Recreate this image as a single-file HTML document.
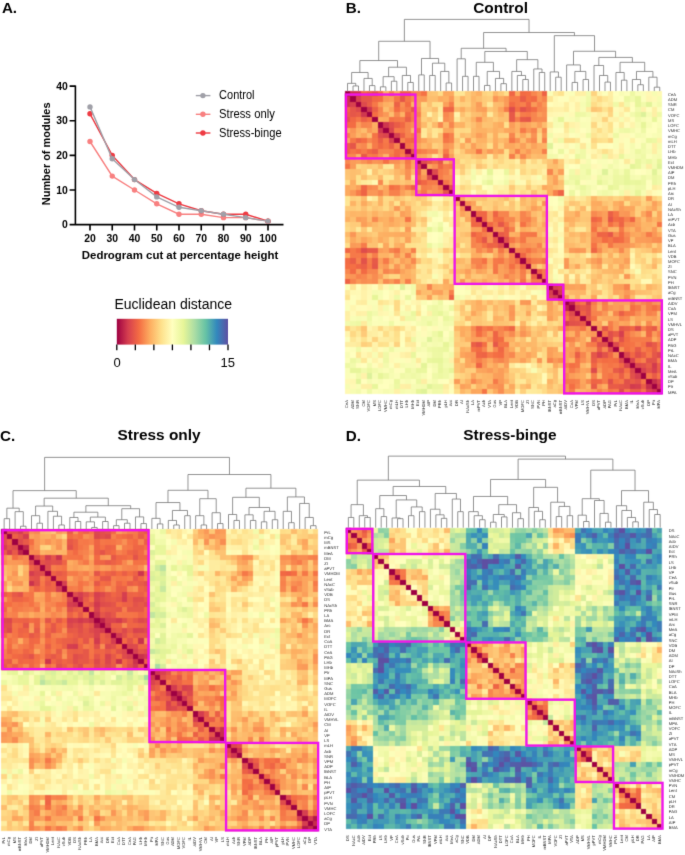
<!DOCTYPE html>
<html><head><meta charset="utf-8"><style>
html,body{margin:0;padding:0;background:#fff;}
svg{display:block;font-family:"Liberation Sans",sans-serif;}
</style></head><body>
<svg width="685" height="855" viewBox="0 0 685 855"><defs><filter id="bl" color-interpolation-filters="sRGB" x="0" y="0" width="685" height="855" filterUnits="userSpaceOnUse"><feConvolveMatrix order="3" kernelMatrix="0.0352 0.1172 0.0352 0.1172 0.3906 0.1172 0.0352 0.1172 0.0352" edgeMode="none" preserveAlpha="false"/></filter><filter id="bl2" color-interpolation-filters="sRGB" x="0" y="0" width="685" height="855" filterUnits="userSpaceOnUse"><feConvolveMatrix order="3" kernelMatrix="0.0094 0.0780 0.0094 0.0780 0.6504 0.0780 0.0094 0.0780 0.0094" edgeMode="none" preserveAlpha="false"/></filter></defs><rect width="685" height="855" fill="#fff"/><g filter="url(#bl)"><g transform="translate(344.800 91.100) scale(5.47759 5.22586)" shape-rendering="crispEdges"><path fill="#9e0142" d="M0 0h1v1H0zM1 1h1v1H1zM2 2h1v1H2zM3 3h1v1H3zM4 4h1v1H4zM5 5h1v1H5zM6 6h1v1H6zM7 7h1v1H7zM8 8h1v1H8zM9 9h1v1H9zM10 10h1v1H10zM11 11h1v1H11zM12 12h1v1H12zM13 13h1v1H13zM14 14h1v1H14zM15 15h1v1H15zM16 16h1v1H16zM17 17h1v1H17zM18 18h1v1H18zM19 19h1v1H19zM20 20h1v1H20zM21 21h1v1H21zM22 22h1v1H22zM23 23h1v1H23zM24 24h1v1H24zM25 25h1v1H25zM26 26h1v1H26zM27 27h1v1H27zM28 28h1v1H28zM29 29h1v1H29zM30 30h1v1H30zM31 31h1v1H31zM32 32h1v1H32zM33 33h1v1H33zM34 34h1v1H34zM35 35h1v1H35zM36 36h1v1H36zM37 37h1v1H37zM38 38h1v1H38zM39 39h1v1H39zM40 40h1v1H40zM41 41h1v1H41zM42 42h1v1H42zM43 43h1v1H43zM44 44h1v1H44zM45 45h1v1H45zM46 46h1v1H46zM47 47h1v1H47zM48 48h1v1H48zM49 49h1v1H49zM50 50h1v1H50zM51 51h1v1H51zM52 52h1v1H52zM53 53h1v1H53zM54 54h1v1H54zM55 55h1v1H55zM56 56h1v1H56zM57 57h1v1H57z"/><path fill="#cc344d" d="M1 0h1v1H1zM0 1h1v1H0z"/><path fill="#cf374e" d="M2 0h1v1H2zM0 2h1v1H0zM7 6h1v1H7zM6 7h1v1H6z"/><path fill="#f26a44" d="M3 0h1v1H3zM34 1h1v1H34zM30 2h1v1H30zM0 3h1v1H0zM34 3h1v1H34zM2 30h1v1H2zM1 34h1v1H1zM3 34h1v1H3z"/><path fill="#eb6046" d="M4 0h1v1H4zM5 3h1v1H5zM0 4h1v1H0zM3 5h1v1H3zM48 23h1v1H48zM23 48h1v1H23zM57 52h1v1H57zM52 57h1v1H52z"/><path fill="#e45449" d="M5 0h1v1H5zM0 5h1v1H0z"/><path fill="#f46e43" d="M6 0h1v1H6zM5 4h1v1H5zM4 5h1v1H4zM0 6h1v1H0zM46 24h1v1H46zM24 46h1v1H24z"/><path fill="#fdae61" d="M7 0h1v1H7zM6 5h1v1H6zM5 6h1v1H5zM24 6h1v1H24zM0 7h1v1H0zM15 10h1v1H15zM10 15h1v1H10zM49 21h1v1H49zM47 22h1v1H47zM6 24h1v1H6zM31 27h1v1H31zM36 28h1v1H36zM27 31h1v1H27zM28 36h1v1H28zM22 47h1v1H22zM56 47h1v1H56zM21 49h1v1H21zM47 56h1v1H47z"/><path fill="#f67e4b" d="M8 0h1v1H8zM31 5h1v1H31zM0 8h1v1H0zM27 25h1v1H27zM30 26h1v1H30zM25 27h1v1H25zM26 30h1v1H26zM5 31h1v1H5zM47 40h1v1H47zM48 44h1v1H48zM40 47h1v1H40zM44 48h1v1H44z"/><path fill="#fca85e" d="M9 0h1v1H9zM18 7h1v1H18zM32 8h1v1H32zM0 9h1v1H0zM30 10h1v1H30zM14 12h1v1H14zM12 14h1v1H12zM7 18h1v1H7zM24 22h1v1H24zM22 24h1v1H22zM57 24h1v1H57zM51 26h1v1H51zM10 30h1v1H10zM8 32h1v1H8zM48 43h1v1H48zM43 48h1v1H43zM26 51h1v1H26zM24 57h1v1H24z"/><path fill="#ed6246" d="M10 0h1v1H10zM0 10h1v1H0zM18 12h1v1H18zM12 18h1v1H12zM29 26h1v1H29zM26 29h1v1H26z"/><path fill="#ed6346" d="M11 0h1v1H11zM0 11h1v1H0z"/><path fill="#f8874f" d="M12 0h1v1H12zM34 0h1v1H34zM0 12h1v1H0zM49 25h1v1H49zM0 34h1v1H0zM45 41h1v1H45zM41 45h1v1H41zM25 49h1v1H25z"/><path fill="#f88850" d="M13 0h1v1H13zM6 4h1v1H6zM4 6h1v1H4zM0 13h1v1H0zM46 25h1v1H46zM50 30h1v1H50zM25 46h1v1H25zM49 47h1v1H49zM47 49h1v1H47zM30 50h1v1H30z"/><path fill="#f57245" d="M14 0h1v1H14zM0 14h1v1H0zM27 24h1v1H27zM45 26h1v1H45zM24 27h1v1H24zM26 45h1v1H26zM53 51h1v1H53zM51 53h1v1H51z"/><path fill="#fdc373" d="M15 0h1v1H15zM24 14h1v1H24zM0 15h1v1H0zM34 19h1v1H34zM27 21h1v1H27zM14 24h1v1H14zM21 27h1v1H21zM42 29h1v1H42zM19 34h1v1H19zM42 36h1v1H42zM29 42h1v1H29zM36 42h1v1H36zM52 44h1v1H52zM44 52h1v1H44z"/><path fill="#fdc675" d="M16 0h1v1H16zM22 5h1v1H22zM35 7h1v1H35zM22 10h1v1H22zM0 16h1v1H0zM5 22h1v1H5zM10 22h1v1H10zM36 22h1v1H36zM43 24h1v1H43zM46 34h1v1H46zM7 35h1v1H7zM22 36h1v1H22zM24 43h1v1H24zM34 46h1v1H34z"/><path fill="#fedb87" d="M17 0h1v1H17zM20 7h1v1H20zM22 7h1v1H22zM0 17h1v1H0zM7 20h1v1H7zM40 21h1v1H40zM7 22h1v1H7zM51 34h1v1H51zM56 36h2v1H56zM47 37h1v1H47zM21 40h1v1H21zM37 47h1v1H37zM34 51h1v1H34zM36 56h1v1H36zM36 57h1v1H36z"/><path fill="#fca95f" d="M18 0h1v1H18zM27 10h1v1H27zM29 10h1v1H29zM23 11h1v1H23zM0 18h1v1H0zM36 18h1v1H36zM11 23h1v1H11zM10 27h1v1H10zM10 29h1v1H10zM56 30h1v1H56zM34 33h1v1H34zM33 34h1v1H33zM18 36h1v1H18zM52 38h1v1H52zM47 43h1v1H47zM50 44h1v1H50zM43 47h1v1H43zM44 50h1v1H44zM38 52h1v1H38zM30 56h1v1H30z"/><path fill="#fcaa5f" d="M19 0h1v1H19zM28 1h1v1H28zM21 3h1v1H21zM7 5h1v1H7zM5 7h1v1H5zM25 8h1v1H25zM0 19h1v1H0zM21 20h1v1H21zM3 21h1v1H3zM20 21h1v1H20zM46 21h1v1H46zM8 25h1v1H8zM53 27h1v1H53zM1 28h1v1H1zM21 46h1v1H21zM27 53h1v1H27z"/><path fill="#fee593" d="M20 0h1v1H20zM16 12h1v1H16zM29 13h1v1H29zM28 14h2v1H28zM33 15h1v1H33zM12 16h1v1H12zM0 20h1v1H0zM14 28h1v1H14zM13 29h2v1H13zM15 33h1v1H15z"/><path fill="#fee695" d="M21 0h1v1H21zM45 1h1v1H45zM47 1h1v1H47zM30 15h1v1H30zM35 15h1v1H35zM0 21h1v1H0zM29 21h1v1H29zM38 23h1v1H38zM21 29h1v1H21zM15 30h1v1H15zM15 35h1v1H15zM50 35h1v1H50zM55 35h1v1H55zM23 38h1v1H23zM1 45h1v1H1zM1 47h1v1H1zM35 50h1v1H35zM35 55h1v1H35z"/><path fill="#fecb7a" d="M22 0h1v1H22zM28 21h1v1H28zM0 22h1v1H0zM44 25h1v1H44zM21 28h1v1H21zM25 44h1v1H25z"/><path fill="#fdbc6d" d="M23 0h1v1H23zM24 4h1v1H24zM36 6h1v1H36zM0 23h1v1H0zM34 23h1v1H34zM4 24h1v1H4zM56 25h1v1H56zM44 27h1v1H44zM23 34h1v1H23zM6 36h1v1H6zM27 44h1v1H27zM25 56h1v1H25z"/><path fill="#fdb063" d="M24 0h1v1H24zM19 11h1v1H19zM34 11h1v1H34zM11 19h1v1H11zM45 22h1v1H45zM0 24h1v1H0zM41 24h1v1H41zM43 27h1v1H43zM48 31h1v1H48zM49 32h1v1H49zM11 34h1v1H11zM50 39h1v1H50zM24 41h1v1H24zM46 41h1v1H46zM27 43h1v1H27zM22 45h1v1H22zM41 46h1v1H41zM31 48h1v1H31zM32 49h1v1H32zM39 50h1v1H39z"/><path fill="#fed380" d="M25 0h1v1H25zM45 0h1v1H45zM16 4h1v1H16zM24 13h1v1H24zM4 16h1v1H4zM21 18h1v1H21zM18 21h1v1H18zM54 21h1v1H54zM13 24h1v1H13zM0 25h1v1H0zM53 30h1v1H53zM56 35h1v1H56zM44 37h1v1H44zM37 44h1v1H37zM0 45h1v1H0zM30 53h1v1H30zM21 54h1v1H21zM35 56h1v1H35z"/><path fill="#fed985" d="M26 0h1v1H26zM20 8h1v1H20zM22 13h1v1H22zM30 19h1v1H30zM8 20h1v1H8zM44 20h1v1H44zM54 20h1v1H54zM13 22h1v1H13zM0 26h1v1H0zM19 30h1v1H19zM53 32h1v1H53zM54 33h1v1H54zM44 35h1v1H44zM20 44h1v1H20zM35 44h1v1H35zM32 53h1v1H32zM20 54h1v1H20zM33 54h1v1H33z"/><path fill="#fdb96a" d="M27 0h1v1H27zM23 7h1v1H23zM26 7h1v1H26zM33 10h1v1H33zM32 21h1v1H32zM7 23h1v1H7zM41 23h1v1H41zM7 26h1v1H7zM49 26h1v1H49zM0 27h1v1H0zM21 32h1v1H21zM10 33h1v1H10zM48 34h1v1H48zM23 41h1v1H23zM56 44h1v1H56zM34 48h1v1H34zM26 49h1v1H26zM44 56h1v1H44z"/><path fill="#feca78" d="M28 0h1v1H28zM42 21h1v1H42zM0 28h1v1H0zM43 29h1v1H43zM54 30h1v1H54zM21 42h1v1H21zM29 43h1v1H29zM30 54h1v1H30z"/><path fill="#fede8a" d="M29 0h1v1H29zM0 29h1v1H0z"/><path fill="#f06645" d="M30 0h1v1H30zM25 23h1v1H25zM25 24h1v1H25zM23 25h2v1H23zM0 30h1v1H0z"/><path fill="#fdab60" d="M31 0h1v1H31zM22 11h1v1H22zM37 19h1v1H37zM11 22h1v1H11zM36 23h1v1H36zM0 31h1v1H0zM23 36h1v1H23zM19 37h1v1H19z"/><path fill="#f26b44" d="M32 0h1v1H32zM11 9h1v1H11zM9 11h1v1H9zM0 32h1v1H0z"/><path fill="#f46e44" d="M33 0h1v1H33zM28 24h1v1H28zM24 28h1v1H24zM0 33h1v1H0zM56 41h1v1H56zM41 56h1v1H41z"/><path fill="#fa9957" d="M35 0h1v1H35zM7 4h1v1H7zM4 7h1v1H4zM33 7h1v1H33zM36 8h1v1H36zM33 11h1v1H33zM40 32h1v1H40zM7 33h1v1H7zM11 33h1v1H11zM0 35h1v1H0zM8 36h1v1H8zM51 38h1v1H51zM32 40h1v1H32zM49 44h1v1H49zM49 45h1v1H49zM53 46h1v1H53zM44 49h2v1H44zM38 51h1v1H38zM46 53h1v1H46z"/><path fill="#ee6345" d="M36 0h1v1H36zM27 23h1v1H27zM23 27h1v1H23zM35 34h1v1H35zM34 35h1v1H34zM0 36h1v1H0z"/><path fill="#fbfdb8" d="M37 0h1v1H37zM54 0h1v1H54zM53 7h1v1H53zM42 8h1v1H42zM54 9h1v1H54zM55 10h1v1H55zM31 15h1v1H31zM15 31h1v1H15zM0 37h1v1H0zM8 42h1v1H8zM7 53h1v1H7zM0 54h1v1H0zM9 54h1v1H9zM10 55h1v1H10z"/><path fill="#feeb9e" d="M38 0h1v1H38zM48 11h1v1H48zM26 12h1v1H26zM45 12h1v1H45zM26 13h1v1H26zM37 23h1v1H37zM38 25h1v1H38zM12 26h2v1H12zM57 33h1v1H57zM52 34h1v1H52zM23 37h1v1H23zM0 38h1v1H0zM25 38h1v1H25zM12 45h1v1H12zM11 48h1v1H11zM34 52h1v1H34zM33 57h1v1H33z"/><path fill="#fee28e" d="M39 0h1v1H39zM17 2h1v1H17zM48 7h1v1H48zM47 9h1v1H47zM29 12h1v1H29zM27 13h1v1H27zM2 17h1v1H2zM13 27h1v1H13zM12 29h1v1H12zM54 35h1v1H54zM47 38h1v1H47zM0 39h1v1H0zM9 47h1v1H9zM38 47h1v1H38zM7 48h1v1H7zM35 54h1v1H35z"/><path fill="#fffbb9" d="M40 0h1v1H40zM41 2h1v1H41zM51 11h1v1H51zM46 14h1v1H46zM39 30h1v1H39zM30 39h1v1H30zM0 40h1v1H0zM2 41h1v1H2zM14 46h1v1H14zM11 51h1v1H11z"/><path fill="#fbfeb9" d="M41 0h1v1H41zM0 41h1v1H0z"/><path fill="#feefa4" d="M42 0h1v1H42zM46 5h1v1H46zM56 11h1v1H56zM29 18h1v1H29zM37 28h1v1H37zM18 29h1v1H18zM52 32h1v1H52zM28 37h1v1H28zM0 42h1v1H0zM5 46h1v1H5zM32 52h1v1H32zM11 56h1v1H11z"/><path fill="#fff0a5" d="M43 0h1v1H43zM52 9h1v1H52zM56 10h1v1H56zM31 13h1v1H31zM24 15h1v1H24zM27 18h1v1H27zM15 24h1v1H15zM18 27h1v1H18zM13 31h1v1H13zM0 43h1v1H0zM9 52h1v1H9zM10 56h1v1H10z"/><path fill="#f3faad" d="M44 0h1v1H44zM57 2h1v1H57zM42 5h1v1H42zM53 12h1v1H53zM26 16h1v1H26zM44 19h1v1H44zM48 19h1v1H48zM16 26h1v1H16zM5 42h1v1H5zM0 44h1v1H0zM19 44h1v1H19zM19 48h1v1H19zM12 53h1v1H12zM2 57h1v1H2z"/><path fill="#fff5ae" d="M46 0h1v1H46zM46 6h1v1H46zM48 8h1v1H48zM0 46h1v1H0zM6 46h1v1H6zM8 48h1v1H8z"/><path fill="#fdfebb" d="M47 0h1v1H47zM52 8h1v1H52zM44 9h1v1H44zM50 13h1v1H50zM37 20h1v1H37zM37 26h1v1H37zM20 37h1v1H20zM26 37h1v1H26zM9 44h1v1H9zM0 47h1v1H0zM13 50h1v1H13zM8 52h1v1H8z"/><path fill="#feeea3" d="M48 0h1v1H48zM40 2h1v1H40zM37 3h1v1H37zM45 5h1v1H45zM47 6h1v1H47zM50 11h1v1H50zM55 14h1v1H55zM3 37h1v1H3zM2 40h1v1H2zM5 45h1v1H5zM6 47h1v1H6zM0 48h1v1H0zM11 50h1v1H11zM14 55h1v1H14z"/><path fill="#ffffbe" d="M49 0h1v1H49zM56 7h1v1H56zM40 15h1v1H40zM28 16h1v1H28zM38 21h1v1H38zM16 28h1v1H16zM39 29h1v1H39zM21 38h1v1H21zM29 39h1v1H29zM15 40h1v1H15zM0 49h1v1H0zM7 56h1v1H7z"/><path fill="#f9fcb5" d="M50 0h1v1H50zM43 3h1v1H43zM41 5h1v1H41zM37 11h1v1H37zM46 15h1v1H46zM11 37h1v1H11zM5 41h1v1H5zM3 43h1v1H3zM15 46h1v1H15zM0 50h1v1H0z"/><path fill="#fcfebb" d="M51 0h1v1H51zM54 1h1v1H54zM43 5h1v1H43zM41 10h1v1H41zM40 11h1v1H40zM44 12h1v1H44zM55 12h1v1H55zM38 34h1v1H38zM34 38h1v1H34zM11 40h1v1H11zM10 41h1v1H10zM5 43h1v1H5zM12 44h1v1H12zM0 51h1v1H0zM1 54h1v1H1zM12 55h1v1H12z"/><path fill="#eef8a4" d="M52 0h1v1H52zM49 8h1v1H49zM41 16h1v1H41zM50 16h1v1H50zM40 17h1v1H40zM17 40h1v1H17zM16 41h1v1H16zM8 49h1v1H8zM16 50h1v1H16zM0 52h1v1H0z"/><path fill="#fafdb7" d="M53 0h1v1H53zM40 4h1v1H40zM49 4h1v1H49zM44 6h1v1H44zM37 9h1v1H37zM46 13h1v1H46zM40 14h1v1H40zM55 15h1v1H55zM9 37h1v1H9zM4 40h1v1H4zM14 40h1v1H14zM6 44h1v1H6zM13 46h1v1H13zM4 49h1v1H4zM0 53h1v1H0zM15 55h1v1H15z"/><path fill="#fff8b3" d="M55 0h1v1H55zM38 1h1v1H38zM37 7h1v1H37zM37 29h1v1H37zM39 36h1v1H39zM7 37h1v1H7zM29 37h1v1H29zM1 38h1v1H1zM36 39h1v1H36zM0 55h1v1H0z"/><path fill="#f7fcb2" d="M56 0h1v1H56zM57 1h1v1H57zM53 6h1v1H53zM54 8h1v1H54zM42 10h1v1H42zM51 12h1v1H51zM50 15h1v1H50zM53 16h1v1H53zM54 19h1v1H54zM10 42h1v1H10zM15 50h1v1H15zM12 51h1v1H12zM6 53h1v1H6zM16 53h1v1H16zM8 54h1v1H8zM19 54h1v1H19zM0 56h1v1H0zM1 57h1v1H1z"/><path fill="#fff9b4" d="M57 0h1v1H57zM0 57h1v1H0z"/><path fill="#d7414e" d="M2 1h1v1H2zM1 2h1v1H1z"/><path fill="#e55649" d="M3 1h1v1H3zM10 1h1v1H10zM1 3h1v1H1zM1 10h1v1H1zM12 11h1v1H12zM11 12h1v1H11zM19 18h1v1H19zM18 19h1v1H18zM28 25h1v1H28zM25 28h1v1H25z"/><path fill="#e55749" d="M4 1h1v1H4zM1 4h1v1H1zM33 5h1v1H33zM5 33h1v1H5zM56 50h1v1H56zM50 56h1v1H50z"/><path fill="#f16844" d="M5 1h1v1H5zM11 4h1v1H11zM1 5h1v1H1zM12 9h1v1H12zM4 11h1v1H4zM9 12h1v1H9zM26 25h1v1H26zM25 26h1v1H25zM42 40h1v1H42zM40 42h1v1H40zM52 45h1v1H52zM52 50h1v1H52zM45 52h1v1H45zM50 52h1v1H50z"/><path fill="#f36c43" d="M6 1h1v1H6zM11 2h1v1H11zM1 6h1v1H1zM2 11h1v1H2zM49 24h1v1H49zM47 28h1v1H47zM28 47h1v1H28zM51 47h1v1H51zM24 49h1v1H24zM51 49h1v1H51zM47 51h1v1H47zM49 51h1v1H49z"/><path fill="#fa9656" d="M7 1h1v1H7zM27 1h1v1H27zM13 5h1v1H13zM1 7h1v1H1zM33 9h1v1H33zM18 10h1v1H18zM5 13h1v1H5zM10 18h1v1H10zM33 23h1v1H33zM46 23h1v1H46zM51 23h1v1H51zM1 27h1v1H1zM9 33h1v1H9zM23 33h1v1H23zM48 41h1v1H48zM50 41h1v1H50zM23 46h1v1H23zM41 48h1v1H41zM41 50h1v1H41zM23 51h1v1H23z"/><path fill="#fb9d59" d="M8 1h1v1H8zM31 4h1v1H31zM35 4h1v1H35zM30 6h1v1H30zM1 8h1v1H1zM50 22h1v1H50zM56 26h1v1H56zM53 28h2v1H53zM6 30h1v1H6zM4 31h1v1H4zM4 35h1v1H4zM49 41h1v1H49zM54 41h1v1H54zM41 49h1v1H41zM22 50h1v1H22zM28 53h1v1H28zM28 54h1v1H28zM41 54h1v1H41zM26 56h1v1H26z"/><path fill="#f57747" d="M9 1h1v1H9zM1 9h1v1H1zM48 28h1v1H48zM28 48h1v1H28z"/><path fill="#f57647" d="M11 1h1v1H11zM10 7h1v1H10zM18 9h1v1H18zM7 10h1v1H7zM11 10h1v1H11zM1 11h1v1H1zM10 11h1v1H10zM9 18h1v1H9zM34 27h1v1H34zM30 28h1v1H30zM32 28h1v1H32zM48 29h1v1H48zM28 30h1v1H28zM28 32h1v1H28zM27 34h1v1H27zM52 42h1v1H52zM29 48h1v1H29zM42 52h1v1H42zM55 54h1v1H55zM54 55h1v1H54z"/><path fill="#f88a50" d="M12 1h1v1H12zM1 12h1v1H1zM45 23h1v1H45zM29 24h1v1H29zM27 26h1v1H27zM26 27h1v1H26zM24 29h1v1H24zM55 44h1v1H55zM23 45h1v1H23zM44 55h1v1H44z"/><path fill="#fb9c59" d="M13 1h1v1H13zM29 2h1v1H29zM1 13h1v1H1zM2 29h1v1H2z"/><path fill="#fa9b58" d="M14 1h1v1H14zM1 14h1v1H1zM55 20h1v1H55zM30 29h1v1H30zM34 29h1v1H34zM29 30h1v1H29zM29 34h1v1H29zM56 46h1v1H56zM20 55h1v1H20zM46 56h1v1H46z"/><path fill="#fdbe6e" d="M15 1h2v1H15zM7 3h1v1H7zM16 3h1v1H16zM3 7h1v1H3zM24 12h1v1H24zM31 12h1v1H31zM34 12h1v1H34zM1 15h1v1H1zM1 16h1v1H1zM3 16h1v1H3zM12 24h1v1H12zM12 31h1v1H12zM12 34h1v1H12zM56 37h1v1H56zM37 56h1v1H37z"/><path fill="#fdad61" d="M17 1h1v1H17zM1 17h1v1H1zM31 24h1v1H31zM24 31h1v1H24z"/><path fill="#fdb164" d="M18 1h1v1H18zM29 9h1v1H29zM35 10h1v1H35zM25 11h1v1H25zM1 18h1v1H1zM23 22h1v1H23zM22 23h1v1H22zM11 25h1v1H11zM9 29h1v1H9zM51 30h1v1H51zM10 35h1v1H10zM46 43h1v1H46zM43 46h1v1H43zM30 51h1v1H30z"/><path fill="#fa9857" d="M19 1h1v1H19zM36 2h1v1H36zM19 5h1v1H19zM22 9h1v1H22zM1 19h1v1H1zM5 19h1v1H5zM9 22h1v1H9zM2 36h1v1H2zM53 40h1v1H53zM47 42h1v1H47zM42 47h1v1H42zM40 53h1v1H40z"/><path fill="#fed07e" d="M20 1h1v1H20zM20 14h1v1H20zM25 14h1v1H25zM1 20h1v1H1zM14 20h1v1H14zM47 20h1v1H47zM26 21h1v1H26zM29 22h1v1H29zM14 25h1v1H14zM21 26h1v1H21zM31 26h1v1H31zM22 29h1v1H22zM26 31h1v1H26zM20 47h1v1H20z"/><path fill="#fdb365" d="M21 1h1v1H21zM12 2h1v1H12zM31 7h1v1H31zM31 10h1v1H31zM2 12h1v1H2zM1 21h1v1H1zM30 23h1v1H30zM33 26h1v1H33zM30 27h1v1H30zM23 30h1v1H23zM27 30h1v1H27zM7 31h1v1H7zM10 31h1v1H10zM51 31h1v1H51zM50 32h1v1H50zM26 33h1v1H26zM32 50h1v1H32zM31 51h1v1H31z"/><path fill="#fecb79" d="M22 1h1v1H22zM25 1h1v1H25zM23 9h1v1H23zM28 10h1v1H28zM17 12h1v1H17zM12 17h1v1H12zM46 20h1v1H46zM1 22h1v1H1zM9 23h1v1H9zM1 25h1v1H1zM10 28h1v1H10zM44 30h1v1H44zM42 35h1v1H42zM53 37h1v1H53zM35 42h1v1H35zM30 44h1v1H30zM20 46h1v1H20zM37 53h1v1H37z"/><path fill="#fdb567" d="M23 1h1v1H23zM8 2h1v1H8zM12 7h1v1H12zM2 8h1v1H2zM23 8h1v1H23zM7 12h1v1H7zM32 20h1v1H32zM49 22h1v1H49zM1 23h1v1H1zM8 23h1v1H8zM43 28h1v1H43zM20 32h1v1H20zM45 33h1v1H45zM51 33h1v1H51zM43 38h1v1H43zM28 43h1v1H28zM38 43h1v1H38zM33 45h1v1H33zM22 49h1v1H22zM33 51h1v1H33z"/><path fill="#fdbf6f" d="M24 1h1v1H24zM31 8h1v1H31zM38 15h1v1H38zM1 24h1v1H1zM35 25h1v1H35zM8 31h1v1H8zM25 35h1v1H25zM15 38h1v1H15z"/><path fill="#fecf7d" d="M26 1h1v1H26zM14 3h1v1H14zM14 5h1v1H14zM21 5h1v1H21zM3 14h1v1H3zM5 14h1v1H5zM27 20h1v1H27zM5 21h1v1H5zM53 23h1v1H53zM1 26h1v1H1zM20 27h1v1H20zM42 31h1v1H42zM54 32h1v1H54zM43 33h1v1H43zM55 33h1v1H55zM31 42h1v1H31zM33 43h1v1H33zM23 53h1v1H23zM32 54h1v1H32zM33 55h1v1H33z"/><path fill="#fa9a58" d="M29 1h1v1H29zM34 2h1v1H34zM26 11h1v1H26zM30 25h1v1H30zM11 26h1v1H11zM53 26h1v1H53zM55 28h1v1H55zM1 29h1v1H1zM25 30h1v1H25zM41 30h1v1H41zM43 30h1v1H43zM2 34h1v1H2zM57 40h1v1H57zM30 41h1v1H30zM30 43h1v1H30zM26 53h1v1H26zM28 55h1v1H28zM40 57h1v1H40z"/><path fill="#f67948" d="M30 1h1v1H30zM33 4h1v1H33zM1 30h1v1H1zM4 33h1v1H4zM43 40h1v1H43zM40 43h1v1H40zM48 45h1v1H48zM45 48h1v1H45zM55 50h1v1H55zM50 55h1v1H50z"/><path fill="#f67949" d="M31 1h1v1H31zM32 27h1v1H32zM1 31h1v1H1zM27 32h1v1H27zM52 49h1v1H52zM49 52h1v1H49z"/><path fill="#e95d47" d="M32 1h1v1H32zM9 6h1v1H9zM6 9h1v1H6zM1 32h1v1H1zM51 45h1v1H51zM49 46h1v1H49zM46 49h1v1H46zM45 51h1v1H45zM55 52h1v1H55zM52 55h1v1H52z"/><path fill="#f47044" d="M33 1h1v1H33zM31 3h1v1H31zM3 31h1v1H3zM1 33h1v1H1zM51 48h1v1H51zM55 49h1v1H55zM48 51h1v1H48zM49 55h1v1H49z"/><path fill="#fa9556" d="M35 1h1v1H35zM1 35h1v1H1z"/><path fill="#f7844e" d="M36 1h1v1H36zM34 7h1v1H34zM18 15h1v1H18zM15 18h1v1H15zM29 23h1v1H29zM32 23h1v1H32zM51 28h1v1H51zM23 29h1v1H23zM23 32h1v1H23zM7 34h1v1H7zM1 36h1v1H1zM51 37h1v1H51zM28 51h1v1H28zM37 51h1v1H37z"/><path fill="#fee696" d="M37 1h1v1H37zM50 2h1v1H50zM37 30h1v1H37zM1 37h1v1H1zM30 37h1v1H30zM47 39h1v1H47zM39 47h1v1H39zM2 50h1v1H2z"/><path fill="#fffdbc" d="M39 1h1v1H39zM52 2h1v1H52zM43 9h1v1H43zM53 9h1v1H53zM38 10h1v1H38zM46 10h1v1H46zM48 13h1v1H48zM28 15h1v1H28zM20 16h1v1H20zM16 20h1v1H16zM15 28h1v1H15zM10 38h1v1H10zM1 39h1v1H1zM9 43h1v1H9zM10 46h1v1H10zM13 48h1v1H13zM2 52h1v1H2zM9 53h1v1H9z"/><path fill="#fdfebc" d="M40 1h1v1H40zM57 3h1v1H57zM41 8h1v1H41zM55 8h1v1H55zM53 10h1v1H53zM42 14h1v1H42zM57 19h1v1H57zM37 21h1v1H37zM21 37h1v1H21zM1 40h1v1H1zM8 41h1v1H8zM14 42h1v1H14zM10 53h1v1H10zM8 55h1v1H8zM3 57h1v1H3zM19 57h1v1H19z"/><path fill="#fff6af" d="M41 1h1v1H41zM45 11h1v1H45zM52 31h1v1H52zM1 41h1v1H1zM11 45h1v1H11zM31 52h1v1H31z"/><path fill="#fffab7" d="M42 1h1v1H42zM39 2h1v1H39zM50 8h1v1H50zM50 9h1v1H50zM44 11h1v1H44zM45 16h1v1H45zM55 36h1v1H55zM2 39h1v1H2zM1 42h1v1H1zM11 44h1v1H11zM16 45h1v1H16zM8 50h2v1H8zM36 55h1v1H36z"/><path fill="#f9fdb6" d="M43 1h1v1H43zM43 6h1v1H43zM56 8h1v1H56zM49 9h1v1H49zM44 10h1v1H44zM47 14h1v1H47zM51 14h1v1H51zM25 16h1v1H25zM28 17h1v1H28zM16 25h1v1H16zM39 25h1v1H39zM17 28h1v1H17zM38 35h1v1H38zM35 38h1v1H35zM25 39h1v1H25zM1 43h1v1H1zM6 43h1v1H6zM10 44h1v1H10zM14 47h1v1H14zM9 49h1v1H9zM14 51h1v1H14zM8 56h1v1H8z"/><path fill="#f0f9a8" d="M44 1h1v1H44zM57 16h1v1H57zM54 18h1v1H54zM47 19h1v1H47zM1 44h1v1H1zM19 47h1v1H19zM18 54h1v1H18zM16 57h1v1H16z"/><path fill="#fed884" d="M46 1h1v1H46zM14 2h1v1H14zM2 14h1v1H2zM35 21h1v1H35zM21 35h1v1H21zM1 46h1v1H1z"/><path fill="#feeda1" d="M48 1h1v1H48zM46 4h1v1H46zM47 7h1v1H47zM46 11h1v1H46zM41 13h1v1H41zM21 17h1v1H21zM17 21h1v1H17zM38 32h1v1H38zM32 38h1v1H32zM13 41h1v1H13zM4 46h1v1H4zM11 46h1v1H11zM7 47h1v1H7zM1 48h1v1H1z"/><path fill="#fcfeba" d="M49 1h1v1H49zM51 4h1v1H51zM57 5h1v1H57zM51 9h1v1H51zM51 10h1v1H51zM39 12h1v1H39zM50 14h1v1H50zM45 15h1v1H45zM27 17h1v1H27zM26 18h1v1H26zM38 22h1v1H38zM18 26h1v1H18zM17 27h1v1H17zM37 32h1v1H37zM39 33h1v1H39zM32 37h1v1H32zM22 38h1v1H22zM12 39h1v1H12zM33 39h1v1H33zM15 45h1v1H15zM1 49h1v1H1zM14 50h1v1H14zM4 51h1v1H4zM9 51h2v1H9zM5 57h1v1H5z"/><path fill="#ffffbf" d="M50 1h1v1H50zM52 3h1v1H52zM39 7h1v1H39zM45 13h1v1H45zM41 14h1v1H41zM53 15h1v1H53zM27 16h1v1H27zM24 17h1v1H24zM25 18h1v1H25zM40 18h1v1H40zM17 24h1v1H17zM18 25h1v1H18zM16 27h1v1H16zM7 39h1v1H7zM18 40h1v1H18zM14 41h1v1H14zM13 45h1v1H13zM1 50h1v1H1zM3 52h1v1H3zM15 53h1v1H15z"/><path fill="#ecf7a2" d="M51 1h1v1H51zM56 16h1v1H56zM56 17h1v1H56zM1 51h1v1H1zM16 56h2v1H16z"/><path fill="#f2faab" d="M52 1h1v1H52zM53 3h1v1H53zM37 8h1v1H37zM54 11h1v1H54zM54 13h1v1H54zM43 14h1v1H43zM42 18h1v1H42zM44 18h1v1H44zM50 19h1v1H50zM8 37h1v1H8zM18 42h1v1H18zM14 43h1v1H14zM18 44h1v1H18zM19 50h1v1H19zM1 52h1v1H1zM3 53h1v1H3zM11 54h1v1H11zM13 54h1v1H13z"/><path fill="#e7f59a" d="M53 1h1v1H53zM53 2h1v1H53zM57 13h1v1H57zM53 19h1v1H53zM1 53h2v1H1zM19 53h1v1H19zM13 57h1v1H13z"/><path fill="#fff6b0" d="M55 1h1v1H55zM37 4h1v1H37zM40 10h1v1H40zM30 16h1v1H30zM16 30h1v1H16zM4 37h1v1H4zM10 40h1v1H10zM1 55h1v1H1z"/><path fill="#fff9b5" d="M56 1h1v1H56zM38 2h1v1H38zM39 4h1v1H39zM41 4h1v1H41zM38 8h1v1H38zM43 8h1v1H43zM43 13h1v1H43zM45 14h1v1H45zM31 16h1v1H31zM32 17h1v1H32zM16 31h1v1H16zM17 32h1v1H17zM2 38h1v1H2zM8 38h1v1H8zM4 39h1v1H4zM4 41h1v1H4zM8 43h1v1H8zM13 43h1v1H13zM14 45h1v1H14zM1 56h1v1H1z"/><path fill="#dd4a4c" d="M3 2h1v1H3zM2 3h1v1H2z"/><path fill="#e95c47" d="M4 2h1v1H4zM2 4h1v1H2zM56 49h1v1H56zM56 54h1v1H56zM49 56h1v1H49zM54 56h1v1H54z"/><path fill="#f67848" d="M5 2h1v1H5zM2 5h1v1H2zM13 11h1v1H13zM11 13h1v1H11zM19 14h1v1H19zM14 19h1v1H14z"/><path fill="#fb9e5a" d="M6 2h1v1H6zM2 6h1v1H2zM32 6h1v1H32zM19 12h1v1H19zM12 19h1v1H12zM34 22h1v1H34zM47 24h1v1H47zM46 29h1v1H46zM52 29h1v1H52zM6 32h1v1H6zM22 34h1v1H22zM57 45h1v1H57zM29 46h1v1H29zM24 47h1v1H24zM29 52h1v1H29zM45 57h1v1H45z"/><path fill="#fdb062" d="M7 2h1v1H7zM2 7h1v1H2z"/><path fill="#ec6246" d="M9 2h1v1H9zM2 9h1v1H2z"/><path fill="#f99053" d="M10 2h1v1H10zM12 6h1v1H12zM2 10h1v1H2zM15 11h1v1H15zM6 12h1v1H6zM11 15h1v1H11zM18 16h1v1H18zM16 18h1v1H16zM56 28h1v1H56zM36 30h1v1H36zM30 36h1v1H30zM28 56h1v1H28z"/><path fill="#fba15b" d="M13 2h1v1H13zM24 3h1v1H24zM35 6h1v1H35zM2 13h1v1H2zM3 24h1v1H3zM34 24h1v1H34zM55 24h1v1H55zM24 34h1v1H24zM6 35h1v1H6zM56 43h1v1H56zM24 55h1v1H24zM43 56h1v1H43z"/><path fill="#fdc171" d="M15 2h1v1H15zM29 5h1v1H29zM32 13h1v1H32zM2 15h1v1H2zM23 20h1v1H23zM20 23h1v1H20zM5 29h1v1H5zM40 30h1v1H40zM13 32h1v1H13zM56 32h1v1H56zM40 38h1v1H40zM46 38h1v1H46zM57 39h1v1H57zM30 40h1v1H30zM38 40h1v1H38zM38 46h1v1H38zM32 56h1v1H32zM39 57h1v1H39z"/><path fill="#fee08b" d="M16 2h1v1H16zM48 6h1v1H48zM17 7h1v1H17zM26 10h1v1H26zM29 11h1v1H29zM2 16h1v1H2zM7 17h1v1H7zM22 18h1v1H22zM18 22h1v1H18zM10 26h1v1H10zM11 29h1v1H11zM43 31h1v1H43zM55 34h1v1H55zM31 43h1v1H31zM6 48h1v1H6zM34 55h1v1H34z"/><path fill="#fba05a" d="M18 2h1v1H18zM32 10h1v1H32zM2 18h1v1H2zM26 24h1v1H26zM24 26h1v1H24zM10 32h1v1H10zM45 32h1v1H45zM49 37h1v1H49zM49 40h1v1H49zM53 44h1v1H53zM32 45h1v1H32zM37 49h1v1H37zM40 49h1v1H40zM44 53h1v1H44z"/><path fill="#f67d4a" d="M19 2h1v1H19zM32 4h1v1H32zM2 19h1v1H2zM4 32h1v1H4zM34 32h1v1H34zM32 34h1v1H32zM36 34h1v1H36zM34 36h1v1H34z"/><path fill="#fed582" d="M20 2h1v1H20zM48 4h1v1H48zM16 5h1v1H16zM45 9h1v1H45zM5 16h1v1H5zM2 20h1v1H2zM49 20h1v1H49zM41 26h1v1H41zM49 31h1v1H49zM43 32h1v1H43zM26 41h1v1H26zM32 43h1v1H32zM9 45h1v1H9zM4 48h1v1H4zM20 49h1v1H20zM31 49h1v1H31z"/><path fill="#fece7c" d="M21 2h1v1H21zM15 3h1v1H15zM20 10h1v1H20zM3 15h1v1H3zM21 15h1v1H21zM10 20h1v1H10zM56 20h1v1H56zM2 21h1v1H2zM15 21h1v1H15zM28 22h1v1H28zM22 28h1v1H22zM52 35h1v1H52zM48 39h1v1H48zM39 48h1v1H39zM35 52h1v1H35zM20 56h1v1H20z"/><path fill="#fed17f" d="M22 2h1v1H22zM15 7h1v1H15zM26 8h1v1H26zM7 15h1v1H7zM26 20h1v1H26zM2 22h1v1H2zM26 22h1v1H26zM8 26h1v1H8zM20 26h1v1H20zM22 26h1v1H22zM47 36h1v1H47zM36 47h1v1H36z"/><path fill="#fdb869" d="M23 2h1v1H23zM25 5h1v1H25zM14 10h1v1H14zM24 10h1v1H24zM10 14h1v1H10zM2 23h1v1H2zM10 24h1v1H10zM5 25h1v1H5zM40 26h1v1H40zM41 27h1v1H41zM26 40h1v1H26zM27 41h1v1H27zM54 46h1v1H54zM46 54h1v1H46z"/><path fill="#fa9c59" d="M24 2h1v1H24zM2 24h1v1H2z"/><path fill="#fecc7a" d="M25 2h1v1H25zM27 5h1v1H27zM22 6h1v1H22zM50 20h1v1H50zM6 22h1v1H6zM2 25h1v1H2zM5 27h1v1H5zM40 27h1v1H40zM35 33h1v1H35zM33 35h1v1H33zM48 35h1v1H48zM48 37h1v1H48zM57 38h1v1H57zM27 40h1v1H27zM35 48h1v1H35zM37 48h1v1H37zM20 50h1v1H20zM38 57h1v1H38z"/><path fill="#fee99a" d="M26 2h1v1H26zM20 5h1v1H20zM26 14h1v1H26zM22 17h1v1H22zM22 19h1v1H22zM28 19h1v1H28zM5 20h1v1H5zM17 22h1v1H17zM19 22h1v1H19zM2 26h1v1H2zM14 26h1v1H14zM19 28h1v1H19zM37 36h1v1H37zM44 36h1v1H44zM36 37h1v1H36zM36 44h1v1H36z"/><path fill="#fdbd6e" d="M27 2h1v1H27zM21 8h1v1H21zM16 9h1v1H16zM17 11h1v1H17zM27 12h1v1H27zM9 16h1v1H9zM11 17h1v1H11zM38 18h1v1H38zM8 21h1v1H8zM54 24h1v1H54zM2 27h1v1H2zM12 27h1v1H12zM18 38h1v1H18zM53 38h1v1H53zM57 42h1v1H57zM38 53h1v1H38zM24 54h1v1H24zM42 57h1v1H42z"/><path fill="#fdba6b" d="M28 2h1v1H28zM14 6h1v1H14zM18 6h1v1H18zM15 12h1v1H15zM36 12h1v1H36zM6 14h1v1H6zM12 15h1v1H12zM37 17h1v1H37zM6 18h1v1H6zM33 22h1v1H33zM40 23h1v1H40zM2 28h1v1H2zM41 29h1v1H41zM54 29h1v1H54zM48 30h1v1H48zM22 33h1v1H22zM47 34h1v1H47zM46 35h1v1H46zM12 36h1v1H12zM45 36h1v1H45zM17 37h1v1H17zM23 40h1v1H23zM29 41h1v1H29zM36 45h1v1H36zM35 46h1v1H35zM34 47h1v1H34zM30 48h1v1H30zM29 54h1v1H29z"/><path fill="#f67a49" d="M31 2h1v1H31zM12 5h1v1H12zM9 7h1v1H9zM32 7h1v1H32zM7 9h1v1H7zM5 12h1v1H5zM17 15h1v1H17zM15 17h1v1H15zM50 26h1v1H50zM55 27h1v1H55zM2 31h1v1H2zM7 32h1v1H7zM26 50h1v1H26zM27 55h1v1H27z"/><path fill="#f7814c" d="M32 2h1v1H32zM19 8h1v1H19zM19 9h1v1H19zM12 10h1v1H12zM14 11h1v1H14zM10 12h1v1H10zM11 14h1v1H11zM8 19h2v1H8zM38 19h1v1H38zM31 30h1v1H31zM30 31h1v1H30zM2 32h1v1H2zM35 32h1v1H35zM32 35h1v1H32zM19 38h1v1H19zM52 40h1v1H52zM55 42h1v1H55zM54 51h1v1H54zM40 52h1v1H40zM51 54h1v1H51zM42 55h1v1H42z"/><path fill="#ef6545" d="M33 2h1v1H33zM45 24h1v1H45zM52 24h1v1H52zM33 32h1v1H33zM2 33h1v1H2zM32 33h1v1H32zM24 45h1v1H24zM24 52h1v1H24z"/><path fill="#f7824d" d="M35 2h1v1H35zM35 29h1v1H35zM2 35h1v1H2zM29 35h1v1H29zM53 48h1v1H53zM48 53h1v1H48z"/><path fill="#fffdbb" d="M37 2h1v1H37zM52 5h1v1H52zM47 10h1v1H47zM45 19h1v1H45zM2 37h1v1H2zM19 45h1v1H19zM10 47h1v1H10zM5 52h1v1H5z"/><path fill="#fff0a6" d="M42 2h1v1H42zM47 2h1v1H47zM36 15h1v1H36zM31 20h1v1H31zM20 31h1v1H20zM44 31h1v1H44zM15 36h1v1H15zM2 42h1v1H2zM31 44h1v1H31zM2 47h1v1H2z"/><path fill="#f6fcb2" d="M43 2h1v1H43zM48 17h1v1H48zM2 43h1v1H2zM17 48h1v1H17z"/><path fill="#edf8a3" d="M44 2h1v1H44zM56 9h1v1H56zM50 17h1v1H50zM2 44h1v1H2zM17 50h1v1H17zM9 56h1v1H9z"/><path fill="#fedc88" d="M45 2h1v1H45zM57 20h1v1H57zM51 21h1v1H51zM56 31h1v1H56zM54 34h1v1H54zM51 36h1v1H51zM2 45h1v1H2zM21 51h1v1H21zM36 51h1v1H36zM34 54h1v1H34zM31 56h1v1H31zM20 57h1v1H20z"/><path fill="#fee898" d="M46 2h1v1H46zM14 7h1v1H14zM7 14h1v1H7zM33 14h1v1H33zM36 14h1v1H36zM43 20h1v1H43zM14 33h1v1H14zM37 34h1v1H37zM14 36h1v1H14zM34 37h1v1H34zM20 43h1v1H20zM2 46h1v1H2z"/><path fill="#feea9c" d="M48 2h1v1H48zM26 4h1v1H26zM14 8h1v1H14zM48 12h1v1H48zM51 13h1v1H51zM8 14h1v1H8zM20 15h1v1H20zM22 15h1v1H22zM25 19h1v1H25zM15 20h1v1H15zM15 22h1v1H15zM19 25h1v1H19zM4 26h1v1H4zM43 26h1v1H43zM38 30h1v1H38zM40 34h1v1H40zM30 38h1v1H30zM34 40h1v1H34zM26 43h1v1H26zM2 48h1v1H2zM12 48h1v1H12zM13 51h1v1H13z"/><path fill="#f0f9a7" d="M49 2h1v1H49zM50 7h1v1H50zM54 10h1v1H54zM43 11h1v1H43zM43 12h1v1H43zM47 17h1v1H47zM53 18h1v1H53zM11 43h2v1H11zM17 47h1v1H17zM2 49h1v1H2zM7 50h1v1H7zM18 53h1v1H18zM10 54h1v1H10z"/><path fill="#f3faac" d="M51 2h1v1H51zM52 4h1v1H52zM44 14h1v1H44zM23 16h1v1H23zM43 16h1v1H43zM39 20h1v1H39zM16 23h1v1H16zM38 36h1v1H38zM36 38h1v1H36zM20 39h1v1H20zM16 43h1v1H16zM14 44h1v1H14zM2 51h1v1H2zM4 52h1v1H4z"/><path fill="#f2faaa" d="M54 2h1v1H54zM53 5h1v1H53zM37 12h1v1H37zM41 17h1v1H41zM12 37h1v1H12zM17 41h1v1H17zM5 53h1v1H5zM2 54h1v1H2z"/><path fill="#e2f399" d="M55 2h1v1H55zM2 55h1v1H2z"/><path fill="#f9fdb5" d="M56 2h1v1H56zM49 7h1v1H49zM35 16h1v1H35zM16 35h1v1H16zM7 49h1v1H7zM2 56h1v1H2z"/><path fill="#cf384e" d="M4 3h1v1H4zM3 4h1v1H3z"/><path fill="#f7854e" d="M6 3h1v1H6zM3 6h1v1H3zM11 6h1v1H11zM30 8h1v1H30zM6 11h1v1H6zM37 15h1v1H37zM28 23h1v1H28zM23 28h1v1H23zM8 30h1v1H8zM34 30h1v1H34zM30 34h1v1H30zM15 37h1v1H15zM46 42h1v1H46zM49 42h1v1H49zM50 43h1v1H50zM42 46h1v1H42zM42 49h1v1H42zM43 50h1v1H43z"/><path fill="#fca55d" d="M8 3h1v1H8zM33 6h1v1H33zM19 7h1v1H19zM3 8h1v1H3zM13 10h1v1H13zM10 13h1v1H10zM7 19h1v1H7zM53 24h1v1H53zM36 25h1v1H36zM46 26h1v1H46zM6 33h1v1H6zM25 36h1v1H25zM45 39h1v1H45zM46 40h1v1H46zM39 45h1v1H39zM26 46h1v1H26zM40 46h1v1H40zM24 53h1v1H24z"/><path fill="#f46c43" d="M9 3h1v1H9zM3 9h1v1H3z"/><path fill="#f8884f" d="M10 3h1v1H10zM35 3h1v1H35zM18 4h1v1H18zM34 9h1v1H34zM3 10h1v1H3zM32 12h1v1H32zM4 18h1v1H4zM30 24h1v1H30zM46 28h1v1H46zM24 30h1v1H24zM12 32h1v1H12zM9 34h1v1H9zM3 35h1v1H3zM56 42h1v1H56zM28 46h1v1H28zM42 56h1v1H42z"/><path fill="#f67b4a" d="M11 3h1v1H11zM29 3h1v1H29zM10 5h1v1H10zM5 10h1v1H5zM3 11h1v1H3zM3 29h1v1H3zM53 41h1v1H53zM55 47h1v1H55zM41 53h1v1H41zM47 55h1v1H47z"/><path fill="#e75a48" d="M12 3h1v1H12zM32 5h1v1H32zM3 12h1v1H3zM5 32h1v1H5z"/><path fill="#f99355" d="M13 3h1v1H13zM31 9h1v1H31zM3 13h1v1H3zM19 13h1v1H19zM16 14h1v1H16zM14 16h1v1H14zM13 19h1v1H13zM36 21h1v1H36zM50 29h1v1H50zM9 31h1v1H9zM46 32h1v1H46zM21 36h1v1H21zM32 46h1v1H32zM57 47h1v1H57zM29 50h1v1H29zM47 57h1v1H47z"/><path fill="#feea9b" d="M17 3h1v1H17zM40 7h1v1H40zM47 8h1v1H47zM3 17h1v1H3zM20 18h1v1H20zM18 20h1v1H18zM41 22h1v1H41zM42 26h1v1H42zM57 34h1v1H57zM53 35h1v1H53zM41 36h1v1H41zM7 40h1v1H7zM22 41h1v1H22zM36 41h1v1H36zM26 42h1v1H26zM8 47h1v1H8zM35 53h1v1H35zM34 57h1v1H34z"/><path fill="#f06745" d="M18 3h1v1H18zM17 14h1v1H17zM14 17h1v1H14zM3 18h1v1H3zM49 28h1v1H49zM55 46h1v1H55zM28 49h1v1H28zM46 55h1v1H46z"/><path fill="#ee6445" d="M19 3h1v1H19zM3 19h1v1H3zM39 19h1v1H39zM50 25h1v1H50zM29 27h1v1H29zM46 27h1v1H46zM27 29h1v1H27zM19 39h1v1H19zM55 45h1v1H55zM27 46h1v1H27zM25 50h1v1H25zM45 55h1v1H45z"/><path fill="#fdbb6c" d="M20 3h1v1H20zM28 9h1v1H28zM25 12h1v1H25zM3 20h1v1H3zM29 20h1v1H29zM52 21h1v1H52zM27 22h1v1H27zM42 24h1v1H42zM12 25h1v1H12zM22 27h1v1H22zM9 28h1v1H9zM52 28h1v1H52zM20 29h1v1H20zM36 29h1v1H36zM29 36h1v1H29zM24 42h1v1H24zM21 52h1v1H21zM28 52h1v1H28z"/><path fill="#fdc070" d="M22 3h1v1H22zM21 4h1v1H21zM23 4h1v1H23zM26 5h1v1H26zM28 5h1v1H28zM17 8h1v1H17zM17 9h1v1H17zM37 14h1v1H37zM8 17h2v1H8zM25 20h1v1H25zM4 21h1v1H4zM3 22h1v1H3zM4 23h1v1H4zM20 25h1v1H20zM5 26h1v1H5zM34 26h1v1H34zM5 28h1v1H5zM47 32h1v1H47zM26 34h1v1H26zM49 35h1v1H49zM14 37h1v1H14zM45 38h1v1H45zM54 38h1v1H54zM38 45h1v1H38zM32 47h1v1H32zM35 49h1v1H35zM38 54h1v1H38z"/><path fill="#fdb466" d="M23 3h1v1H23zM20 6h1v1H20zM31 6h1v1H31zM34 6h1v1H34zM36 10h1v1H36zM6 20h1v1H6zM55 22h1v1H55zM3 23h1v1H3zM56 24h1v1H56zM55 25h1v1H55zM35 26h2v1H35zM52 26h1v1H52zM54 26h1v1H54zM57 30h1v1H57zM6 31h1v1H6zM46 31h1v1H46zM50 31h1v1H50zM6 34h1v1H6zM26 35h1v1H26zM10 36h1v1H10zM26 36h1v1H26zM55 37h1v1H55zM42 38h1v1H42zM42 39h1v1H42zM38 42h2v1H38zM31 46h1v1H31zM31 50h1v1H31zM26 52h1v1H26zM26 54h1v1H26zM22 55h1v1H22zM25 55h1v1H25zM37 55h1v1H37zM24 56h1v1H24zM30 57h1v1H30z"/><path fill="#fb9e59" d="M25 3h1v1H25zM24 8h1v1H24zM39 15h1v1H39zM8 24h1v1H8zM3 25h1v1H3zM34 31h1v1H34zM31 34h1v1H31zM50 37h1v1H50zM15 39h1v1H15zM37 50h1v1H37z"/><path fill="#fec776" d="M26 3h1v1H26zM3 26h1v1H3zM57 26h1v1H57zM40 35h1v1H40zM46 36h1v1H46zM56 39h1v1H56zM35 40h1v1H35zM36 46h1v1H36zM39 56h1v1H39zM26 57h1v1H26z"/><path fill="#fdbd6d" d="M27 3h1v1H27zM32 9h1v1H32zM25 10h1v1H25zM38 14h1v1H38zM10 25h1v1H10zM3 27h1v1H3zM9 32h1v1H9zM14 38h1v1H14z"/><path fill="#fca45d" d="M28 3h1v1H28zM30 7h1v1H30zM38 13h1v1H38zM3 28h1v1H3zM7 30h1v1H7zM13 38h1v1H13z"/><path fill="#de4c4b" d="M30 3h1v1H30zM3 30h1v1H3zM57 50h1v1H57zM50 57h1v1H50z"/><path fill="#e2524a" d="M32 3h1v1H32zM3 32h1v1H3zM50 47h1v1H50zM47 50h1v1H47zM56 51h1v1H56zM51 56h1v1H51z"/><path fill="#eb5f47" d="M33 3h1v1H33zM3 33h1v1H3z"/><path fill="#f88d52" d="M36 3h1v1H36zM19 17h1v1H19zM17 19h1v1H17zM51 27h1v1H51zM3 36h1v1H3zM27 51h1v1H27z"/><path fill="#fff2a9" d="M38 3h2v1H38zM49 5h1v1H49zM50 10h1v1H50zM49 12h1v1H49zM57 18h1v1H57zM38 29h1v1H38zM39 32h1v1H39zM43 35h1v1H43zM3 38h1v1H3zM29 38h1v1H29zM3 39h1v1H3zM32 39h1v1H32zM35 43h1v1H35zM5 49h1v1H5zM12 49h1v1H12zM10 50h1v1H10zM18 57h1v1H18z"/><path fill="#feec9f" d="M40 3h1v1H40zM50 6h1v1H50zM33 16h1v1H33zM23 18h1v1H23zM29 19h1v1H29zM18 23h1v1H18zM19 29h1v1H19zM16 33h1v1H16zM3 40h1v1H3zM6 50h1v1H6z"/><path fill="#fffcb9" d="M41 3h1v1H41zM20 17h1v1H20zM17 20h1v1H17zM39 26h1v1H39zM26 39h1v1H26zM3 41h1v1H3z"/><path fill="#fff1a8" d="M42 3h1v1H42zM47 4h1v1H47zM42 15h1v1H42zM3 42h1v1H3zM15 42h1v1H15zM4 47h1v1H4z"/><path fill="#feeb9d" d="M44 3h1v1H44zM45 7h1v1H45zM33 13h1v1H33zM44 22h1v1H44zM38 26h1v1H38zM13 33h1v1H13zM46 37h1v1H46zM26 38h1v1H26zM46 39h1v1H46zM3 44h1v1H3zM22 44h1v1H22zM7 45h1v1H7zM37 46h1v1H37zM39 46h1v1H39z"/><path fill="#fdc473" d="M45 3h1v1H45zM15 5h1v1H15zM20 9h1v1H20zM5 15h1v1H5zM9 20h1v1H9zM24 20h1v1H24zM30 21h1v1H30zM33 21h1v1H33zM20 24h1v1H20zM21 30h1v1H21zM21 33h1v1H21zM45 35h1v1H45zM55 38h1v1H55zM48 42h1v1H48zM3 45h1v1H3zM35 45h1v1H35zM42 48h1v1H42zM38 55h1v1H38z"/><path fill="#feca79" d="M46 3h1v1H46zM15 8h1v1H15zM8 15h1v1H8zM48 21h1v1H48zM57 37h1v1H57zM3 46h1v1H3zM21 48h1v1H21zM37 57h1v1H37z"/><path fill="#fee28f" d="M47 3h1v1H47zM45 10h1v1H45zM44 33h1v1H44zM42 34h1v1H42zM53 36h1v1H53zM34 42h1v1H34zM33 44h1v1H33zM10 45h1v1H10zM3 47h1v1H3zM36 53h1v1H36z"/><path fill="#fecf7c" d="M48 3h1v1H48zM56 29h1v1H56zM41 39h1v1H41zM39 41h1v1H39zM3 48h1v1H3zM29 56h1v1H29z"/><path fill="#fffbb8" d="M49 3h1v1H49zM26 19h1v1H26zM56 19h1v1H56zM19 26h1v1H19zM52 33h1v1H52zM39 35h1v1H39zM35 39h1v1H35zM3 49h1v1H3zM33 52h1v1H33zM19 56h1v1H19z"/><path fill="#fff7b2" d="M50 3h1v1H50zM38 31h1v1H38zM31 38h1v1H31zM3 50h1v1H3z"/><path fill="#fee797" d="M51 3h1v1H51zM16 8h1v1H16zM31 14h1v1H31zM8 16h1v1H8zM14 31h1v1H14zM37 33h1v1H37zM57 35h1v1H57zM33 37h1v1H33zM3 51h1v1H3zM35 57h1v1H35z"/><path fill="#fff2aa" d="M54 3h1v1H54zM55 19h1v1H55zM3 54h1v1H3zM19 55h1v1H19z"/><path fill="#fffebd" d="M55 3h1v1H55zM54 15h1v1H54zM23 19h1v1H23zM19 23h1v1H19zM15 54h1v1H15zM3 55h1v1H3z"/><path fill="#feefa5" d="M56 3h1v1H56zM56 4h1v1H56zM3 56h2v1H3z"/><path fill="#fdbe6f" d="M8 4h1v1H8zM4 8h1v1H4zM39 17h1v1H39zM17 39h1v1H17z"/><path fill="#f88950" d="M9 4h1v1H9zM24 5h1v1H24zM17 6h1v1H17zM4 9h1v1H4zM6 17h1v1H6zM55 23h1v1H55zM5 24h1v1H5zM54 40h1v1H54zM40 54h1v1H40zM23 55h1v1H23z"/><path fill="#fdb264" d="M10 4h1v1H10zM28 4h1v1H28zM21 6h1v1H21zM27 6h1v1H27zM24 7h2v1H24zM24 9h2v1H24zM4 10h1v1H4zM6 21h1v1H6zM7 24h1v1H7zM9 24h1v1H9zM7 25h1v1H7zM9 25h1v1H9zM6 27h1v1H6zM4 28h1v1H4zM50 34h1v1H50zM51 41h1v1H51zM34 50h1v1H34zM41 51h1v1H41z"/><path fill="#f67f4b" d="M12 4h1v1H12zM31 11h1v1H31zM4 12h1v1H4zM30 12h1v1H30zM18 14h1v1H18zM14 18h1v1H14zM12 30h1v1H12zM32 30h1v1H32zM11 31h1v1H11zM30 32h1v1H30zM54 45h1v1H54zM45 54h1v1H45z"/><path fill="#f7834d" d="M13 4h1v1H13zM11 8h1v1H11zM8 11h1v1H8zM4 13h1v1H4zM32 24h1v1H32zM45 28h1v1H45zM24 32h1v1H24zM47 41h1v1H47zM45 42h1v1H45zM28 45h1v1H28zM42 45h1v1H42zM41 47h1v1H41z"/><path fill="#fec977" d="M14 4h1v1H14zM4 14h1v1H4zM39 14h1v1H39zM30 18h1v1H30zM43 23h1v1H43zM31 25h1v1H31zM40 25h1v1H40zM18 30h1v1H18zM25 31h1v1H25zM14 39h1v1H14zM25 40h1v1H25zM23 43h1v1H23z"/><path fill="#fff3aa" d="M15 4h1v1H15zM4 15h1v1H4z"/><path fill="#feeea2" d="M17 4h1v1H17zM32 16h1v1H32zM4 17h1v1H4zM16 32h1v1H16z"/><path fill="#fa9756" d="M19 4h1v1H19zM4 19h1v1H4zM52 25h1v1H52zM56 27h1v1H56zM40 33h1v1H40zM51 35h1v1H51zM40 39h1v1H40zM33 40h1v1H33zM39 40h1v1H39zM35 51h1v1H35zM25 52h1v1H25zM27 56h1v1H27z"/><path fill="#fff4ac" d="M20 4h1v1H20zM52 6h1v1H52zM35 17h1v1H35zM27 19h1v1H27zM4 20h1v1H4zM19 27h1v1H19zM17 35h1v1H17zM6 52h1v1H6z"/><path fill="#fed481" d="M22 4h1v1H22zM30 20h1v1H30zM4 22h1v1H4zM20 30h1v1H20zM44 39h1v1H44zM39 44h1v1H39z"/><path fill="#fdaf62" d="M25 4h1v1H25zM27 7h1v1H27zM21 10h1v1H21zM30 11h1v1H30zM35 11h1v1H35zM10 21h1v1H10zM31 23h1v1H31zM52 23h1v1H52zM4 25h1v1H4zM7 27h1v1H7zM31 29h1v1H31zM11 30h1v1H11zM47 30h1v1H47zM23 31h1v1H23zM29 31h1v1H29zM11 35h1v1H11zM30 47h1v1H30zM23 52h1v1H23z"/><path fill="#fdc574" d="M27 4h1v1H27zM39 18h1v1H39zM35 20h1v1H35zM53 20h1v1H53zM57 22h1v1H57zM4 27h1v1H4zM41 28h1v1H41zM44 29h1v1H44zM45 31h1v1H45zM20 35h1v1H20zM18 39h1v1H18zM28 41h1v1H28zM29 44h1v1H29zM31 45h1v1H31zM20 53h1v1H20zM22 57h1v1H22z"/><path fill="#fdc272" d="M29 4h1v1H29zM33 8h1v1H33zM47 21h1v1H47zM40 22h1v1H40zM44 28h1v1H44zM4 29h1v1H4zM8 33h1v1H8zM48 36h1v1H48zM22 40h1v1H22zM28 44h1v1H28zM21 47h1v1H21zM36 48h1v1H36z"/><path fill="#e75948" d="M30 4h1v1H30zM30 5h1v1H30zM17 13h1v1H17zM13 17h1v1H13zM4 30h2v1H4zM43 41h1v1H43zM41 43h1v1H41z"/><path fill="#f7864f" d="M34 4h1v1H34zM11 7h1v1H11zM7 11h1v1H7zM4 34h1v1H4z"/><path fill="#f99254" d="M36 4h1v1H36zM13 6h1v1H13zM34 8h1v1H34zM13 9h1v1H13zM6 13h1v1H6zM9 13h1v1H9zM19 16h1v1H19zM16 19h1v1H16zM33 25h1v1H33zM47 26h1v1H47zM25 33h1v1H25zM8 34h1v1H8zM4 36h1v1H4zM26 47h1v1H26zM50 49h1v1H50zM49 50h1v1H49z"/><path fill="#fff8b4" d="M38 4h1v1H38zM17 5h1v1H17zM5 17h1v1H5zM4 38h1v1H4z"/><path fill="#ecf8a2" d="M42 4h1v1H42zM55 13h1v1H55zM4 42h1v1H4zM13 55h1v1H13z"/><path fill="#eff8a6" d="M43 4h1v1H43zM47 12h1v1H47zM4 43h1v1H4zM12 47h1v1H12z"/><path fill="#f4fbae" d="M44 4h1v1H44zM56 14h1v1H56zM43 15h1v1H43zM44 16h1v1H44zM46 19h1v1H46zM15 43h1v1H15zM4 44h1v1H4zM16 44h1v1H16zM19 46h1v1H19zM14 56h1v1H14z"/><path fill="#fff5af" d="M45 4h1v1H45zM42 6h1v1H42zM34 16h1v1H34zM37 25h1v1H37zM39 27h1v1H39zM16 34h1v1H16zM25 37h1v1H25zM27 39h1v1H27zM6 42h1v1H6zM4 45h1v1H4z"/><path fill="#fff0a7" d="M50 4h1v1H50zM44 34h1v1H44zM34 44h1v1H34zM4 50h1v1H4z"/><path fill="#ebf7a0" d="M53 4h1v1H53zM39 11h1v1H39zM44 15h1v1H44zM11 39h1v1H11zM15 44h1v1H15zM4 53h1v1H4z"/><path fill="#dcf19a" d="M54 4h1v1H54zM4 54h1v1H4z"/><path fill="#f6fbb1" d="M55 4h1v1H55zM38 5h1v1H38zM57 7h1v1H57zM42 11h1v1H42zM57 12h1v1H57zM56 13h1v1H56zM5 38h1v1H5zM11 42h1v1H11zM4 55h1v1H4zM13 56h1v1H13zM7 57h1v1H7zM12 57h1v1H12z"/><path fill="#eff9a7" d="M57 4h1v1H57zM39 9h1v1H39zM54 16h1v1H54zM25 17h1v1H25zM17 25h1v1H17zM9 39h1v1H9zM16 54h1v1H16zM4 57h1v1H4z"/><path fill="#f57346" d="M8 5h1v1H8zM5 8h1v1H5zM45 29h1v1H45zM29 45h1v1H29zM51 46h1v1H51zM54 48h1v1H54zM46 51h1v1H46zM48 54h1v1H48z"/><path fill="#f57848" d="M9 5h1v1H9zM5 9h1v1H5z"/><path fill="#ea5e47" d="M11 5h1v1H11zM5 11h1v1H5zM57 53h1v1H57zM53 57h1v1H53z"/><path fill="#f98e52" d="M18 5h1v1H18zM5 18h1v1H5zM57 28h1v1H57zM33 31h1v1H33zM31 33h1v1H31zM51 43h1v1H51zM43 51h1v1H43zM28 57h1v1H28z"/><path fill="#fdb163" d="M23 5h1v1H23zM37 18h1v1H37zM34 21h1v1H34zM5 23h1v1H5zM21 34h1v1H21zM18 37h1v1H18z"/><path fill="#f7864e" d="M34 5h1v1H34zM19 6h1v1H19zM10 9h1v1H10zM9 10h1v1H9zM6 19h1v1H6zM5 34h1v1H5z"/><path fill="#f88c51" d="M35 5h1v1H35zM45 27h1v1H45zM5 35h1v1H5zM51 39h1v1H51zM27 45h1v1H27zM39 51h1v1H39z"/><path fill="#f88c52" d="M36 5h1v1H36zM5 36h1v1H5z"/><path fill="#fffcba" d="M37 5h1v1H37zM49 6h1v1H49zM43 17h1v1H43zM5 37h1v1H5zM17 43h1v1H17zM6 49h1v1H6z"/><path fill="#e6f598" d="M39 5h1v1H39zM5 39h1v1H5z"/><path fill="#fafdb8" d="M40 5h1v1H40zM57 6h1v1H57zM44 7h1v1H44zM49 10h1v1H49zM47 13h1v1H47zM52 15h1v1H52zM45 17h1v1H45zM47 18h1v1H47zM5 40h1v1H5zM7 44h1v1H7zM17 45h1v1H17zM13 47h1v1H13zM18 47h1v1H18zM10 49h1v1H10zM15 52h1v1H15zM6 57h1v1H6z"/><path fill="#fbfdb9" d="M44 5h1v1H44zM55 5h1v1H55zM23 17h1v1H23zM44 17h1v1H44zM49 19h1v1H49zM17 23h1v1H17zM5 44h1v1H5zM17 44h1v1H17zM19 49h1v1H19zM5 55h1v1H5z"/><path fill="#fed27f" d="M47 5h1v1H47zM28 8h1v1H28zM48 9h1v1H48zM20 12h2v1H20zM12 20h1v1H12zM12 21h1v1H12zM56 23h1v1H56zM8 28h1v1H8zM53 31h1v1H53zM5 47h1v1H5zM9 48h1v1H9zM31 53h1v1H31zM23 56h1v1H23z"/><path fill="#fff3ab" d="M48 5h1v1H48zM51 5h1v1H51zM40 8h1v1H40zM36 17h1v1H36zM28 18h1v1H28zM39 22h1v1H39zM18 28h1v1H18zM17 36h1v1H17zM22 39h1v1H22zM8 40h1v1H8zM5 48h1v1H5zM5 51h1v1H5z"/><path fill="#f8fcb4" d="M50 5h1v1H50zM39 6h1v1H39zM55 6h1v1H55zM52 11h1v1H52zM57 11h1v1H57zM52 12h1v1H52zM49 14h1v1H49zM48 15h1v1H48zM40 16h1v1H40zM45 18h1v1H45zM39 21h1v1H39zM37 27h1v1H37zM39 28h1v1H39zM53 34h1v1H53zM27 37h1v1H27zM6 39h1v1H6zM21 39h1v1H21zM28 39h1v1H28zM16 40h1v1H16zM18 45h1v1H18zM15 48h1v1H15zM14 49h1v1H14zM5 50h1v1H5zM11 52h2v1H11zM34 53h1v1H34zM6 55h1v1H6zM11 57h1v1H11z"/><path fill="#f7fcb3" d="M54 5h1v1H54zM38 6h1v1H38zM55 11h1v1H55zM56 12h1v1H56zM54 14h1v1H54zM57 15h1v1H57zM29 16h1v1H29zM16 29h1v1H16zM6 38h1v1H6zM5 54h1v1H5zM14 54h1v1H14zM11 55h1v1H11zM12 56h1v1H12zM15 57h1v1H15z"/><path fill="#e8f69b" d="M56 5h1v1H56zM51 16h1v1H51zM16 51h1v1H16zM5 56h1v1H5z"/><path fill="#df4d4b" d="M8 6h1v1H8zM6 8h1v1H6zM14 13h1v1H14zM13 14h1v1H13z"/><path fill="#f06844" d="M10 6h1v1H10zM6 10h1v1H6z"/><path fill="#feda86" d="M15 6h1v1H15zM40 9h2v1H40zM6 15h1v1H6zM35 18h1v1H35zM24 21h1v1H24zM21 24h1v1H21zM41 31h1v1H41zM18 35h1v1H18zM9 40h1v1H9zM9 41h1v1H9zM31 41h1v1H31z"/><path fill="#fdb96b" d="M16 6h1v1H16zM35 12h1v1H35zM6 16h1v1H6zM12 35h1v1H12z"/><path fill="#fdbf70" d="M23 6h1v1H23zM6 23h1v1H6zM42 27h1v1H42zM40 28h1v1H40zM41 33h1v1H41zM28 40h1v1H28zM33 41h1v1H33zM27 42h1v1H27z"/><path fill="#fdc372" d="M25 6h1v1H25zM6 25h1v1H6z"/><path fill="#fdc271" d="M26 6h1v1H26zM6 26h1v1H6z"/><path fill="#fdab5f" d="M28 6h1v1H28zM45 21h1v1H45zM57 27h1v1H57zM6 28h1v1H6zM21 45h1v1H21zM27 57h1v1H27z"/><path fill="#fee18d" d="M29 6h1v1H29zM21 13h1v1H21zM23 13h1v1H23zM13 21h1v1H13zM13 23h1v1H13zM6 29h1v1H6zM54 31h1v1H54zM31 54h1v1H31z"/><path fill="#fee899" d="M37 6h1v1H37zM43 10h1v1H43zM35 13h1v1H35zM30 17h1v1H30zM40 20h1v1H40zM17 30h1v1H17zM13 35h1v1H13zM6 37h1v1H6zM53 39h1v1H53zM20 40h1v1H20zM10 43h1v1H10zM39 53h1v1H39z"/><path fill="#fee492" d="M40 6h1v1H40zM45 8h1v1H45zM30 13h1v1H30zM24 18h1v1H24zM34 18h1v1H34zM18 24h1v1H18zM13 30h1v1H13zM40 31h1v1H40zM18 34h1v1H18zM6 40h1v1H6zM31 40h1v1H31zM8 45h1v1H8z"/><path fill="#fff2a8" d="M41 6h1v1H41zM6 41h1v1H6z"/><path fill="#fed784" d="M45 6h1v1H45zM22 12h1v1H22zM34 15h1v1H34zM12 22h1v1H12zM15 34h1v1H15zM6 45h1v1H6z"/><path fill="#fffcbb" d="M51 6h1v1H51zM39 10h1v1H39zM27 15h1v1H27zM15 27h1v1H15zM10 39h1v1H10zM6 51h1v1H6z"/><path fill="#e7f599" d="M54 6h1v1H54zM26 17h1v1H26zM48 18h1v1H48zM17 26h1v1H17zM18 48h1v1H18zM6 54h1v1H6z"/><path fill="#feffbd" d="M56 6h1v1H56zM55 7h1v1H55zM41 12h1v1H41zM55 18h1v1H55zM12 41h1v1H12zM7 55h1v1H7zM18 55h1v1H18zM6 56h1v1H6z"/><path fill="#da464d" d="M8 7h1v1H8zM7 8h1v1H7zM57 55h1v1H57zM55 57h1v1H55z"/><path fill="#f57145" d="M13 7h1v1H13zM7 13h1v1H7zM32 25h1v1H32zM25 32h1v1H25z"/><path fill="#fee694" d="M16 7h1v1H16zM25 13h1v1H25zM7 16h1v1H7zM31 18h1v1H31zM13 25h1v1H13zM18 31h1v1H18z"/><path fill="#fed885" d="M21 7h1v1H21zM34 13h1v1H34zM7 21h1v1H7zM13 34h1v1H13zM50 36h1v1H50zM36 50h1v1H36z"/><path fill="#fdb769" d="M28 7h1v1H28zM15 9h1v1H15zM9 15h1v1H9zM37 16h1v1H37zM51 20h1v1H51zM43 22h1v1H43zM48 26h1v1H48zM7 28h1v1H7zM16 37h1v1H16zM22 43h1v1H22zM26 48h1v1H26zM20 51h1v1H20z"/><path fill="#fca75e" d="M29 7h1v1H29zM56 22h1v1H56zM54 23h1v1H54zM47 25h1v1H47zM7 29h1v1H7zM42 33h1v1H42zM49 38h1v1H49zM33 42h1v1H33zM49 43h1v1H49zM25 47h1v1H25zM38 49h1v1H38zM43 49h1v1H43zM23 54h1v1H23zM22 56h1v1H22z"/><path fill="#f88a51" d="M36 7h1v1H36zM7 36h1v1H7z"/><path fill="#feffbe" d="M38 7h1v1H38zM48 10h1v1H48zM24 16h1v1H24zM40 19h1v1H40zM38 20h1v1H38zM16 24h1v1H16zM7 38h1v1H7zM20 38h1v1H20zM19 40h1v1H19zM10 48h1v1H10z"/><path fill="#f5fbb0" d="M41 7h1v1H41zM53 8h1v1H53zM49 13h1v1H49zM23 15h1v1H23zM48 16h1v1H48zM52 16h1v1H52zM15 23h1v1H15zM7 41h1v1H7zM16 48h1v1H16zM13 49h1v1H13zM16 52h1v1H16zM8 53h1v1H8z"/><path fill="#fff8b2" d="M42 7h1v1H42zM39 8h1v1H39zM8 39h1v1H8zM7 42h1v1H7z"/><path fill="#fffebe" d="M43 7h1v1H43zM38 11h1v1H38zM46 18h1v1H46zM11 38h1v1H11zM7 43h1v1H7zM18 46h1v1H18z"/><path fill="#fede89" d="M46 7h1v1H46zM22 14h1v1H22zM35 19h1v1H35zM43 21h1v1H43zM14 22h1v1H14zM19 35h1v1H19zM21 43h1v1H21zM7 46h1v1H7z"/><path fill="#eef8a5" d="M51 7h1v1H51zM54 7h1v1H54zM7 51h1v1H7zM7 54h1v1H7z"/><path fill="#f4faad" d="M52 7h1v1H52zM38 12h1v1H38zM47 16h1v1H47zM52 19h1v1H52zM12 38h1v1H12zM16 47h1v1H16zM7 52h1v1H7zM19 52h1v1H19z"/><path fill="#d8434e" d="M9 8h1v1H9zM8 9h1v1H8z"/><path fill="#ec6146" d="M10 8h1v1H10zM8 10h1v1H8z"/><path fill="#f67c4a" d="M12 8h1v1H12zM18 11h1v1H18zM8 12h1v1H8zM17 16h1v1H17zM16 17h1v1H16zM11 18h1v1H11zM45 25h1v1H45zM36 35h1v1H36zM35 36h1v1H35zM45 40h1v1H45zM55 40h1v1H55zM55 41h1v1H55zM25 45h1v1H25zM40 45h1v1H40zM54 47h1v1H54zM57 51h1v1H57zM47 54h1v1H47zM40 55h2v1H40zM51 57h1v1H51z"/><path fill="#f99154" d="M13 8h1v1H13zM16 11h1v1H16zM8 13h1v1H8zM11 16h1v1H11z"/><path fill="#f46d43" d="M18 8h1v1H18zM8 18h1v1H8z"/><path fill="#fdc474" d="M22 8h1v1H22zM37 13h1v1H37zM52 20h1v1H52zM41 21h1v1H41zM8 22h1v1H8zM44 24h1v1H44zM36 27h1v1H36zM27 36h1v1H27zM13 37h1v1H13zM21 41h1v1H21zM24 44h1v1H24zM20 52h1v1H20z"/><path fill="#fdaf61" d="M27 8h1v1H27zM8 27h1v1H8z"/><path fill="#fed280" d="M29 8h1v1H29zM8 29h1v1H8zM42 32h1v1H42zM32 42h1v1H32z"/><path fill="#fed783" d="M35 8h1v1H35zM35 9h1v1H35zM28 13h1v1H28zM32 15h1v1H32zM13 28h1v1H13zM15 32h1v1H15zM8 35h2v1H8zM43 39h1v1H43zM39 43h1v1H39z"/><path fill="#eff9a6" d="M44 8h1v1H44zM54 12h1v1H54zM49 15h1v1H49zM46 16h1v1H46zM43 19h1v1H43zM19 43h1v1H19zM8 44h1v1H8zM16 46h1v1H16zM15 49h1v1H15zM12 54h1v1H12z"/><path fill="#feeda0" d="M46 8h1v1H46zM21 16h1v1H21zM56 18h1v1H56zM20 19h1v1H20zM19 20h1v1H19zM42 20h1v1H42zM16 21h1v1H16zM20 42h1v1H20zM8 46h1v1H8zM18 56h1v1H18z"/><path fill="#fffab6" d="M51 8h1v1H51zM49 11h1v1H49zM39 23h1v1H39zM39 31h1v1H39zM54 36h1v1H54zM23 39h1v1H23zM31 39h1v1H31zM11 49h1v1H11zM8 51h1v1H8zM36 54h1v1H36z"/><path fill="#f8fcb3" d="M57 8h1v1H57zM50 18h1v1H50zM18 50h1v1H18zM8 57h1v1H8z"/><path fill="#fca35c" d="M14 9h1v1H14zM13 12h1v1H13zM12 13h1v1H12zM9 14h1v1H9zM38 16h1v1H38zM23 21h1v1H23zM21 23h1v1H21zM50 33h1v1H50zM16 38h1v1H16zM51 40h1v1H51zM33 50h1v1H33zM40 51h1v1H40z"/><path fill="#fee38f" d="M21 9h1v1H21zM9 21h1v1H9zM49 39h1v1H49zM39 49h1v1H39z"/><path fill="#fec877" d="M26 9h1v1H26zM17 10h1v1H17zM10 17h1v1H10zM55 21h1v1H55zM32 22h1v1H32zM9 26h1v1H9zM22 32h1v1H22zM54 44h1v1H54zM44 54h1v1H44zM21 55h1v1H21z"/><path fill="#fdac60" d="M27 9h1v1H27zM27 11h1v1H27zM32 11h1v1H32zM33 12h1v1H33zM40 24h1v1H40zM9 27h1v1H9zM11 27h1v1H11zM47 29h1v1H47zM53 29h1v1H53zM55 29h1v1H55zM49 30h1v1H49zM11 32h1v1H11zM12 33h1v1H12zM50 38h1v1H50zM24 40h1v1H24zM54 43h1v1H54zM57 44h1v1H57zM29 47h1v1H29zM30 49h1v1H30zM38 50h1v1H38zM29 53h1v1H29zM43 54h1v1H43zM29 55h1v1H29zM44 57h1v1H44z"/><path fill="#f57748" d="M30 9h1v1H30zM18 17h1v1H18zM17 18h1v1H17zM33 27h1v1H33zM9 30h1v1H9zM27 33h1v1H27zM57 48h1v1H57zM57 54h1v1H57zM48 57h1v1H48zM54 57h1v1H54z"/><path fill="#f7804c" d="M36 9h1v1H36zM33 24h1v1H33zM51 24h1v1H51zM24 33h1v1H24zM9 36h1v1H9zM57 46h1v1H57zM24 51h1v1H24zM46 57h1v1H46z"/><path fill="#fff1a7" d="M38 9h1v1H38zM57 9h1v1H57zM41 11h1v1H41zM34 17h1v1H34zM51 19h1v1H51zM57 31h1v1H57zM38 33h1v1H38zM17 34h1v1H17zM9 38h1v1H9zM33 38h1v1H33zM11 41h1v1H11zM19 51h1v1H19zM9 57h1v1H9zM31 57h1v1H31z"/><path fill="#fee594" d="M42 9h1v1H42zM35 14h1v1H35zM21 19h1v1H21zM33 19h1v1H33zM19 21h1v1H19zM19 33h1v1H19zM47 33h1v1H47zM43 34h1v1H43zM14 35h1v1H14zM9 42h1v1H9zM34 43h1v1H34zM33 47h1v1H33z"/><path fill="#fedf8a" d="M46 9h1v1H46zM33 17h1v1H33zM17 33h1v1H17zM9 46h1v1H9z"/><path fill="#ebf79f" d="M55 9h1v1H55zM29 15h1v1H29zM49 18h1v1H49zM15 29h1v1H15zM18 49h1v1H18zM9 55h1v1H9z"/><path fill="#fed17e" d="M16 10h1v1H16zM10 16h1v1H10zM42 22h1v1H42zM42 25h1v1H42zM41 34h1v1H41zM48 38h1v1H48zM56 38h1v1H56zM34 41h1v1H34zM22 42h1v1H22zM25 42h1v1H25zM38 48h1v1H38zM38 56h1v1H38z"/><path fill="#fb9f5a" d="M19 10h1v1H19zM23 10h1v1H23zM19 15h1v1H19zM10 19h1v1H10zM15 19h1v1H15zM10 23h1v1H10zM47 23h1v1H47zM54 27h1v1H54zM51 32h1v1H51zM40 37h1v1H40zM43 37h1v1H43zM37 40h1v1H37zM37 43h1v1H37zM46 44h1v1H46zM44 46h1v1H44zM23 47h1v1H23zM32 51h1v1H32zM27 54h1v1H27z"/><path fill="#fba35c" d="M34 10h1v1H34zM53 25h1v1H53zM35 28h1v1H35zM10 34h1v1H10zM28 35h1v1H28zM25 53h1v1H25z"/><path fill="#def29a" d="M37 10h1v1H37zM47 15h1v1H47zM10 37h1v1H10zM15 47h1v1H15z"/><path fill="#f6fbb0" d="M52 10h1v1H52zM44 13h1v1H44zM13 44h1v1H13zM10 52h1v1H10z"/><path fill="#f5fbaf" d="M57 10h1v1H57zM55 16h1v1H55zM16 55h1v1H16zM10 57h1v1H10z"/><path fill="#fedd88" d="M20 11h1v1H20zM32 14h1v1H32zM11 20h1v1H11zM14 32h1v1H14zM52 37h1v1H52zM37 52h1v1H37z"/><path fill="#fec978" d="M21 11h1v1H21zM20 13h1v1H20zM33 18h1v1H33zM13 20h1v1H13zM22 20h1v1H22zM48 20h1v1H48zM11 21h1v1H11zM20 22h1v1H20zM54 22h1v1H54zM44 23h1v1H44zM35 24h1v1H35zM18 33h1v1H18zM24 35h1v1H24zM45 37h1v1H45zM23 44h1v1H23zM37 45h1v1H37zM20 48h1v1H20zM22 54h1v1H22z"/><path fill="#f57446" d="M24 11h1v1H24zM11 24h1v1H11zM29 25h1v1H29zM25 29h1v1H25zM51 42h1v1H51zM45 43h1v1H45zM43 45h1v1H43zM47 46h1v1H47zM46 47h1v1H46zM52 48h1v1H52zM42 51h1v1H42zM48 52h1v1H48z"/><path fill="#fba25b" d="M28 11h1v1H28zM11 28h1v1H11zM34 28h1v1H34zM28 34h1v1H28zM41 37h1v1H41zM50 40h1v1H50zM37 41h1v1H37zM40 50h1v1H40z"/><path fill="#f77f4b" d="M36 11h1v1H36zM11 36h1v1H11z"/><path fill="#fee08c" d="M47 11h1v1H47zM39 34h1v1H39zM34 39h1v1H34zM11 47h1v1H11z"/><path fill="#edf8a2" d="M53 11h1v1H53zM42 16h1v1H42zM49 16h1v1H49zM54 17h1v1H54zM41 19h1v1H41zM19 41h1v1H19zM16 42h1v1H16zM16 49h1v1H16zM11 53h1v1H11zM17 54h1v1H17z"/><path fill="#fdc776" d="M23 12h1v1H23zM21 14h1v1H21zM28 20h1v1H28zM36 20h1v1H36zM14 21h1v1H14zM30 22h1v1H30zM12 23h1v1H12zM35 23h1v1H35zM20 28h1v1H20zM22 30h1v1H22zM23 35h1v1H23zM20 36h1v1H20zM40 36h1v1H40zM36 40h1v1H36z"/><path fill="#fed581" d="M28 12h1v1H28zM25 22h1v1H25zM22 25h1v1H22zM12 28h1v1H12zM49 36h1v1H49zM36 49h1v1H36z"/><path fill="#fff7b1" d="M40 12h1v1H40zM37 22h1v1H37zM41 35h1v1H41zM22 37h1v1H22zM12 40h1v1H12zM35 41h1v1H35z"/><path fill="#eaf79f" d="M42 12h1v1H42zM52 17h1v1H52zM43 18h1v1H43zM12 42h1v1H12zM18 43h1v1H18zM17 52h1v1H17z"/><path fill="#fff4ad" d="M46 12h1v1H46zM38 24h1v1H38zM38 27h1v1H38zM24 38h1v1H24zM27 38h1v1H27zM12 46h1v1H12z"/><path fill="#e9f69d" d="M50 12h1v1H50zM53 13h1v1H53zM53 17h1v1H53zM12 50h1v1H12zM13 53h1v1H13zM17 53h1v1H17z"/><path fill="#ea5d47" d="M15 13h1v1H15zM13 15h1v1H13z"/><path fill="#f47145" d="M16 13h1v1H16zM13 16h1v1H13z"/><path fill="#fdb668" d="M18 13h1v1H18zM13 18h1v1H13zM34 20h1v1H34zM36 24h1v1H36zM41 25h1v1H41zM57 29h1v1H57zM44 32h1v1H44zM36 33h1v1H36zM56 33h1v1H56zM20 34h1v1H20zM24 36h1v1H24zM33 36h1v1H33zM48 40h1v1H48zM25 41h1v1H25zM52 43h1v1H52zM57 43h1v1H57zM32 44h1v1H32zM40 48h1v1H40zM43 52h1v1H43zM33 56h1v1H33zM29 57h1v1H29zM43 57h1v1H43z"/><path fill="#fed07d" d="M36 13h1v1H36zM43 25h1v1H43zM44 26h1v1H44zM47 31h1v1H47zM57 32h1v1H57zM45 34h1v1H45zM13 36h1v1H13zM25 43h1v1H25zM26 44h1v1H26zM34 45h1v1H34zM31 47h1v1H31zM32 57h1v1H32z"/><path fill="#fecd7b" d="M39 13h1v1H39zM25 21h1v1H25zM48 22h1v1H48zM53 22h1v1H53zM21 25h1v1H21zM42 28h1v1H42zM41 32h1v1H41zM49 33h1v1H49zM13 39h1v1H13zM32 41h1v1H32zM28 42h1v1H28zM47 44h1v1H47zM44 47h1v1H44zM22 48h1v1H22zM33 49h1v1H33zM22 53h1v1H22z"/><path fill="#fff3ac" d="M40 13h1v1H40zM22 16h1v1H22zM16 22h1v1H16zM13 40h1v1H13z"/><path fill="#fee390" d="M42 13h1v1H42zM52 36h1v1H52zM13 42h1v1H13zM36 52h1v1H36z"/><path fill="#fff9b6" d="M52 13h1v1H52zM13 52h1v1H13z"/><path fill="#fca65d" d="M15 14h1v1H15zM14 15h1v1H14zM51 22h2v1H51zM42 23h1v1H42zM57 23h1v1H57zM52 27h1v1H52zM42 37h1v1H42zM23 42h1v1H23zM37 42h1v1H37zM54 42h1v1H54zM53 43h1v1H53zM55 43h1v1H55zM22 51h1v1H22zM22 52h1v1H22zM27 52h1v1H27zM43 53h1v1H43zM42 54h1v1H42zM43 55h1v1H43zM23 57h1v1H23z"/><path fill="#feeca0" d="M23 14h1v1H23zM24 19h1v1H24zM14 23h1v1H14zM19 24h1v1H19zM39 24h1v1H39zM37 35h1v1H37zM43 36h1v1H43zM35 37h1v1H35zM24 39h1v1H24zM36 43h1v1H36z"/><path fill="#fed683" d="M27 14h1v1H27zM39 16h1v1H39zM36 19h1v1H36zM14 27h1v1H14zM47 35h1v1H47zM19 36h1v1H19zM16 39h1v1H16zM35 47h1v1H35z"/><path fill="#fedd89" d="M30 14h1v1H30zM32 19h1v1H32zM41 20h1v1H41zM14 30h1v1H14zM19 32h1v1H19zM44 38h1v1H44zM20 41h1v1H20zM38 44h1v1H38z"/><path fill="#fee798" d="M34 14h1v1H34zM14 34h1v1H14z"/><path fill="#f1faaa" d="M48 14h1v1H48zM41 15h1v1H41zM51 18h1v1H51zM15 41h1v1H15zM14 48h1v1H14zM18 51h1v1H18z"/><path fill="#e4f498" d="M52 14h1v1H52zM14 52h1v1H14z"/><path fill="#eaf79e" d="M53 14h1v1H53zM51 15h1v1H51zM15 51h1v1H15zM14 53h1v1H14z"/><path fill="#dff299" d="M57 14h1v1H57zM14 57h1v1H14z"/><path fill="#dd4b4c" d="M16 15h1v1H16zM15 16h1v1H15zM42 41h1v1H42zM41 42h1v1H41zM53 45h1v1H53zM49 48h1v1H49zM48 49h1v1H48zM45 53h1v1H45z"/><path fill="#fefebd" d="M25 15h1v1H25zM55 17h1v1H55zM42 19h1v1H42zM15 25h1v1H15zM19 42h1v1H19zM17 55h1v1H17z"/><path fill="#e5f598" d="M26 15h1v1H26zM46 17h1v1H46zM15 26h1v1H15zM17 46h1v1H17z"/><path fill="#e1f399" d="M56 15h1v1H56zM15 56h1v1H15z"/><path fill="#fee796" d="M36 16h1v1H36zM32 18h1v1H32zM38 28h1v1H38zM55 31h1v1H55zM18 32h1v1H18zM56 34h1v1H56zM16 36h1v1H16zM28 38h1v1H28zM31 55h1v1H31zM34 56h1v1H34z"/><path fill="#f1f9a9" d="M29 17h1v1H29zM57 17h1v1H57zM17 29h1v1H17zM17 57h1v1H17z"/><path fill="#f8fcb5" d="M31 17h1v1H31zM17 31h1v1H17z"/><path fill="#fba05b" d="M38 17h1v1H38zM56 21h1v1H56zM26 23h1v1H26zM23 26h1v1H23zM33 28h1v1H33zM28 33h1v1H28zM17 38h1v1H17zM21 56h1v1H21z"/><path fill="#e7f69a" d="M42 17h1v1H42zM51 17h1v1H51zM17 42h1v1H17zM17 51h1v1H17z"/><path fill="#ecf7a1" d="M49 17h1v1H49zM17 49h1v1H17z"/><path fill="#fafdb6" d="M41 18h1v1H41zM18 41h1v1H18z"/><path fill="#f4fbaf" d="M52 18h1v1H52zM18 52h1v1H18z"/><path fill="#feefa3" d="M31 19h1v1H31zM19 31h1v1H19zM37 31h1v1H37zM31 37h1v1H31z"/><path fill="#fdc676" d="M33 20h1v1H33zM20 33h1v1H20z"/><path fill="#fdb768" d="M45 20h1v1H45zM57 21h1v1H57zM54 25h1v1H54zM35 27h1v1H35zM27 35h1v1H27zM41 38h1v1H41zM38 41h1v1H38zM20 45h1v1H20zM25 54h1v1H25zM21 57h1v1H21z"/><path fill="#f98f53" d="M22 21h1v1H22zM21 22h1v1H21zM28 26h1v1H28zM26 28h1v1H26zM31 28h1v1H31zM28 31h1v1H28zM53 42h1v1H53zM42 53h1v1H42z"/><path fill="#fee18c" d="M31 21h1v1H31zM31 22h1v1H31zM21 31h2v1H21z"/><path fill="#fed682" d="M44 21h1v1H44zM21 44h1v1H21z"/><path fill="#fca45c" d="M50 21h1v1H50zM45 44h1v1H45zM51 44h1v1H51zM44 45h1v1H44zM21 50h1v1H21zM44 51h1v1H44z"/><path fill="#fdb86a" d="M53 21h1v1H53zM55 26h1v1H55zM40 29h1v1H40zM29 40h1v1H29zM21 53h1v1H21zM26 55h1v1H26z"/><path fill="#fdad60" d="M35 22h1v1H35zM32 26h1v1H32zM26 32h1v1H26zM22 35h1v1H22z"/><path fill="#fdb667" d="M46 22h1v1H46zM36 31h1v1H36zM48 33h1v1H48zM31 36h1v1H31zM22 46h1v1H22zM33 48h1v1H33z"/><path fill="#ef6645" d="M24 23h1v1H24zM23 24h1v1H23zM50 24h1v1H50zM45 30h1v1H45zM32 31h1v1H32zM31 32h1v1H31zM30 45h1v1H30zM24 50h1v1H24z"/><path fill="#f57547" d="M49 23h1v1H49zM36 32h1v1H36zM32 36h1v1H32zM23 49h1v1H23z"/><path fill="#fa9958" d="M50 23h1v1H50zM23 50h1v1H23z"/><path fill="#feec9e" d="M37 24h1v1H37zM24 37h1v1H24z"/><path fill="#e45549" d="M48 24h1v1H48zM47 45h1v1H47zM45 47h1v1H45zM24 48h1v1H24z"/><path fill="#fca95e" d="M34 25h1v1H34zM25 34h1v1H25z"/><path fill="#f46f44" d="M48 25h1v1H48zM50 27h1v1H50zM33 30h1v1H33zM30 33h1v1H30zM52 41h1v1H52zM25 48h1v1H25zM27 50h1v1H27zM41 52h1v1H41z"/><path fill="#f99555" d="M51 25h1v1H51zM25 51h1v1H25z"/><path fill="#f57546" d="M57 25h1v1H57zM25 57h1v1H25z"/><path fill="#e85b48" d="M28 27h1v1H28zM27 28h1v1H27zM44 43h1v1H44zM43 44h1v1H43zM56 45h1v1H56zM56 48h1v1H56zM53 49h1v1H53zM49 53h1v1H49zM45 56h1v1H45zM48 56h1v1H48z"/><path fill="#ee6545" d="M47 27h1v1H47zM27 47h1v1H27z"/><path fill="#e65749" d="M48 27h1v1H48zM27 48h1v1H27z"/><path fill="#f88b51" d="M49 27h1v1H49zM46 30h1v1H46zM30 46h1v1H30zM52 46h1v1H52zM27 49h1v1H27zM46 52h1v1H46z"/><path fill="#e2514a" d="M29 28h1v1H29zM28 29h1v1H28z"/><path fill="#f36b44" d="M50 28h1v1H50zM28 50h1v1H28z"/><path fill="#f99153" d="M32 29h1v1H32zM29 32h1v1H29z"/><path fill="#f99455" d="M33 29h1v1H33zM49 29h1v1H49zM51 29h1v1H51zM29 33h1v1H29zM56 40h1v1H56zM29 49h1v1H29zM29 51h1v1H29zM40 56h1v1H40z"/><path fill="#fa9555" d="M35 30h1v1H35zM42 30h1v1H42zM30 35h1v1H30zM30 42h1v1H30z"/><path fill="#fee99b" d="M52 30h1v1H52zM30 52h1v1H30z"/><path fill="#fdc575" d="M55 30h1v1H55zM30 55h1v1H30z"/><path fill="#fba25c" d="M35 31h1v1H35zM31 35h1v1H31z"/><path fill="#fdbc6c" d="M48 32h1v1H48zM52 39h1v1H52zM32 48h1v1H32zM39 52h1v1H39z"/><path fill="#fee999" d="M55 32h1v1H55zM54 39h1v1H54zM39 54h1v1H39zM32 55h1v1H32z"/><path fill="#fca65e" d="M46 33h1v1H46zM33 46h1v1H33z"/><path fill="#feeda2" d="M53 33h1v1H53zM33 53h1v1H33z"/><path fill="#fdb566" d="M49 34h1v1H49zM34 49h1v1H34z"/><path fill="#d53e4f" d="M38 37h1v1H38zM37 38h1v1H37z"/><path fill="#db484d" d="M39 37h1v1H39zM37 39h1v1H37z"/><path fill="#fedc87" d="M54 37h1v1H54zM37 54h1v1H37z"/><path fill="#d33c4f" d="M39 38h1v1H39zM38 39h1v1H38z"/><path fill="#fedf8b" d="M55 39h1v1H55zM39 55h1v1H39z"/><path fill="#c0274a" d="M41 40h1v1H41zM40 41h1v1H40z"/><path fill="#d6404f" d="M44 40h1v1H44zM40 44h1v1H40z"/><path fill="#e1514a" d="M44 41h1v1H44zM41 44h1v1H41zM55 51h1v1H55zM51 55h1v1H51z"/><path fill="#f67d4b" d="M57 41h1v1H57zM54 49h1v1H54zM49 54h1v1H49zM41 57h1v1H41z"/><path fill="#ee6346" d="M43 42h1v1H43zM42 43h1v1H42z"/><path fill="#e3534a" d="M44 42h1v1H44zM42 44h1v1H42zM55 53h1v1H55zM53 55h1v1H53z"/><path fill="#ea5f47" d="M50 42h1v1H50zM42 50h1v1H42z"/><path fill="#fa9757" d="M46 45h1v1H46zM45 46h1v1H45z"/><path fill="#e65748" d="M50 45h1v1H50zM45 50h1v1H45z"/><path fill="#e04f4b" d="M48 46h1v1H48zM48 47h1v1H48zM46 48h2v1H46zM55 48h1v1H55zM48 55h1v1H48z"/><path fill="#d6404e" d="M50 46h1v1H50zM46 50h1v1H46z"/><path fill="#f67b49" d="M52 47h2v1H52zM47 52h1v1H47zM47 53h1v1H47z"/><path fill="#f06744" d="M50 48h1v1H50zM48 50h1v1H48z"/><path fill="#f77f4c" d="M57 49h1v1H57zM49 57h1v1H49z"/><path fill="#dd494c" d="M51 50h1v1H51zM50 51h1v1H50z"/><path fill="#e1504a" d="M53 50h1v1H53zM54 52h1v1H54zM50 53h1v1H50zM52 54h1v1H52z"/><path fill="#eb5f46" d="M54 50h1v1H54zM50 54h1v1H50z"/><path fill="#d8424e" d="M52 51h1v1H52zM51 52h1v1H51z"/><path fill="#dc484c" d="M53 52h1v1H53zM52 53h1v1H52z"/><path fill="#d23b4e" d="M56 52h1v1H56zM52 56h1v1H52z"/><path fill="#d63f4f" d="M54 53h1v1H54zM56 53h1v1H56zM53 54h1v1H53zM53 56h1v1H53z"/><path fill="#c72f4c" d="M56 55h1v1H56zM55 56h1v1H55z"/><path fill="#d1394e" d="M57 56h1v1H57zM56 57h1v1H56z"/></g><rect x="662.00" y="90.10" width="3" height="305.10" fill="#fff"/><g transform="translate(1.400 529.000) scale(5.47241 5.21034)" shape-rendering="crispEdges"><path fill="#9e0142" d="M0 0h1v1H0zM1 1h1v1H1zM2 2h1v1H2zM3 3h1v1H3zM4 4h1v1H4zM5 5h1v1H5zM6 6h1v1H6zM7 7h1v1H7zM8 8h1v1H8zM9 9h1v1H9zM10 10h1v1H10zM11 11h1v1H11zM12 12h1v1H12zM13 13h1v1H13zM14 14h1v1H14zM15 15h1v1H15zM16 16h1v1H16zM17 17h1v1H17zM18 18h1v1H18zM19 19h1v1H19zM20 20h1v1H20zM21 21h1v1H21zM22 22h1v1H22zM23 23h1v1H23zM24 24h1v1H24zM25 25h1v1H25zM26 26h1v1H26zM27 27h1v1H27zM28 28h1v1H28zM29 29h1v1H29zM30 30h1v1H30zM31 31h1v1H31zM32 32h1v1H32zM33 33h1v1H33zM34 34h1v1H34zM35 35h1v1H35zM36 36h1v1H36zM37 37h1v1H37zM38 38h1v1H38zM39 39h1v1H39zM40 40h1v1H40zM41 41h1v1H41zM42 42h1v1H42zM43 43h1v1H43zM44 44h1v1H44zM45 45h1v1H45zM46 46h1v1H46zM47 47h1v1H47zM48 48h1v1H48zM49 49h1v1H49zM50 50h1v1H50zM51 51h1v1H51zM52 52h1v1H52zM53 53h1v1H53zM54 54h1v1H54zM55 55h1v1H55zM56 56h1v1H56zM57 57h1v1H57z"/><path fill="#df4d4b" d="M1 0h1v1H1zM0 1h1v1H0zM8 7h1v1H8zM7 8h1v1H7zM24 13h1v1H24zM13 24h1v1H13z"/><path fill="#e04e4b" d="M2 0h1v1H2zM0 2h1v1H0zM25 13h1v1H25zM26 14h1v1H26zM13 25h1v1H13zM14 26h1v1H14z"/><path fill="#d63f4f" d="M3 0h1v1H3zM0 3h1v1H0zM22 12h1v1H22zM12 22h1v1H12z"/><path fill="#ea5e47" d="M4 0h1v1H4zM0 4h1v1H0zM24 4h1v1H24zM20 8h1v1H20zM22 8h1v1H22zM26 18h1v1H26zM8 20h1v1H8zM8 22h1v1H8zM4 24h1v1H4zM18 26h1v1H18zM33 31h1v1H33zM31 33h1v1H31zM57 54h1v1H57zM54 57h1v1H54z"/><path fill="#f99154" d="M5 0h1v1H5zM22 2h1v1H22zM0 5h1v1H0zM2 22h1v1H2zM37 30h1v1H37zM30 37h1v1H30zM57 44h1v1H57zM44 57h1v1H44z"/><path fill="#f88950" d="M6 0h1v1H6zM6 4h1v1H6zM0 6h1v1H0zM4 6h1v1H4zM41 28h1v1H41zM28 41h1v1H28zM49 47h1v1H49zM47 49h1v1H47zM55 49h1v1H55zM57 49h1v1H57zM49 55h1v1H49zM49 57h1v1H49z"/><path fill="#fdb96a" d="M7 0h1v1H7zM0 7h1v1H0zM51 12h1v1H51zM53 19h1v1H53zM55 23h1v1H55zM39 28h1v1H39zM41 29h1v1H41zM28 39h1v1H28zM48 39h1v1H48zM29 41h1v1H29zM44 43h1v1H44zM43 44h1v1H43zM39 48h1v1H39zM12 51h1v1H12zM19 53h1v1H19zM23 55h1v1H23z"/><path fill="#fdbd6e" d="M8 0h1v1H8zM0 8h1v1H0zM56 11h1v1H56zM54 21h1v1H54zM43 35h1v1H43zM45 38h1v1H45zM46 39h1v1H46zM51 42h1v1H51zM35 43h1v1H35zM38 45h1v1H38zM39 46h1v1H39zM42 51h1v1H42zM21 54h1v1H21zM11 56h1v1H11z"/><path fill="#fec877" d="M9 0h1v1H9zM0 9h1v1H0zM55 13h1v1H55zM44 14h1v1H44zM43 25h1v1H43zM41 31h1v1H41zM31 41h1v1H31zM25 43h1v1H25zM14 44h1v1H14zM13 55h1v1H13z"/><path fill="#fa9a58" d="M10 0h1v1H10zM6 1h1v1H6zM1 6h1v1H1zM19 7h1v1H19zM0 10h1v1H0zM7 19h1v1H7zM55 26h1v1H55zM44 42h1v1H44zM42 44h1v1H42zM26 55h1v1H26z"/><path fill="#fca65d" d="M11 0h1v1H11zM12 7h1v1H12zM51 7h1v1H51zM52 10h1v1H52zM0 11h1v1H0zM7 12h1v1H7zM43 27h1v1H43zM27 43h1v1H27zM57 50h1v1H57zM7 51h1v1H7zM10 52h1v1H10zM50 57h1v1H50z"/><path fill="#eb5f46" d="M12 0h1v1H12zM26 11h1v1H26zM0 12h1v1H0zM23 13h1v1H23zM13 23h1v1H13zM11 26h1v1H11z"/><path fill="#fa9857" d="M13 0h1v1H13zM10 2h1v1H10zM55 6h1v1H55zM16 8h1v1H16zM2 10h1v1H2zM0 13h1v1H0zM8 16h1v1H8zM52 46h1v1H52zM46 52h1v1H46zM6 55h1v1H6z"/><path fill="#f46d43" d="M14 0h1v1H14zM26 8h1v1H26zM18 10h1v1H18zM17 11h1v1H17zM0 14h1v1H0zM26 16h1v1H26zM11 17h1v1H11zM10 18h1v1H10zM24 21h1v1H24zM21 24h1v1H21zM8 26h1v1H8zM16 26h1v1H16zM53 51h1v1H53zM51 53h1v1H51z"/><path fill="#ee6445" d="M15 0h1v1H15zM23 1h1v1H23zM13 3h1v1H13zM7 5h1v1H7zM11 6h1v1H11zM18 6h1v1H18zM5 7h1v1H5zM6 11h1v1H6zM3 13h1v1H3zM0 15h1v1H0zM23 17h1v1H23zM6 18h1v1H6zM20 18h1v1H20zM18 20h1v1H18zM1 23h1v1H1zM17 23h1v1H17zM48 47h1v1H48zM47 48h1v1H47z"/><path fill="#f57647" d="M16 0h1v1H16zM24 1h1v1H24zM20 2h1v1H20zM55 14h1v1H55zM0 16h1v1H0zM22 16h2v1H22zM2 20h1v1H2zM16 22h1v1H16zM16 23h1v1H16zM1 24h1v1H1zM40 37h1v1H40zM37 40h1v1H37zM51 45h1v1H51zM45 51h1v1H45zM14 55h1v1H14z"/><path fill="#dd4a4c" d="M17 0h1v1H17zM6 5h1v1H6zM5 6h1v1H5zM0 17h1v1H0zM25 17h1v1H25zM17 25h1v1H17zM34 31h1v1H34zM31 34h1v1H31z"/><path fill="#e2514a" d="M18 0h1v1H18zM12 3h1v1H12zM9 6h1v1H9zM6 9h1v1H6zM3 12h1v1H3zM26 17h1v1H26zM0 18h1v1H0zM17 26h1v1H17zM29 28h1v1H29zM28 29h1v1H28z"/><path fill="#e55749" d="M19 0h1v1H19zM0 19h1v1H0zM32 28h1v1H32zM28 32h1v1H28z"/><path fill="#f26a44" d="M20 0h1v1H20zM13 4h1v1H13zM25 4h1v1H25zM21 6h1v1H21zM4 13h1v1H4zM0 20h1v1H0zM6 21h1v1H6zM4 25h1v1H4z"/><path fill="#fba05a" d="M21 0h1v1H21zM0 21h1v1H0zM51 44h1v1H51zM44 51h1v1H44z"/><path fill="#f99053" d="M22 0h1v1H22zM52 5h1v1H52zM17 7h1v1H17zM45 8h1v1H45zM53 14h1v1H53zM7 17h1v1H7zM0 22h1v1H0zM35 31h1v1H35zM37 33h1v1H37zM31 35h1v1H31zM33 37h1v1H33zM46 38h1v1H46zM8 45h1v1H8zM38 46h1v1H38zM5 52h1v1H5zM14 53h1v1H14z"/><path fill="#f7804c" d="M23 0h1v1H23zM16 2h1v1H16zM5 3h1v1H5zM3 5h1v1H3zM24 7h1v1H24zM15 8h1v1H15zM23 9h1v1H23zM8 15h1v1H8zM2 16h1v1H2zM0 23h1v1H0zM9 23h1v1H9zM7 24h1v1H7zM49 46h1v1H49zM46 49h1v1H46z"/><path fill="#f67c4a" d="M24 0h1v1H24zM12 8h1v1H12zM8 12h1v1H8zM0 24h1v1H0zM30 29h1v1H30zM29 30h1v1H29zM55 51h1v1H55zM51 55h1v1H51z"/><path fill="#ed6346" d="M25 0h1v1H25zM13 2h1v1H13zM23 12h1v1H23zM2 13h1v1H2zM12 23h1v1H12zM0 25h1v1H0zM32 29h1v1H32zM29 32h1v1H29z"/><path fill="#e85a48" d="M26 0h1v1H26zM4 2h1v1H4zM2 4h1v1H2zM26 13h1v1H26zM20 15h1v1H20zM15 20h1v1H15zM0 26h1v1H0zM13 26h1v1H13zM32 30h1v1H32zM30 32h1v1H30z"/><path fill="#f6fbb0" d="M27 0h1v1H27zM30 13h1v1H30zM33 26h1v1H33zM0 27h1v1H0zM13 30h1v1H13zM26 33h1v1H26z"/><path fill="#fafdb7" d="M28 0h1v1H28zM30 3h1v1H30zM50 4h1v1H50zM50 8h1v1H50zM45 16h1v1H45zM32 18h1v1H32zM32 22h1v1H32zM0 28h1v1H0zM3 30h1v1H3zM18 32h1v1H18zM22 32h1v1H22zM16 45h1v1H16zM4 50h1v1H4zM8 50h1v1H8z"/><path fill="#ecf8a2" d="M29 0h1v1H29zM33 18h1v1H33zM0 29h1v1H0zM18 33h1v1H18z"/><path fill="#fee18d" d="M30 0h1v1H30zM54 3h1v1H54zM51 4h1v1H51zM38 13h1v1H38zM51 13h1v1H51zM46 19h1v1H46zM47 26h1v1H47zM49 27h1v1H49zM0 30h1v1H0zM57 33h1v1H57zM13 38h1v1H13zM19 46h1v1H19zM26 47h1v1H26zM27 49h1v1H27zM4 51h1v1H4zM13 51h1v1H13zM3 54h1v1H3zM33 57h1v1H33z"/><path fill="#feec9f" d="M31 0h1v1H31zM45 0h1v1H45zM41 1h1v1H41zM39 6h1v1H39zM38 7h1v1H38zM41 7h1v1H41zM40 20h1v1H40zM40 21h1v1H40zM42 24h1v1H42zM0 31h1v1H0zM45 33h2v1H45zM7 38h1v1H7zM6 39h1v1H6zM20 40h2v1H20zM1 41h1v1H1zM7 41h1v1H7zM24 42h1v1H24zM52 42h1v1H52zM0 45h1v1H0zM33 45h1v1H33zM33 46h1v1H33zM42 52h1v1H42z"/><path fill="#fee696" d="M32 0h1v1H32zM35 5h1v1H35zM40 7h1v1H40zM45 29h2v1H45zM47 30h1v1H47zM0 32h1v1H0zM5 35h1v1H5zM7 40h1v1H7zM29 45h1v1H29zM29 46h1v1H29zM30 47h1v1H30z"/><path fill="#fff4ac" d="M33 0h1v1H33zM45 17h1v1H45zM33 19h1v1H33zM37 20h1v1H37zM48 20h1v1H48zM0 33h1v1H0zM19 33h1v1H19zM20 37h1v1H20zM17 45h1v1H17zM20 48h1v1H20z"/><path fill="#fffcba" d="M34 0h1v1H34zM50 0h1v1H50zM45 15h1v1H45zM47 18h1v1H47zM43 19h1v1H43zM42 22h1v1H42zM0 34h1v1H0zM22 42h1v1H22zM19 43h1v1H19zM15 45h1v1H15zM18 47h1v1H18zM0 50h1v1H0z"/><path fill="#fecf7d" d="M35 0h1v1H35zM55 0h1v1H55zM41 9h1v1H41zM38 14h1v1H38zM39 17h1v1H39zM51 18h1v1H51zM45 28h1v1H45zM55 32h1v1H55zM0 35h1v1H0zM14 38h1v1H14zM17 39h1v1H17zM50 40h1v1H50zM9 41h1v1H9zM28 45h1v1H28zM40 50h1v1H40zM18 51h1v1H18zM0 55h1v1H0zM32 55h1v1H32z"/><path fill="#fdac60" d="M36 0h1v1H36zM55 3h1v1H55zM57 23h1v1H57zM0 36h1v1H0zM51 38h1v1H51zM57 38h1v1H57zM56 44h1v1H56zM38 51h1v1H38zM3 55h1v1H3zM44 56h1v1H44zM23 57h1v1H23zM38 57h1v1H38z"/><path fill="#fa9958" d="M37 0h1v1H37zM0 37h1v1H0z"/><path fill="#fdc776" d="M38 0h1v1H38zM51 1h1v1H51zM38 15h1v1H38zM40 31h1v1H40zM43 32h1v1H43zM57 36h1v1H57zM0 38h1v1H0zM15 38h1v1H15zM31 40h1v1H31zM32 43h1v1H32zM1 51h1v1H1zM36 57h1v1H36z"/><path fill="#fa9656" d="M39 0h1v1H39zM21 7h1v1H21zM57 9h1v1H57zM54 20h1v1H54zM7 21h1v1H7zM38 28h1v1H38zM28 38h1v1H28zM0 39h1v1H0zM51 47h1v1H51zM47 51h1v1H47zM20 54h1v1H20zM9 57h1v1H9z"/><path fill="#fb9d59" d="M40 0h1v1H40zM15 9h1v1H15zM44 9h1v1H44zM54 14h1v1H54zM9 15h1v1H9zM54 26h1v1H54zM37 29h1v1H37zM42 31h1v1H42zM39 33h1v1H39zM29 37h1v1H29zM33 39h1v1H33zM0 40h1v1H0zM31 42h1v1H31zM9 44h1v1H9zM14 54h1v1H14zM26 54h1v1H26z"/><path fill="#fff7b2" d="M41 0h1v1H41zM50 7h1v1H50zM37 10h1v1H37zM48 25h1v1H48zM44 33h1v1H44zM49 34h1v1H49zM10 37h1v1H10zM0 41h1v1H0zM33 44h1v1H33zM25 48h1v1H25zM34 49h1v1H34zM7 50h1v1H7z"/><path fill="#fee390" d="M42 0h1v1H42zM44 0h1v1H44zM38 10h1v1H38zM35 13h1v1H35zM52 16h1v1H52zM47 25h1v1H47zM48 31h1v1H48zM41 33h1v1H41zM13 35h1v1H13zM10 38h1v1H10zM33 41h1v1H33zM0 42h1v1H0zM0 44h1v1H0zM25 47h1v1H25zM31 48h1v1H31zM16 52h1v1H16z"/><path fill="#fff3ac" d="M43 0h1v1H43zM48 2h1v1H48zM49 12h1v1H49zM35 23h1v1H35zM35 24h1v1H35zM23 35h2v1H23zM0 43h1v1H0zM2 48h1v1H2zM12 49h1v1H12z"/><path fill="#f3faac" d="M46 0h1v1H46zM28 2h1v1H28zM32 16h1v1H32zM27 17h1v1H27zM27 19h1v1H27zM32 24h1v1H32zM17 27h1v1H17zM19 27h1v1H19zM2 28h1v1H2zM16 32h1v1H16zM24 32h1v1H24zM0 46h1v1H0z"/><path fill="#fed683" d="M47 0h1v1H47zM43 11h1v1H43zM38 20h1v1H38zM55 36h1v1H55zM20 38h1v1H20zM49 38h1v1H49zM11 43h1v1H11zM50 43h1v1H50zM0 47h1v1H0zM38 49h1v1H38zM43 50h1v1H43zM36 55h1v1H36z"/><path fill="#fff1a7" d="M48 0h1v1H48zM45 2h1v1H45zM42 16h1v1H42zM56 16h1v1H56zM46 34h1v1H46zM16 42h1v1H16zM2 45h1v1H2zM34 46h1v1H34zM0 48h1v1H0zM16 56h1v1H16z"/><path fill="#fdfebc" d="M49 0h1v1H49zM50 2h1v1H50zM49 4h1v1H49zM32 5h1v1H32zM30 6h1v1H30zM49 16h1v1H49zM35 20h1v1H35zM34 21h1v1H34zM36 21h1v1H36zM46 23h1v1H46zM31 24h1v1H31zM36 25h1v1H36zM6 30h1v1H6zM24 31h1v1H24zM5 32h1v1H5zM21 34h1v1H21zM20 35h1v1H20zM21 36h1v1H21zM25 36h1v1H25zM52 37h1v1H52zM23 46h1v1H23zM0 49h1v1H0zM4 49h1v1H4zM16 49h1v1H16zM2 50h1v1H2zM37 52h1v1H37z"/><path fill="#fedd88" d="M51 0h1v1H51zM42 2h1v1H42zM39 14h1v1H39zM38 21h1v1H38zM21 38h1v1H21zM14 39h1v1H14zM2 42h1v1H2zM0 51h1v1H0z"/><path fill="#fee08c" d="M52 0h1v1H52zM36 2h1v1H36zM53 3h1v1H53zM2 36h1v1H2zM0 52h1v1H0zM3 53h1v1H3z"/><path fill="#fdbc6d" d="M53 0h1v1H53zM11 3h1v1H11zM3 11h1v1H3zM57 20h1v1H57zM51 23h1v1H51zM57 27h1v1H57zM42 36h1v1H42zM36 42h1v1H36zM23 51h1v1H23zM0 53h1v1H0zM20 57h1v1H20zM27 57h1v1H27z"/><path fill="#fed985" d="M54 0h1v1H54zM11 1h1v1H11zM36 6h1v1H36zM1 11h1v1H1zM57 16h1v1H57zM52 29h1v1H52zM6 36h1v1H6zM48 37h1v1H48zM37 48h1v1H37zM29 52h1v1H29zM0 54h1v1H0zM16 57h1v1H16z"/><path fill="#feeda0" d="M56 0h1v1H56zM52 4h1v1H52zM39 7h1v1H39zM37 8h1v1H37zM8 37h1v1H8zM7 39h1v1H7zM4 52h1v1H4zM0 56h1v1H0z"/><path fill="#feda86" d="M57 0h1v1H57zM43 2h1v1H43zM41 10h1v1H41zM56 13h1v1H56zM44 30h1v1H44zM54 37h1v1H54zM56 38h1v1H56zM10 41h1v1H10zM2 43h1v1H2zM30 44h1v1H30zM37 54h1v1H37zM13 56h1v1H13zM38 56h1v1H38zM0 57h1v1H0z"/><path fill="#ec6146" d="M2 1h1v1H2zM1 2h1v1H1zM17 4h1v1H17zM11 8h1v1H11zM24 8h1v1H24zM8 11h1v1H8zM22 11h1v1H22zM4 17h1v1H4zM11 22h1v1H11zM8 24h1v1H8zM30 28h1v1H30zM28 30h1v1H28zM50 49h1v1H50zM49 50h1v1H49z"/><path fill="#e3544a" d="M3 1h1v1H3zM1 3h1v1H1z"/><path fill="#d43d4f" d="M4 1h1v1H4zM1 4h1v1H1zM8 5h1v1H8zM5 8h1v1H5zM22 13h1v1H22zM21 20h1v1H21zM20 21h1v1H20zM13 22h1v1H13zM36 35h1v1H36zM35 36h1v1H35z"/><path fill="#fca45c" d="M5 1h1v1H5zM16 3h1v1H16zM1 5h1v1H1zM3 16h1v1H3zM37 31h1v1H37zM31 37h1v1H31z"/><path fill="#fdae61" d="M7 1h1v1H7zM21 3h1v1H21zM8 4h2v1H8zM1 7h1v1H1zM4 8h1v1H4zM56 8h1v1H56zM4 9h1v1H4zM3 21h1v1H3zM43 29h1v1H43zM42 32h1v1H42zM47 39h1v1H47zM32 42h1v1H32zM29 43h1v1H29zM39 47h1v1H39zM8 56h1v1H8z"/><path fill="#fdb063" d="M8 1h1v1H8zM1 8h1v1H1zM54 23h1v1H54zM36 27h1v1H36zM27 36h1v1H27zM44 38h1v1H44zM42 39h1v1H42zM39 42h1v1H39zM38 44h1v1H38zM52 48h1v1H52zM48 52h1v1H48zM23 54h1v1H23z"/><path fill="#fb9f5a" d="M9 1h1v1H9zM13 7h1v1H13zM18 7h1v1H18zM1 9h1v1H1zM55 12h1v1H55zM7 13h1v1H7zM7 18h1v1H7zM12 55h1v1H12z"/><path fill="#fdc171" d="M10 1h1v1H10zM1 10h1v1H1zM56 10h1v1H56zM38 12h1v1H38zM56 12h1v1H56zM51 19h1v1H51zM53 22h1v1H53zM57 29h1v1H57zM12 38h1v1H12zM43 39h1v1H43zM39 43h1v1H39zM51 43h1v1H51zM57 48h1v1H57zM56 50h1v1H56zM19 51h1v1H19zM43 51h1v1H43zM22 53h1v1H22zM10 56h1v1H10zM12 56h1v1H12zM50 56h1v1H50zM29 57h1v1H29zM48 57h1v1H48z"/><path fill="#f26b44" d="M12 1h1v1H12zM17 5h1v1H17zM1 12h1v1H1zM5 17h1v1H5zM31 28h1v1H31zM28 31h1v1H28z"/><path fill="#f57748" d="M13 1h1v1H13zM18 2h1v1H18zM22 4h1v1H22zM15 6h1v1H15zM17 9h1v1H17zM1 13h1v1H1zM6 15h1v1H6zM9 17h1v1H9zM2 18h1v1H2zM4 22h1v1H4zM54 51h1v1H54zM51 54h1v1H51z"/><path fill="#f46e43" d="M14 1h1v1H14zM53 8h1v1H53zM1 14h1v1H1zM40 33h1v1H40zM33 40h1v1H33zM8 53h1v1H8z"/><path fill="#f99153" d="M15 1h1v1H15zM16 10h1v1H16zM1 15h1v1H1zM10 16h1v1H10zM36 32h1v1H36zM32 36h1v1H32z"/><path fill="#f7864e" d="M16 1h1v1H16zM53 6h1v1H53zM51 9h1v1H51zM1 16h1v1H1zM9 51h1v1H9zM57 52h1v1H57zM6 53h1v1H6zM52 57h1v1H52z"/><path fill="#db484c" d="M17 1h1v1H17zM1 17h1v1H1z"/><path fill="#e1504a" d="M18 1h1v1H18zM22 17h1v1H22zM1 18h1v1H1zM22 20h1v1H22zM17 22h1v1H17zM20 22h1v1H20zM26 23h1v1H26zM23 26h1v1H23z"/><path fill="#dc494c" d="M19 1h1v1H19zM18 12h1v1H18zM12 18h1v1H12zM1 19h1v1H1zM22 19h1v1H22zM19 22h1v1H19z"/><path fill="#f7824d" d="M20 1h1v1H20zM21 4h1v1H21zM1 20h1v1H1zM4 21h1v1H4zM33 28h1v1H33zM28 33h1v1H28z"/><path fill="#f57145" d="M21 1h1v1H21zM1 21h1v1H1zM34 29h1v1H34zM29 34h1v1H29z"/><path fill="#f36b43" d="M22 1h1v1H22zM20 4h1v1H20zM4 20h1v1H4zM22 21h1v1H22zM1 22h1v1H1zM21 22h1v1H21zM34 28h1v1H34zM28 34h1v1H28zM57 51h1v1H57zM51 57h1v1H51z"/><path fill="#e85b48" d="M25 1h1v1H25zM19 6h1v1H19zM6 19h1v1H6zM23 19h1v1H23zM19 23h1v1H19zM1 25h1v1H1zM40 36h1v1H40zM36 40h1v1H36z"/><path fill="#f47044" d="M26 1h1v1H26zM23 5h1v1H23zM26 15h1v1H26zM5 23h1v1H5zM1 26h1v1H1zM15 26h1v1H15zM38 30h1v1H38zM30 38h1v1H30zM48 45h1v1H48zM45 48h1v1H45z"/><path fill="#e9f69d" d="M27 1h1v1H27zM29 3h1v1H29zM34 13h1v1H34zM1 27h1v1H1zM3 29h1v1H3zM13 34h1v1H13z"/><path fill="#f9fdb6" d="M28 1h1v1H28zM31 6h1v1H31zM30 7h1v1H30zM34 10h1v1H34zM34 14h1v1H34zM34 17h1v1H34zM47 22h1v1H47zM48 23h1v1H48zM41 26h1v1H41zM1 28h1v1H1zM7 30h1v1H7zM6 31h1v1H6zM10 34h1v1H10zM14 34h1v1H14zM17 34h1v1H17zM26 41h1v1H26zM22 47h1v1H22zM23 48h1v1H23z"/><path fill="#f7fcb2" d="M29 1h1v1H29zM48 3h1v1H48zM34 24h1v1H34zM1 29h1v1H1zM24 34h1v1H24zM3 48h1v1H3z"/><path fill="#fff8b3" d="M30 1h1v1H30zM45 3h1v1H45zM42 4h1v1H42zM47 4h2v1H47zM35 22h2v1H35zM45 26h1v1H45zM47 29h1v1H47zM1 30h1v1H1zM52 34h1v1H52zM56 34h1v1H56zM22 35h1v1H22zM22 36h1v1H22zM4 42h1v1H4zM3 45h1v1H3zM26 45h1v1H26zM4 47h1v1H4zM29 47h1v1H29zM4 48h1v1H4zM34 52h1v1H34zM34 56h1v1H34z"/><path fill="#feeea2" d="M31 1h1v1H31zM33 2h1v1H33zM53 2h1v1H53zM30 4h1v1H30zM37 17h1v1H37zM4 30h1v1H4zM1 31h1v1H1zM51 32h1v1H51zM2 33h1v1H2zM17 37h1v1H17zM32 51h1v1H32zM2 53h1v1H2z"/><path fill="#fee493" d="M32 1h1v1H32zM1 32h1v1H1z"/><path fill="#ffffbe" d="M33 1h1v1H33zM30 2h1v1H30zM37 11h1v1H37zM46 13h1v1H46zM32 17h1v1H32zM46 21h1v1H46zM37 22h1v1H37zM43 23h1v1H43zM46 25h1v1H46zM2 30h1v1H2zM17 32h1v1H17zM1 33h1v1H1zM11 37h1v1H11zM22 37h1v1H22zM23 43h1v1H23zM13 46h1v1H13zM21 46h1v1H21zM25 46h1v1H25z"/><path fill="#fee797" d="M34 1h1v1H34zM35 8h1v1H35zM37 9h1v1H37zM43 13h1v1H43zM49 15h1v1H49zM40 16h1v1H40zM51 28h1v1H51zM44 29h1v1H44zM1 34h1v1H1zM8 35h1v1H8zM51 35h1v1H51zM41 36h1v1H41zM52 36h1v1H52zM9 37h1v1H9zM16 40h1v1H16zM36 41h1v1H36zM13 43h1v1H13zM29 44h1v1H29zM15 49h1v1H15zM28 51h1v1H28zM35 51h1v1H35zM36 52h1v1H36z"/><path fill="#fdc373" d="M35 1h1v1H35zM40 4h1v1H40zM57 12h1v1H57zM51 14h1v1H51zM56 14h1v1H56zM38 17h1v1H38zM53 18h1v1H53zM1 35h1v1H1zM46 35h1v1H46zM17 38h1v1H17zM4 40h1v1H4zM35 46h1v1H35zM52 47h1v1H52zM14 51h1v1H14zM47 52h1v1H47zM18 53h1v1H18zM14 56h1v1H14zM12 57h1v1H12z"/><path fill="#fdb466" d="M36 1h1v1H36zM11 4h1v1H11zM44 10h1v1H44zM4 11h1v1H4zM52 11h1v1H52zM55 21h1v1H55zM54 29h1v1H54zM1 36h1v1H1zM50 36h1v1H50zM47 42h2v1H47zM10 44h1v1H10zM55 45h1v1H55zM42 47h1v1H42zM42 48h1v1H42zM36 50h1v1H36zM11 52h1v1H11zM29 54h1v1H29zM21 55h1v1H21zM45 55h1v1H45z"/><path fill="#fca55d" d="M37 1h1v1H37zM7 2h1v1H7zM9 2h1v1H9zM55 2h1v1H55zM2 7h1v1H2zM2 9h1v1H2zM55 9h1v1H55zM55 11h1v1H55zM35 30h1v1H35zM30 35h1v1H30zM1 37h1v1H1zM54 40h1v1H54zM40 54h1v1H40zM2 55h1v1H2zM9 55h1v1H9zM11 55h1v1H11z"/><path fill="#f99354" d="M38 1h1v1H38zM57 6h1v1H57zM54 11h1v1H54zM26 21h1v1H26zM21 26h1v1H21zM1 38h1v1H1zM47 45h1v1H47zM45 47h1v1H45zM11 54h1v1H11zM6 57h1v1H6z"/><path fill="#fb9e5a" d="M39 1h1v1H39zM52 6h1v1H52zM1 39h1v1H1zM49 42h1v1H49zM42 49h1v1H42zM53 49h1v1H53zM6 52h1v1H6zM49 53h1v1H49z"/><path fill="#fba35c" d="M40 1h1v1H40zM1 40h1v1H1zM42 40h1v1H42zM40 42h1v1H40zM56 51h1v1H56zM51 56h1v1H51z"/><path fill="#fff0a6" d="M42 1h1v1H42zM43 3h1v1H43zM47 5h1v1H47zM31 10h1v1H31zM49 22h1v1H49zM39 24h1v1H39zM39 25h1v1H39zM10 31h1v1H10zM51 33h1v1H51zM24 39h2v1H24zM1 42h1v1H1zM3 43h1v1H3zM5 47h1v1H5zM22 49h1v1H22zM33 51h1v1H33z"/><path fill="#fee492" d="M43 1h1v1H43zM49 1h1v1H49zM44 4h1v1H44zM49 6h1v1H49zM48 8h1v1H48zM40 13h1v1H40zM45 14h1v1H45zM39 19h1v1H39zM40 26h1v1H40zM46 28h1v1H46zM45 31h1v1H45zM19 39h1v1H19zM41 39h1v1H41zM13 40h1v1H13zM26 40h1v1H26zM39 41h1v1H39zM1 43h1v1H1zM4 44h1v1H4zM14 45h1v1H14zM31 45h1v1H31zM28 46h1v1H28zM8 48h1v1H8zM1 49h1v1H1zM6 49h1v1H6z"/><path fill="#feea9c" d="M44 1h1v1H44zM41 2h1v1H41zM42 7h1v1H42zM47 7h1v1H47zM48 10h1v1H48zM45 12h1v1H45zM43 15h1v1H43zM52 30h1v1H52zM56 31h1v1H56zM48 32h1v1H48zM53 36h1v1H53zM52 39h1v1H52zM2 41h1v1H2zM7 42h1v1H7zM15 43h1v1H15zM1 44h1v1H1zM12 45h1v1H12zM7 47h1v1H7zM10 48h1v1H10zM32 48h1v1H32zM30 52h1v1H30zM39 52h1v1H39zM36 53h1v1H36zM31 56h1v1H31z"/><path fill="#fee899" d="M45 1h1v1H45zM36 3h1v1H36zM44 3h1v1H44zM39 16h1v1H39zM45 20h1v1H45zM30 25h1v1H30zM25 30h1v1H25zM48 33h1v1H48zM3 36h1v1H3zM16 39h1v1H16zM3 44h1v1H3zM1 45h1v1H1zM20 45h1v1H20zM33 48h1v1H33z"/><path fill="#feeea3" d="M46 1h1v1H46zM36 5h1v1H36zM48 5h1v1H48zM49 11h1v1H49zM44 12h1v1H44zM48 15h1v1H48zM46 17h1v1H46zM36 18h1v1H36zM48 19h1v1H48zM44 25h1v1H44zM52 27h1v1H52zM49 29h1v1H49zM5 36h1v1H5zM18 36h1v1H18zM12 44h1v1H12zM25 44h1v1H25zM1 46h1v1H1zM17 46h1v1H17zM5 48h1v1H5zM15 48h1v1H15zM19 48h1v1H19zM11 49h1v1H11zM29 49h1v1H29zM27 52h1v1H27z"/><path fill="#f4fbaf" d="M47 1h1v1H47zM30 5h1v1H30zM50 21h1v1H50zM5 30h1v1H5zM1 47h1v1H1zM21 50h1v1H21z"/><path fill="#fffdbc" d="M48 1h1v1H48zM34 19h1v1H34zM44 24h1v1H44zM19 34h1v1H19zM24 44h1v1H24zM1 48h1v1H1z"/><path fill="#f1faaa" d="M50 1h1v1H50zM29 2h1v1H29zM28 19h1v1H28zM33 20h1v1H33zM31 21h1v1H31zM30 22h1v1H30zM31 23h1v1H31zM19 28h1v1H19zM2 29h1v1H2zM22 30h1v1H22zM21 31h1v1H21zM23 31h1v1H23zM20 33h1v1H20zM1 50h1v1H1z"/><path fill="#fec776" d="M52 1h1v1H52zM57 1h1v1H57zM52 21h1v1H52zM55 24h1v1H55zM42 28h1v1H42zM54 35h1v1H54zM45 37h1v1H45zM49 37h1v1H49zM55 37h1v1H55zM28 42h1v1H28zM37 45h1v1H37zM37 49h1v1H37zM1 52h1v1H1zM21 52h1v1H21zM35 54h1v1H35zM24 55h1v1H24zM37 55h1v1H37zM1 57h1v1H1z"/><path fill="#fee99b" d="M53 1h1v1H53zM41 11h1v1H41zM35 25h1v1H35zM51 27h1v1H51zM50 29h1v1H50zM45 30h1v1H45zM44 34h1v1H44zM25 35h1v1H25zM11 41h1v1H11zM34 44h1v1H34zM30 45h1v1H30zM29 50h1v1H29zM27 51h1v1H27zM1 53h1v1H1z"/><path fill="#fed17e" d="M54 1h1v1H54zM7 3h1v1H7zM3 7h1v1H3zM40 23h1v1H40zM40 24h1v1H40zM54 36h1v1H54zM23 40h2v1H23zM51 46h1v1H51zM46 51h1v1H46zM1 54h1v1H1zM36 54h1v1H36z"/><path fill="#fece7c" d="M55 1h1v1H55zM56 15h1v1H56zM38 19h1v1H38zM51 26h1v1H51zM43 28h1v1H43zM38 29h1v1H38zM43 31h1v1H43zM57 31h1v1H57zM19 38h1v1H19zM29 38h1v1H29zM49 40h1v1H49zM52 40h1v1H52zM28 43h1v1H28zM31 43h1v1H31zM45 43h1v1H45zM43 45h1v1H43zM40 49h1v1H40zM26 51h1v1H26zM40 52h1v1H40zM1 55h1v1H1zM15 56h1v1H15zM31 57h1v1H31z"/><path fill="#fdc574" d="M56 1h1v1H56zM52 14h1v1H52zM39 15h1v1H39zM52 23h1v1H52zM40 28h1v1H40zM15 39h1v1H15zM28 40h1v1H28zM57 40h1v1H57zM14 52h1v1H14zM23 52h1v1H23zM1 56h1v1H1zM40 57h1v1H40z"/><path fill="#dd4b4c" d="M3 2h1v1H3zM2 3h1v1H2zM13 12h1v1H13zM12 13h1v1H12z"/><path fill="#f46e44" d="M5 2h1v1H5zM2 5h1v1H2zM48 44h1v1H48zM44 48h1v1H44z"/><path fill="#fa9957" d="M6 2h1v1H6zM16 4h1v1H16zM2 6h1v1H2zM51 6h1v1H51zM4 16h1v1H4zM56 17h1v1H56zM37 27h1v1H37zM27 37h1v1H27zM57 37h1v1H57zM6 51h1v1H6zM17 56h1v1H17zM37 57h1v1H37z"/><path fill="#fa9556" d="M8 2h1v1H8zM2 8h1v1H2zM57 25h1v1H57zM42 29h1v1H42zM35 32h1v1H35zM38 34h1v1H38zM32 35h1v1H32zM34 38h1v1H34zM29 42h1v1H29zM25 57h1v1H25z"/><path fill="#fdb668" d="M11 2h1v1H11zM2 11h1v1H2zM55 38h1v1H55zM44 41h1v1H44zM45 42h1v1H45zM52 43h1v1H52zM41 44h1v1H41zM42 45h1v1H42zM43 52h1v1H43zM38 55h1v1H38z"/><path fill="#e75948" d="M12 2h1v1H12zM10 8h1v1H10zM8 10h1v1H8zM2 12h1v1H2zM25 14h1v1H25zM24 20h1v1H24zM20 24h1v1H20zM14 25h1v1H14zM37 35h1v1H37zM35 37h1v1H35z"/><path fill="#f67a49" d="M14 2h1v1H14zM26 6h1v1H26zM57 10h1v1H57zM53 11h1v1H53zM2 14h1v1H2zM6 26h1v1H6zM11 53h1v1H11zM10 57h1v1H10z"/><path fill="#f67848" d="M15 2h1v1H15zM23 3h1v1H23zM10 7h1v1H10zM7 10h1v1H7zM18 11h1v1H18zM2 15h1v1H2zM21 16h1v1H21zM11 18h1v1H11zM16 21h1v1H16zM3 23h1v1H3zM47 40h1v1H47zM40 47h1v1H40zM57 53h1v1H57zM53 57h1v1H53z"/><path fill="#ee6545" d="M17 2h1v1H17zM19 4h1v1H19zM19 8h1v1H19zM2 17h1v1H2zM4 19h1v1H4zM8 19h1v1H8z"/><path fill="#f57446" d="M19 2h1v1H19zM57 8h1v1H57zM16 13h1v1H16zM13 16h1v1H13zM55 17h1v1H55zM2 19h1v1H2zM34 27h1v1H34zM33 29h1v1H33zM39 32h1v1H39zM29 33h1v1H29zM27 34h1v1H27zM40 34h1v1H40zM32 39h1v1H32zM34 40h1v1H34zM17 55h1v1H17zM8 57h1v1H8z"/><path fill="#f67e4b" d="M21 2h1v1H21zM15 3h1v1H15zM22 3h1v1H22zM14 4h1v1H14zM53 5h1v1H53zM26 9h1v1H26zM20 11h1v1H20zM4 14h1v1H4zM3 15h1v1H3zM22 15h1v1H22zM11 20h1v1H11zM2 21h1v1H2zM3 22h1v1H3zM15 22h1v1H15zM9 26h1v1H9zM39 37h1v1H39zM37 39h1v1H37zM5 53h1v1H5z"/><path fill="#f57346" d="M23 2h1v1H23zM24 16h1v1H24zM2 23h1v1H2zM16 24h1v1H16z"/><path fill="#f26944" d="M24 2h1v1H24zM2 24h1v1H2zM40 32h1v1H40zM32 40h1v1H32z"/><path fill="#f8884f" d="M25 2h1v1H25zM22 7h1v1H22zM7 22h1v1H7zM2 25h1v1H2zM39 30h1v1H39zM30 39h1v1H30zM47 44h1v1H47zM44 47h1v1H44z"/><path fill="#eb5f47" d="M26 2h1v1H26zM21 12h1v1H21zM20 13h1v1H20zM13 20h1v1H13zM12 21h1v1H12zM2 26h1v1H2z"/><path fill="#e6f599" d="M27 2h1v1H27zM27 15h1v1H27zM27 18h1v1H27zM2 27h1v1H2zM15 27h1v1H15zM18 27h1v1H18z"/><path fill="#f6fcb2" d="M31 2h1v1H31zM46 2h1v1H46zM32 12h1v1H32zM44 20h1v1H44zM2 31h1v1H2zM12 32h1v1H12zM20 44h1v1H20zM2 46h1v1H2z"/><path fill="#fff2a9" d="M32 2h1v1H32zM49 8h1v1H49zM48 11h1v1H48zM35 14h1v1H35zM43 14h1v1H43zM36 17h1v1H36zM50 23h1v1H50zM2 32h1v1H2zM49 32h1v1H49zM14 35h1v1H14zM17 36h1v1H17zM14 43h1v1H14zM11 48h1v1H11zM8 49h1v1H8zM32 49h1v1H32zM23 50h1v1H23z"/><path fill="#fffbb8" d="M34 2h1v1H34zM28 5h1v1H28zM37 14h1v1H37zM50 17h1v1H50zM41 21h1v1H41zM50 25h1v1H50zM5 28h1v1H5zM48 28h1v1H48zM2 34h1v1H2zM14 37h1v1H14zM21 41h1v1H21zM28 48h1v1H28zM17 50h1v1H17zM25 50h1v1H25z"/><path fill="#fdba6b" d="M35 2h1v1H35zM38 3h1v1H38zM26 7h1v1H26zM43 7h1v1H43zM45 7h1v1H45zM52 20h1v1H52zM7 26h1v1H7zM35 28h1v1H35zM2 35h1v1H2zM28 35h1v1H28zM3 38h1v1H3zM44 40h1v1H44zM54 42h1v1H54zM7 43h1v1H7zM40 44h1v1H40zM7 45h1v1H7zM20 52h1v1H20zM42 54h1v1H42z"/><path fill="#f99355" d="M37 2h1v1H37zM2 37h1v1H2z"/><path fill="#feca78" d="M38 2h1v1H38zM52 3h1v1H52zM40 19h1v1H40zM2 38h1v1H2zM19 40h1v1H19zM56 40h1v1H56zM3 52h1v1H3zM40 56h1v1H40z"/><path fill="#fdab60" d="M39 2h1v1H39zM54 8h1v1H54zM57 13h1v1H57zM36 28h1v1H36zM28 36h1v1H28zM2 39h1v1H2zM54 46h1v1H54zM53 50h1v1H53zM50 53h1v1H50zM8 54h1v1H8zM46 54h1v1H46zM13 57h1v1H13z"/><path fill="#f88c51" d="M40 2h1v1H40zM23 11h1v1H23zM57 14h1v1H57zM22 18h1v1H22zM18 22h1v1H18zM11 23h1v1H11zM2 40h1v1H2zM14 57h1v1H14z"/><path fill="#fee695" d="M44 2h1v1H44zM38 9h1v1H38zM36 11h1v1H36zM40 12h1v1H40zM44 19h1v1H44zM36 20h1v1H36zM43 20h1v1H43zM45 25h1v1H45zM44 28h1v1H44zM53 28h1v1H53zM53 30h1v1H53zM51 31h2v1H51zM48 34h1v1H48zM11 36h1v1H11zM20 36h1v1H20zM50 37h1v1H50zM9 38h1v1H9zM12 40h1v1H12zM20 43h1v1H20zM2 44h1v1H2zM19 44h1v1H19zM28 44h1v1H28zM25 45h1v1H25zM34 48h1v1H34zM37 50h1v1H37zM31 51h1v1H31zM31 52h1v1H31zM28 53h1v1H28zM30 53h1v1H30z"/><path fill="#fee391" d="M47 2h1v1H47zM47 11h1v1H47zM42 14h1v1H42zM47 31h1v1H47zM14 42h1v1H14zM2 47h1v1H2zM11 47h1v1H11zM31 47h1v1H31z"/><path fill="#fff3ab" d="M49 2h1v1H49zM31 3h1v1H31zM31 4h1v1H31zM32 6h1v1H32zM46 7h1v1H46zM36 12h1v1H36zM41 17h1v1H41zM37 19h1v1H37zM42 19h1v1H42zM46 24h1v1H46zM3 31h2v1H3zM6 32h1v1H6zM12 36h1v1H12zM19 37h1v1H19zM17 41h1v1H17zM19 42h1v1H19zM7 46h1v1H7zM24 46h1v1H24zM2 49h1v1H2z"/><path fill="#fdc272" d="M51 2h1v1H51zM45 6h1v1H45zM42 8h1v1H42zM56 18h1v1H56zM42 37h1v1H42zM8 42h1v1H8zM37 42h1v1H37zM6 45h1v1H6zM2 51h1v1H2zM18 56h1v1H18z"/><path fill="#fed884" d="M52 2h1v1H52zM41 8h1v1H41zM44 31h1v1H44zM48 36h1v1H48zM50 38h1v1H50zM8 41h1v1H8zM31 44h1v1H31zM36 48h1v1H36zM38 50h1v1H38zM2 52h1v1H2z"/><path fill="#fdbb6c" d="M54 2h1v1H54zM40 3h1v1H40zM52 17h1v1H52zM56 21h1v1H56zM41 27h1v1H41zM3 40h1v1H3zM43 40h1v1H43zM27 41h1v1H27zM40 43h1v1H40zM17 52h1v1H17zM2 54h1v1H2zM21 56h1v1H21z"/><path fill="#fee08b" d="M56 2h1v1H56zM49 7h1v1H49zM36 13h1v1H36zM44 17h1v1H44zM50 30h1v1H50zM49 33h1v1H49zM13 36h1v1H13zM53 37h1v1H53zM17 44h1v1H17zM7 49h1v1H7zM33 49h1v1H33zM30 50h1v1H30zM37 53h1v1H37zM2 56h1v1H2z"/><path fill="#fed27f" d="M57 2h1v1H57zM55 16h1v1H55zM53 21h1v1H53zM56 33h1v1H56zM44 35h1v1H44zM51 36h1v1H51zM35 44h1v1H35zM36 51h1v1H36zM21 53h1v1H21zM16 55h1v1H16zM33 56h1v1H33zM2 57h1v1H2z"/><path fill="#bf264a" d="M4 3h1v1H4zM3 4h1v1H3z"/><path fill="#fa9756" d="M6 3h1v1H6zM18 5h1v1H18zM3 6h1v1H3zM54 13h1v1H54zM5 18h1v1H5zM53 46h1v1H53zM46 53h1v1H46zM13 54h1v1H13z"/><path fill="#fed682" d="M8 3h1v1H8zM3 8h1v1H3zM45 10h1v1H45zM42 25h1v1H42zM25 42h1v1H25zM10 45h1v1H10z"/><path fill="#fdb365" d="M9 3h1v1H9zM44 7h1v1H44zM3 9h1v1H3zM54 16h1v1H54zM7 44h1v1H7zM16 54h1v1H16z"/><path fill="#f99455" d="M10 3h1v1H10zM3 10h1v1H3zM55 18h1v1H55zM39 31h1v1H39zM31 39h1v1H31zM55 44h1v1H55zM18 55h1v1H18zM44 55h1v1H44z"/><path fill="#f57547" d="M14 3h1v1H14zM12 5h2v1H12zM5 12h1v1H5zM5 13h1v1H5zM3 14h1v1H3zM16 15h1v1H16zM15 16h1v1H15z"/><path fill="#ee6345" d="M17 3h1v1H17zM24 10h1v1H24zM22 14h1v1H22zM3 17h1v1H3zM21 18h1v1H21zM18 21h1v1H18zM14 22h1v1H14zM10 24h1v1H10z"/><path fill="#f47045" d="M18 3h1v1H18zM18 8h1v1H18zM3 18h1v1H3zM8 18h1v1H8z"/><path fill="#ed6246" d="M19 3h1v1H19zM9 8h1v1H9zM8 9h1v1H8zM15 14h1v1H15zM23 14h1v1H23zM14 15h1v1H14zM18 15h1v1H18zM15 18h1v1H15zM3 19h1v1H3zM14 23h1v1H14zM37 36h1v1H37zM36 37h1v1H36z"/><path fill="#ef6645" d="M20 3h1v1H20zM24 3h2v1H24zM10 9h1v1H10zM9 10h1v1H9zM21 10h1v1H21zM25 16h1v1H25zM23 18h1v1H23zM3 20h1v1H3zM10 21h1v1H10zM18 23h1v1H18zM3 24h1v1H3zM3 25h1v1H3zM16 25h1v1H16z"/><path fill="#f57245" d="M26 3h1v1H26zM14 5h1v1H14zM25 6h1v1H25zM11 7h1v1H11zM14 10h1v1H14zM22 10h1v1H22zM7 11h1v1H7zM14 11h1v1H14zM5 14h1v1H5zM10 14h2v1H10zM10 22h1v1H10zM6 25h1v1H6zM3 26h1v1H3zM49 44h1v1H49zM44 49h1v1H44z"/><path fill="#fdfebb" d="M27 3h1v1H27zM37 15h1v1H37zM48 16h1v1H48zM3 27h1v1H3zM15 37h1v1H15zM16 48h1v1H16z"/><path fill="#e7f69a" d="M28 3h1v1H28zM3 28h1v1H3z"/><path fill="#fafdb8" d="M32 3h1v1H32zM31 5h1v1H31zM33 9h1v1H33zM32 13h1v1H32zM30 15h1v1H30zM15 30h1v1H15zM5 31h1v1H5zM3 32h1v1H3zM13 32h1v1H13zM9 33h1v1H9z"/><path fill="#fffab7" d="M33 3h1v1H33zM43 4h1v1H43zM46 6h1v1H46zM46 9h1v1H46zM33 10h1v1H33zM43 18h1v1H43zM41 23h1v1H41zM50 24h1v1H50zM56 30h1v1H56zM3 33h1v1H3zM10 33h1v1H10zM23 41h1v1H23zM4 43h1v1H4zM18 43h1v1H18zM6 46h1v1H6zM9 46h1v1H9zM24 50h1v1H24zM30 56h1v1H30z"/><path fill="#fff9b6" d="M34 3h1v1H34zM47 27h1v1H47zM50 33h1v1H50zM3 34h1v1H3zM27 47h1v1H27zM33 50h1v1H33z"/><path fill="#fed784" d="M35 3h1v1H35zM41 20h1v1H41zM3 35h1v1H3zM20 41h1v1H20zM56 42h1v1H56zM42 56h1v1H42z"/><path fill="#fdc474" d="M37 3h1v1H37zM56 22h1v1H56zM55 27h1v1H55zM56 36h1v1H56zM3 37h1v1H3zM54 38h1v1H54zM38 54h1v1H38zM27 55h1v1H27zM22 56h1v1H22zM36 56h1v1H36z"/><path fill="#fcaa5f" d="M39 3h1v1H39zM56 9h1v1H56zM39 27h1v1H39zM3 39h1v1H3zM27 39h1v1H27zM52 49h1v1H52zM49 52h1v1H49zM9 56h1v1H9z"/><path fill="#fff4ad" d="M41 3h1v1H41zM35 9h1v1H35zM38 11h1v1H38zM35 16h1v1H35zM43 16h2v1H43zM45 24h1v1H45zM53 31h1v1H53zM9 35h1v1H9zM16 35h1v1H16zM11 38h1v1H11zM3 41h1v1H3zM16 43h1v1H16zM16 44h1v1H16zM24 45h1v1H24zM31 53h1v1H31z"/><path fill="#fff1a8" d="M42 3h1v1H42zM34 12h1v1H34zM46 14h1v1H46zM42 18h1v1H42zM52 22h1v1H52zM37 23h1v1H37zM42 23h1v1H42zM45 23h1v1H45zM12 34h1v1H12zM51 34h1v1H51zM23 37h1v1H23zM3 42h1v1H3zM18 42h1v1H18zM23 42h1v1H23zM23 45h1v1H23zM14 46h1v1H14zM34 51h1v1H34zM22 52h1v1H22z"/><path fill="#edf8a3" d="M46 3h1v1H46zM28 14h1v1H28zM50 19h1v1H50zM14 28h1v1H14zM3 46h1v1H3zM19 50h1v1H19z"/><path fill="#fff0a5" d="M47 3h1v1H47zM35 11h1v1H35zM35 15h1v1H35zM11 35h1v1H11zM15 35h1v1H15zM3 47h1v1H3z"/><path fill="#feffbe" d="M49 3h1v1H49zM50 12h1v1H50zM45 22h1v1H45zM41 25h1v1H41zM36 26h1v1H36zM26 36h1v1H26zM25 41h1v1H25zM22 45h1v1H22zM3 49h1v1H3zM12 50h1v1H12z"/><path fill="#fcfebb" d="M50 3h1v1H50zM31 11h2v1H31zM33 17h1v1H33zM50 26h1v1H50zM11 31h1v1H11zM11 32h1v1H11zM17 33h1v1H17zM3 50h1v1H3zM26 50h1v1H26z"/><path fill="#fedc88" d="M51 3h1v1H51zM52 7h1v1H52zM40 14h1v1H40zM54 22h1v1H54zM52 24h1v1H52zM14 40h1v1H14zM3 51h1v1H3zM7 52h1v1H7zM24 52h1v1H24zM22 54h1v1H22z"/><path fill="#feca79" d="M56 3h1v1H56zM56 6h1v1H56zM53 40h1v1H53zM40 53h1v1H40zM3 56h1v1H3zM6 56h1v1H6z"/><path fill="#fecb79" d="M57 3h1v1H57zM52 12h1v1H52zM53 17h1v1H53zM54 28h1v1H54zM45 36h1v1H45zM56 39h1v1H56zM36 45h1v1H36zM56 48h1v1H56zM12 52h1v1H12zM17 53h1v1H17zM28 54h1v1H28zM39 56h1v1H39zM48 56h1v1H48zM3 57h1v1H3z"/><path fill="#f88b51" d="M5 4h1v1H5zM26 4h1v1H26zM4 5h1v1H4zM4 26h1v1H4zM38 32h1v1H38zM32 38h1v1H32zM52 44h1v1H52zM54 44h1v1H54zM53 47h1v1H53zM44 52h1v1H44zM47 53h1v1H47zM44 54h1v1H44z"/><path fill="#fdb567" d="M7 4h1v1H7zM4 7h1v1H4zM39 8h1v1H39zM52 9h1v1H52zM53 12h1v1H53zM55 19h1v1H55zM55 20h1v1H55zM49 35h1v1H49zM8 39h1v1H8zM49 43h1v1H49zM35 49h1v1H35zM43 49h1v1H43zM9 52h1v1H9zM12 53h1v1H12zM19 55h2v1H19z"/><path fill="#fdb768" d="M10 4h1v1H10zM4 10h1v1H4zM43 36h1v1H43zM36 43h1v1H36zM56 43h1v1H56zM43 56h1v1H43z"/><path fill="#f67949" d="M12 4h1v1H12zM4 12h1v1H4z"/><path fill="#f7844e" d="M15 4h1v1H15zM23 7h1v1H23zM20 10h1v1H20zM4 15h1v1H4zM10 20h1v1H10zM7 23h1v1H7zM47 46h1v1H47zM46 47h1v1H46zM55 52h1v1H55zM52 55h1v1H52z"/><path fill="#e45449" d="M18 4h1v1H18zM7 6h1v1H7zM6 7h1v1H6zM4 18h1v1H4zM20 19h1v1H20zM19 20h1v1H19zM39 38h1v1H39zM38 39h1v1H38z"/><path fill="#ef6545" d="M23 4h1v1H23zM17 6h1v1H17zM52 8h1v1H52zM11 9h1v1H11zM9 11h1v1H9zM24 12h1v1H24zM6 17h1v1H6zM4 23h1v1H4zM12 24h1v1H12zM49 45h1v1H49zM45 49h1v1H45zM8 52h1v1H8z"/><path fill="#ddf19a" d="M27 4h1v1H27zM33 15h1v1H33zM28 25h1v1H28zM4 27h1v1H4zM25 28h1v1H25zM15 33h1v1H15z"/><path fill="#eaf79e" d="M28 4h1v1H28zM4 28h1v1H4z"/><path fill="#e8f69b" d="M29 4h1v1H29zM29 12h1v1H29zM29 13h1v1H29zM4 29h1v1H4zM12 29h2v1H12z"/><path fill="#fffebd" d="M32 4h1v1H32zM37 4h1v1H37zM33 13h1v1H33zM49 14h1v1H49zM30 18h1v1H30zM50 18h1v1H50zM49 23h1v1H49zM18 30h1v1H18zM50 31h1v1H50zM4 32h1v1H4zM13 33h1v1H13zM4 37h1v1H4zM14 49h1v1H14zM23 49h1v1H23zM18 50h1v1H18zM31 50h1v1H31z"/><path fill="#f7fcb3" d="M33 4h1v1H33zM27 6h1v1H27zM29 14h1v1H29zM31 18h1v1H31zM32 19h1v1H32zM32 21h2v1H32zM44 22h1v1H44zM33 25h1v1H33zM31 26h1v1H31zM6 27h1v1H6zM14 29h1v1H14zM18 31h1v1H18zM26 31h1v1H26zM19 32h1v1H19zM21 32h1v1H21zM4 33h1v1H4zM21 33h1v1H21zM25 33h1v1H25zM22 44h1v1H22z"/><path fill="#f6fcb1" d="M34 4h1v1H34zM30 10h1v1H30zM49 20h1v1H49zM10 30h1v1H10zM4 34h1v1H4zM20 49h1v1H20z"/><path fill="#fedb87" d="M35 4h1v1H35zM39 11h1v1H39zM51 15h1v1H51zM54 15h1v1H54zM38 22h1v1H38zM4 35h1v1H4zM47 35h1v1H47zM41 37h1v1H41zM22 38h1v1H22zM11 39h1v1H11zM37 41h1v1H37zM35 47h1v1H35zM54 48h1v1H54zM15 51h1v1H15zM15 54h1v1H15zM48 54h1v1H48z"/><path fill="#fed07d" d="M36 4h1v1H36zM4 36h1v1H4z"/><path fill="#fee28e" d="M38 4h1v1H38zM44 26h1v1H44zM56 28h1v1H56zM4 38h1v1H4zM26 44h1v1H26zM28 56h1v1H28z"/><path fill="#fdc473" d="M39 4h1v1H39zM57 17h1v1H57zM52 35h1v1H52zM4 39h1v1H4zM35 52h1v1H35zM17 57h1v1H17z"/><path fill="#fbfdb9" d="M41 4h1v1H41zM29 5h1v1H29zM50 10h1v1H50zM33 14h1v1H33zM30 19h1v1H30zM35 21h1v1H35zM5 29h1v1H5zM19 30h1v1H19zM14 33h1v1H14zM21 35h1v1H21zM4 41h1v1H4zM10 50h1v1H10z"/><path fill="#fff6b1" d="M45 4h1v1H45zM43 17h1v1H43zM17 43h1v1H17zM4 45h1v1H4z"/><path fill="#fffebe" d="M46 4h1v1H46zM31 12h1v1H31zM36 16h1v1H36zM43 21h1v1H43zM12 31h1v1H12zM16 36h1v1H16zM21 43h1v1H21zM4 46h1v1H4z"/><path fill="#fdc271" d="M53 4h1v1H53zM4 53h1v1H4z"/><path fill="#fed380" d="M54 4h1v1H54zM40 8h1v1H40zM52 15h1v1H52zM54 19h1v1H54zM38 23h1v1H38zM56 24h1v1H56zM46 36h1v1H46zM23 38h1v1H23zM55 39h1v1H55zM8 40h1v1H8zM53 41h1v1H53zM56 41h1v1H56zM36 46h1v1H36zM15 52h1v1H15zM41 53h1v1H41zM4 54h1v1H4zM19 54h1v1H19zM39 55h1v1H39zM24 56h1v1H24zM41 56h1v1H41z"/><path fill="#fecc7a" d="M55 4h1v1H55zM42 6h1v1H42zM57 22h1v1H57zM52 25h1v1H52zM52 26h1v1H52zM43 34h1v1H43zM57 35h1v1H57zM54 41h1v1H54zM6 42h1v1H6zM34 43h1v1H34zM56 45h1v1H56zM25 52h2v1H25zM41 54h1v1H41zM4 55h1v1H4zM45 56h1v1H45zM22 57h1v1H22zM35 57h1v1H35z"/><path fill="#fee999" d="M56 4h1v1H56zM4 56h1v1H4z"/><path fill="#fdbe6f" d="M57 4h1v1H57zM39 18h1v1H39zM35 29h1v1H35zM29 35h1v1H29zM18 39h1v1H18zM46 42h1v1H46zM42 46h1v1H42zM4 57h1v1H4z"/><path fill="#e55649" d="M9 5h1v1H9zM5 9h1v1H5zM19 9h1v1H19zM21 15h1v1H21zM18 16h1v1H18zM24 17h1v1H24zM16 18h1v1H16zM9 19h1v1H9zM15 21h1v1H15zM17 24h1v1H17zM30 27h1v1H30zM27 30h1v1H27z"/><path fill="#cb334d" d="M10 5h1v1H10zM5 10h1v1H5z"/><path fill="#f67b49" d="M11 5h1v1H11zM13 8h1v1H13zM5 11h1v1H5zM12 11h1v1H12zM11 12h1v1H11zM8 13h1v1H8zM35 33h1v1H35zM33 35h1v1H33z"/><path fill="#f88a50" d="M15 5h1v1H15zM5 15h1v1H5zM31 27h1v1H31zM27 31h1v1H27z"/><path fill="#fdad60" d="M16 5h1v1H16zM5 16h1v1H5zM48 38h1v1H48zM53 45h1v1H53zM57 46h1v1H57zM38 48h1v1H38zM45 53h1v1H45zM46 57h1v1H46z"/><path fill="#fa9c59" d="M19 5h1v1H19zM16 11h1v1H16zM11 16h1v1H11zM5 19h1v1H5zM44 36h1v1H44zM36 44h1v1H36zM50 47h1v1H50zM47 50h1v1H47z"/><path fill="#e65848" d="M20 5h1v1H20zM18 9h1v1H18zM24 9h1v1H24zM17 10h1v1H17zM19 12h1v1H19zM21 13h1v1H21zM23 15h3v1H23zM10 17h1v1H10zM9 18h1v1H9zM12 19h1v1H12zM5 20h1v1H5zM13 21h1v1H13zM15 23h1v1H15zM9 24h1v1H9zM15 24h1v1H15zM15 25h1v1H15z"/><path fill="#f06745" d="M21 5h1v1H21zM26 5h1v1H26zM5 21h1v1H5zM5 26h1v1H5z"/><path fill="#f16944" d="M22 5h1v1H22zM51 8h1v1H51zM19 10h1v1H19zM10 19h1v1H10zM5 22h1v1H5zM50 44h1v1H50zM44 50h1v1H44zM8 51h1v1H8z"/><path fill="#e3534a" d="M24 5h1v1H24zM18 13h1v1H18zM24 14h1v1H24zM13 18h1v1H13zM23 21h1v1H23zM21 23h1v1H21zM5 24h1v1H5zM14 24h1v1H14zM43 41h1v1H43zM41 43h1v1H41z"/><path fill="#f06844" d="M25 5h1v1H25zM23 20h1v1H23zM20 23h1v1H20zM5 25h1v1H5z"/><path fill="#ecf7a1" d="M27 5h1v1H27zM34 15h1v1H34zM34 16h1v1H34zM5 27h1v1H5zM15 34h2v1H15z"/><path fill="#fff9b5" d="M33 5h1v1H33zM36 9h1v1H36zM49 10h1v1H49zM46 11h1v1H46zM41 13h1v1H41zM41 14h1v1H41zM41 16h1v1H41zM35 19h1v1H35zM43 22h1v1H43zM49 25h1v1H49zM50 28h1v1H50zM5 33h1v1H5zM19 35h1v1H19zM9 36h1v1H9zM13 41h2v1H13zM16 41h1v1H16zM22 43h1v1H22zM11 46h1v1H11zM10 49h1v1H10zM25 49h1v1H25zM28 50h1v1H28z"/><path fill="#f9fdb5" d="M34 5h1v1H34zM50 14h1v1H50zM30 24h1v1H30zM24 30h1v1H24zM5 34h1v1H5zM14 50h1v1H14z"/><path fill="#feefa4" d="M37 5h1v1H37zM50 5h1v1H50zM44 18h2v1H44zM44 21h1v1H44zM37 26h1v1H37zM5 37h1v1H5zM26 37h1v1H26zM18 44h1v1H18zM21 44h1v1H21zM18 45h1v1H18zM5 50h1v1H5z"/><path fill="#fee593" d="M38 5h1v1H38zM38 16h1v1H38zM42 17h1v1H42zM49 17h1v1H49zM40 22h1v1H40zM43 26h1v1H43zM56 29h1v1H56zM46 32h1v1H46zM53 32h1v1H53zM5 38h1v1H5zM16 38h1v1H16zM22 40h1v1H22zM51 41h1v1H51zM17 42h1v1H17zM26 43h1v1H26zM32 46h1v1H32zM17 49h1v1H17zM56 49h1v1H56zM41 51h1v1H41zM32 53h1v1H32zM29 56h1v1H29zM49 56h1v1H49z"/><path fill="#fee28f" d="M39 5h1v1H39zM46 18h1v1H46zM42 20h1v1H42zM55 30h1v1H55zM47 32h1v1H47zM45 34h1v1H45zM57 34h1v1H57zM5 39h1v1H5zM20 42h1v1H20zM34 45h1v1H34zM18 46h1v1H18zM32 47h1v1H32zM30 55h1v1H30zM34 57h1v1H34z"/><path fill="#fdc070" d="M40 5h1v1H40zM54 7h1v1H54zM55 15h1v1H55zM41 38h1v1H41zM5 40h1v1H5zM38 41h1v1H38zM47 41h1v1H47zM57 41h1v1H57zM41 47h1v1H41zM55 48h1v1H55zM7 54h1v1H7zM15 55h1v1H15zM48 55h1v1H48zM41 57h1v1H41z"/><path fill="#fdc372" d="M41 5h1v1H41zM5 41h1v1H5zM55 50h1v1H55zM50 55h1v1H50z"/><path fill="#fdb769" d="M42 5h1v1H42zM38 27h1v1H38zM39 34h1v1H39zM27 38h1v1H27zM34 39h1v1H34zM55 40h1v1H55zM55 41h1v1H55zM5 42h1v1H5zM40 55h2v1H40z"/><path fill="#fba15b" d="M43 5h1v1H43zM42 27h1v1H42zM47 37h1v1H47zM27 42h1v1H27zM5 43h1v1H5zM57 45h1v1H57zM37 47h1v1H37zM45 57h1v1H45z"/><path fill="#f98e52" d="M44 5h1v1H44zM40 27h1v1H40zM27 40h1v1H27zM55 43h1v1H55zM5 44h1v1H5zM55 47h1v1H55zM43 55h1v1H43zM47 55h1v1H47z"/><path fill="#f99254" d="M45 5h1v1H45zM12 10h1v1H12zM19 11h1v1H19zM10 12h1v1H10zM11 19h1v1H11zM57 24h1v1H57zM42 38h1v1H42zM47 38h1v1H47zM38 42h1v1H38zM5 45h1v1H5zM38 47h1v1H38zM54 53h1v1H54zM53 54h1v1H53zM24 57h1v1H24z"/><path fill="#fed07e" d="M46 5h1v1H46zM56 26h1v1H56zM54 30h1v1H54zM5 46h1v1H5zM30 54h1v1H30zM26 56h1v1H26z"/><path fill="#fff5ae" d="M49 5h1v1H49zM48 9h1v1H48zM46 10h1v1H46zM42 12h1v1H42zM47 14h1v1H47zM46 15h1v1H46zM42 26h1v1H42zM49 26h1v1H49zM12 42h1v1H12zM26 42h1v1H26zM10 46h1v1H10zM15 46h1v1H15zM14 47h1v1H14zM9 48h1v1H9zM5 49h1v1H5zM26 49h1v1H26z"/><path fill="#f98f53" d="M51 5h1v1H51zM13 10h1v1H13zM53 10h1v1H53zM10 13h1v1H10zM5 51h1v1H5zM54 52h1v1H54zM10 53h1v1H10zM52 54h1v1H52z"/><path fill="#f88d52" d="M54 5h2v1H54zM25 7h1v1H25zM13 9h1v1H13zM9 13h1v1H9zM7 25h1v1H7zM36 30h1v1H36zM40 30h1v1H40zM40 35h1v1H40zM30 36h1v1H30zM30 40h1v1H30zM35 40h1v1H35zM5 54h1v1H5zM5 55h1v1H5z"/><path fill="#f7834d" d="M56 5h1v1H56zM20 7h1v1H20zM14 9h1v1H14zM9 14h1v1H9zM7 20h1v1H7zM33 27h1v1H33zM27 33h1v1H27zM5 56h1v1H5z"/><path fill="#f67f4b" d="M57 5h1v1H57zM9 7h1v1H9zM7 9h1v1H7zM20 9h1v1H20zM13 11h1v1H13zM11 13h1v1H11zM9 20h1v1H9zM38 33h1v1H38zM38 37h1v1H38zM33 38h1v1H33zM37 38h1v1H37zM5 57h1v1H5z"/><path fill="#de4b4c" d="M8 6h1v1H8zM6 8h1v1H6zM24 22h1v1H24zM22 24h1v1H22zM52 51h1v1H52zM51 52h1v1H51z"/><path fill="#df4e4b" d="M10 6h1v1H10zM6 10h1v1H6zM26 19h1v1H26zM19 26h1v1H19z"/><path fill="#fdad61" d="M12 6h1v1H12zM6 12h1v1H6zM57 19h1v1H57zM47 36h1v1H47zM36 47h1v1H36zM19 57h1v1H19z"/><path fill="#fba25b" d="M13 6h1v1H13zM53 7h1v1H53zM43 8h1v1H43zM42 9h1v1H42zM53 9h1v1H53zM6 13h1v1H6zM55 35h1v1H55zM9 42h1v1H9zM8 43h1v1H8zM7 53h1v1H7zM9 53h1v1H9zM35 55h1v1H35z"/><path fill="#f8874f" d="M14 6h1v1H14zM22 6h1v1H22zM16 9h1v1H16zM54 10h1v1H54zM57 11h1v1H57zM6 14h1v1H6zM9 16h1v1H9zM6 22h1v1H6zM45 40h1v1H45zM40 45h1v1H40zM10 54h1v1H10zM11 57h1v1H11z"/><path fill="#fb9e59" d="M16 6h1v1H16zM6 16h1v1H6z"/><path fill="#ec6246" d="M20 6h1v1H20zM16 12h1v1H16zM12 16h1v1H12zM25 18h1v1H25zM6 20h1v1H6zM18 25h1v1H18z"/><path fill="#fba25c" d="M23 6h1v1H23zM55 7h1v1H55zM6 23h1v1H6zM7 55h1v1H7z"/><path fill="#f47145" d="M24 6h1v1H24zM6 24h1v1H6z"/><path fill="#e7f599" d="M28 6h1v1H28zM6 28h1v1H6z"/><path fill="#e6f598" d="M29 6h1v1H29zM31 7h1v1H31zM34 7h1v1H34zM28 11h1v1H28zM29 24h1v1H29zM11 28h1v1H11zM6 29h1v1H6zM24 29h1v1H24zM7 31h1v1H7zM7 34h1v1H7z"/><path fill="#f2faab" d="M33 6h1v1H33zM30 12h1v1H30zM30 16h1v1H30zM31 20h1v1H31zM50 20h1v1H50zM12 30h1v1H12zM16 30h1v1H16zM20 31h1v1H20zM6 33h1v1H6zM20 50h1v1H20z"/><path fill="#f8fcb4" d="M34 6h1v1H34zM36 7h2v1H36zM31 16h1v1H31zM31 19h1v1H31zM16 31h1v1H16zM19 31h1v1H19zM6 34h1v1H6zM7 36h1v1H7zM7 37h1v1H7z"/><path fill="#fee99a" d="M35 6h1v1H35zM40 6h1v1H40zM52 13h1v1H52zM31 17h1v1H31zM44 27h1v1H44zM56 27h1v1H56zM17 31h1v1H17zM6 35h1v1H6zM6 40h1v1H6zM27 44h1v1H27zM13 52h1v1H13zM27 56h1v1H27z"/><path fill="#fff7b1" d="M37 6h1v1H37zM48 7h1v1H48zM47 9h1v1H47zM49 9h1v1H49zM37 12h1v1H37zM31 14h1v1H31zM42 21h1v1H42zM47 24h1v1H47zM14 31h1v1H14zM53 33h1v1H53zM6 37h1v1H6zM12 37h1v1H12zM21 42h1v1H21zM9 47h1v1H9zM24 47h1v1H24zM7 48h1v1H7zM9 49h1v1H9zM33 53h1v1H33z"/><path fill="#feeca0" d="M38 6h1v1H38zM47 8h1v1H47zM46 27h1v1H46zM6 38h1v1H6zM27 46h1v1H27zM8 47h1v1H8z"/><path fill="#fede89" d="M41 6h1v1H41zM39 21h1v1H39zM57 30h1v1H57zM44 32h1v1H44zM56 35h1v1H56zM21 39h1v1H21zM6 41h1v1H6zM45 41h1v1H45zM32 44h1v1H32zM41 45h1v1H41zM35 56h1v1H35zM30 57h1v1H30z"/><path fill="#fca95f" d="M43 6h1v1H43zM45 9h1v1H45zM51 17h1v1H51zM36 31h1v1H36zM38 31h1v1H38zM31 36h1v1H31zM31 38h1v1H31zM6 43h1v1H6zM9 45h1v1H9zM52 45h1v1H52zM17 51h1v1H17zM45 52h1v1H45z"/><path fill="#fba05b" d="M44 6h1v1H44zM54 17h1v1H54zM6 44h1v1H6zM48 46h1v1H48zM46 48h1v1H46zM17 54h1v1H17z"/><path fill="#fedf8a" d="M47 6h1v1H47zM39 12h1v1H39zM51 24h1v1H51zM49 31h1v1H49zM12 39h1v1H12zM49 39h1v1H49zM6 47h1v1H6zM31 49h1v1H31zM39 49h1v1H39zM24 51h1v1H24z"/><path fill="#feeb9e" d="M48 6h1v1H48zM46 8h1v1H46zM42 15h1v1H42zM48 29h1v1H48zM47 34h1v1H47zM15 42h1v1H15zM8 46h1v1H8zM34 47h1v1H34zM6 48h1v1H6zM29 48h1v1H29z"/><path fill="#fffbb7" d="M50 6h1v1H50zM6 50h1v1H6z"/><path fill="#f67b4a" d="M54 6h1v1H54zM15 10h1v1H15zM10 15h1v1H10zM50 48h1v1H50zM48 50h1v1H48zM6 54h1v1H6z"/><path fill="#fca75e" d="M14 7h1v1H14zM57 7h1v1H57zM12 9h1v1H12zM9 12h1v1H9zM7 14h1v1H7zM57 18h1v1H57zM36 29h1v1H36zM29 36h1v1H29zM46 37h1v1H46zM53 39h1v1H53zM50 42h1v1H50zM37 46h1v1H37zM42 50h1v1H42zM39 53h1v1H39zM7 57h1v1H7zM18 57h1v1H18z"/><path fill="#fdaf62" d="M15 7h1v1H15zM7 15h1v1H7zM57 26h1v1H57zM41 30h1v1H41zM41 32h1v1H41zM35 34h2v1H35zM34 35h1v1H34zM34 36h1v1H34zM30 41h1v1H30zM32 41h1v1H32zM53 44h1v1H53zM44 53h1v1H44zM26 57h1v1H26z"/><path fill="#fca45d" d="M16 7h1v1H16zM55 10h1v1H55zM7 16h1v1H7zM35 27h1v1H35zM27 35h1v1H27zM10 55h1v1H10z"/><path fill="#eef8a5" d="M27 7h1v1H27zM32 20h1v1H32zM7 27h1v1H7zM20 32h1v1H20z"/><path fill="#d1ec9c" d="M28 7h1v1H28zM7 28h1v1H7z"/><path fill="#bbe3a1" d="M29 7h1v1H29zM7 29h1v1H7z"/><path fill="#f2faaa" d="M32 7h1v1H32zM34 9h1v1H34zM33 12h1v1H33zM47 16h1v1H47zM32 26h1v1H32zM7 32h1v1H7zM26 32h1v1H26zM12 33h1v1H12zM9 34h1v1H9zM16 47h1v1H16z"/><path fill="#eaf79f" d="M33 7h1v1H33zM27 10h1v1H27zM28 12h1v1H28zM10 27h1v1H10zM12 28h1v1H12zM7 33h1v1H7z"/><path fill="#fff3aa" d="M35 7h1v1H35zM45 11h1v1H45zM45 21h1v1H45zM43 24h1v1H43zM52 33h1v1H52zM7 35h1v1H7zM24 43h1v1H24zM11 45h1v1H11zM21 45h1v1H21zM33 52h1v1H33z"/><path fill="#fdc675" d="M56 7h1v1H56zM55 22h1v1H55zM53 25h1v1H53zM39 29h1v1H39zM42 33h1v1H42zM29 39h1v1H29zM54 39h1v1H54zM51 40h1v1H51zM48 41h1v1H48zM33 42h1v1H33zM48 43h1v1H48zM41 48h1v1H41zM43 48h1v1H43zM54 49h1v1H54zM40 51h1v1H40zM25 53h1v1H25zM39 54h1v1H39zM49 54h1v1H49zM22 55h1v1H22zM7 56h1v1H7z"/><path fill="#f88850" d="M14 8h1v1H14zM8 14h1v1H8z"/><path fill="#e45549" d="M17 8h1v1H17zM20 14h1v1H20zM8 17h1v1H8zM14 20h1v1H14z"/><path fill="#f46c43" d="M21 8h1v1H21zM8 21h1v1H8z"/><path fill="#f36c43" d="M23 8h1v1H23zM21 14h1v1H21zM14 21h1v1H14zM8 23h1v1H8z"/><path fill="#ce364d" d="M25 8h1v1H25zM8 25h1v1H8zM43 42h1v1H43zM42 43h1v1H42z"/><path fill="#e0f299" d="M27 8h1v1H27zM27 12h1v1H27zM8 27h1v1H8zM12 27h1v1H12z"/><path fill="#e9f69c" d="M28 8h1v1H28zM28 22h1v1H28zM8 28h1v1H8zM22 28h1v1H22z"/><path fill="#d5ee9b" d="M29 8h1v1H29zM8 29h1v1H8z"/><path fill="#f8fcb5" d="M30 8h1v1H30zM48 22h1v1H48zM41 24h1v1H41zM8 30h1v1H8zM24 41h1v1H24zM22 48h1v1H22z"/><path fill="#ffffbf" d="M31 8h1v1H31zM32 9h1v1H32zM36 14h1v1H36zM48 17h1v1H48zM46 22h1v1H46zM36 23h1v1H36zM8 31h1v1H8zM9 32h1v1H9zM52 32h1v1H52zM14 36h1v1H14zM23 36h1v1H23zM22 46h1v1H22zM17 48h1v1H17zM32 52h1v1H32z"/><path fill="#fff6b0" d="M32 8h1v1H32zM43 12h1v1H43zM49 21h1v1H49zM32 23h1v1H32zM47 23h1v1H47zM52 28h1v1H52zM8 32h1v1H8zM23 32h1v1H23zM55 33h1v1H55zM12 43h1v1H12zM23 47h1v1H23zM21 49h1v1H21zM28 52h1v1H28zM33 55h1v1H33z"/><path fill="#feffbd" d="M33 8h1v1H33zM41 15h1v1H41zM28 20h1v1H28zM34 25h1v1H34zM20 28h1v1H20zM8 33h1v1H8zM25 34h1v1H25zM15 41h1v1H15z"/><path fill="#e7f59a" d="M34 8h1v1H34zM8 34h1v1H8z"/><path fill="#fed17f" d="M36 8h1v1H36zM8 36h1v1H8zM56 46h1v1H56zM46 56h1v1H46z"/><path fill="#fee898" d="M38 8h1v1H38zM40 18h1v1H40zM51 29h1v1H51zM8 38h1v1H8zM50 39h1v1H50zM18 40h1v1H18zM39 50h1v1H39zM29 51h1v1H29z"/><path fill="#f57848" d="M44 8h1v1H44zM21 9h1v1H21zM9 21h1v1H9zM8 44h1v1H8z"/><path fill="#f57747" d="M55 8h1v1H55zM8 55h1v1H8z"/><path fill="#f67948" d="M22 9h1v1H22zM9 22h1v1H9z"/><path fill="#f16844" d="M25 9h1v1H25zM25 22h1v1H25zM9 25h1v1H9zM22 25h1v1H22z"/><path fill="#d9f09b" d="M27 9h1v1H27zM29 10h1v1H29zM28 16h1v1H28zM9 27h1v1H9zM16 28h1v1H16zM10 29h1v1H10z"/><path fill="#e1f399" d="M28 9h1v1H28zM34 23h1v1H34zM9 28h1v1H9zM23 34h1v1H23z"/><path fill="#e0f399" d="M29 9h1v1H29zM28 13h1v1H28zM28 15h1v1H28zM29 21h1v1H29zM13 28h1v1H13zM15 28h1v1H15zM9 29h1v1H9zM21 29h1v1H21z"/><path fill="#f4fbae" d="M30 9h1v1H30zM30 11h1v1H30zM34 11h1v1H34zM27 21h1v1H27zM48 21h1v1H48zM21 27h1v1H21zM9 30h1v1H9zM11 30h1v1H11zM11 34h1v1H11zM21 48h1v1H21z"/><path fill="#eef8a4" d="M31 9h1v1H31zM28 10h1v1H28zM27 13h1v1H27zM50 22h1v1H50zM29 25h1v1H29zM13 27h1v1H13zM10 28h1v1H10zM25 29h1v1H25zM9 31h1v1H9zM22 50h1v1H22z"/><path fill="#fee491" d="M39 9h1v1H39zM39 20h1v1H39zM53 27h1v1H53zM49 28h1v1H49zM48 30h1v1H48zM41 34h1v1H41zM9 39h1v1H9zM20 39h1v1H20zM34 41h1v1H34zM30 48h1v1H30zM28 49h1v1H28zM27 53h1v1H27z"/><path fill="#feea9b" d="M40 9h1v1H40zM9 40h1v1H9z"/><path fill="#fec978" d="M43 9h1v1H43zM42 10h1v1H42zM57 15h1v1H57zM38 25h1v1H38zM43 30h1v1H43zM42 34h1v1H42zM25 38h1v1H25zM43 38h1v1H43zM10 42h1v1H10zM34 42h1v1H34zM9 43h1v1H9zM30 43h1v1H30zM38 43h1v1H38zM15 57h1v1H15z"/><path fill="#fcfeba" d="M50 9h1v1H50zM31 15h1v1H31zM30 20h1v1H30zM37 21h1v1H37zM41 22h1v1H41zM37 24h1v1H37zM48 26h1v1H48zM50 27h1v1H50zM20 30h1v1H20zM15 31h1v1H15zM21 37h1v1H21zM24 37h1v1H24zM22 41h1v1H22zM26 48h1v1H26zM9 50h1v1H9zM27 50h1v1H27z"/><path fill="#fa9b58" d="M54 9h1v1H54zM38 35h1v1H38zM35 38h1v1H35zM50 46h1v1H50zM51 48h1v1H51zM46 50h1v1H46zM48 51h1v1H48zM9 54h1v1H9z"/><path fill="#d6404f" d="M11 10h1v1H11zM10 11h1v1H10zM17 12h1v1H17zM12 17h1v1H12zM33 30h1v1H33zM30 33h1v1H30z"/><path fill="#e95d47" d="M23 10h1v1H23zM25 20h1v1H25zM10 23h1v1H10zM20 25h1v1H20zM31 29h1v1H31zM29 31h1v1H29z"/><path fill="#e85b47" d="M25 10h1v1H25zM19 13h1v1H19zM13 19h1v1H13zM10 25h1v1H10z"/><path fill="#e2524a" d="M26 10h1v1H26zM10 26h1v1H10zM34 33h1v1H34zM33 34h1v1H33zM46 45h1v1H46zM45 46h1v1H45z"/><path fill="#f0f9a8" d="M32 10h1v1H32zM33 16h1v1H33zM27 22h1v1H27zM27 24h1v1H27zM22 27h1v1H22zM24 27h1v1H24zM10 32h1v1H10zM16 33h1v1H16z"/><path fill="#fbfdb8" d="M35 10h1v1H35zM34 18h1v1H34zM27 25h1v1H27zM32 25h1v1H32zM25 27h1v1H25zM25 32h1v1H25zM18 34h1v1H18zM10 35h1v1H10z"/><path fill="#fff6af" d="M36 10h1v1H36zM36 15h1v1H36zM44 23h1v1H44zM36 24h1v1H36zM10 36h1v1H10zM15 36h1v1H15zM24 36h1v1H24zM23 44h1v1H23z"/><path fill="#fed481" d="M39 10h1v1H39zM51 25h1v1H51zM38 26h1v1H38zM54 32h1v1H54zM26 38h1v1H26zM10 39h1v1H10zM46 41h1v1H46zM49 41h1v1H49zM54 45h1v1H54zM41 46h1v1H41zM41 49h1v1H41zM25 51h1v1H25zM32 54h1v1H32zM45 54h1v1H45z"/><path fill="#fee796" d="M40 10h1v1H40zM48 14h1v1H48zM54 33h1v1H54zM41 35h1v1H41zM10 40h1v1H10zM35 41h1v1H35zM14 48h1v1H14zM33 54h1v1H33z"/><path fill="#fdab5f" d="M43 10h1v1H43zM10 43h1v1H10z"/><path fill="#fffbb9" d="M47 10h1v1H47zM41 12h1v1H41zM12 41h1v1H12zM10 47h1v1H10z"/><path fill="#f7814c" d="M51 10h1v1H51zM10 51h1v1H10z"/><path fill="#f99555" d="M15 11h1v1H15zM11 15h1v1H11z"/><path fill="#eb6046" d="M21 11h1v1H21zM25 12h1v1H25zM11 21h1v1H11zM12 25h1v1H12zM39 35h1v1H39zM35 39h1v1H35zM49 48h1v1H49zM48 49h1v1H48zM53 52h1v1H53zM52 53h1v1H52z"/><path fill="#fa9757" d="M24 11h1v1H24zM11 24h1v1H11z"/><path fill="#f06645" d="M25 11h1v1H25zM20 12h1v1H20zM12 20h1v1H12zM11 25h1v1H11z"/><path fill="#f3faad" d="M27 11h1v1H27zM11 27h1v1H11z"/><path fill="#c8e99e" d="M29 11h1v1H29zM11 29h1v1H11z"/><path fill="#f5fbb0" d="M33 11h1v1H33zM50 15h1v1H50zM50 16h1v1H50zM11 33h1v1H11zM15 50h2v1H15z"/><path fill="#fedc87" d="M40 11h1v1H40zM48 35h1v1H48zM11 40h1v1H11zM35 48h1v1H35z"/><path fill="#fdb86a" d="M42 11h1v1H42zM53 16h1v1H53zM38 18h1v1H38zM18 38h1v1H18zM11 42h1v1H11zM16 53h1v1H16zM56 53h1v1H56zM53 56h1v1H53z"/><path fill="#fee38f" d="M44 11h1v1H44zM57 32h1v1H57zM11 44h1v1H11zM32 57h1v1H32z"/><path fill="#feeda1" d="M50 11h1v1H50zM35 12h1v1H35zM47 12h1v1H47zM48 13h1v1H48zM45 19h1v1H45zM39 22h1v1H39zM38 24h1v1H38zM49 24h1v1H49zM45 27h1v1H45zM53 29h1v1H53zM12 35h1v1H12zM24 38h1v1H24zM22 39h1v1H22zM19 45h1v1H19zM27 45h1v1H27zM12 47h1v1H12zM13 48h1v1H13zM24 49h1v1H24zM11 50h1v1H11zM29 53h1v1H29z"/><path fill="#f7864f" d="M51 11h1v1H51zM50 45h1v1H50zM45 50h1v1H45zM11 51h1v1H11z"/><path fill="#d53e4f" d="M14 12h1v1H14zM12 14h1v1H12zM56 55h1v1H56zM55 56h1v1H55z"/><path fill="#e04f4b" d="M15 12h1v1H15zM19 14h1v1H19zM12 15h1v1H12zM14 19h1v1H14z"/><path fill="#f46f44" d="M26 12h1v1H26zM12 26h1v1H12z"/><path fill="#feefa5" d="M46 12h1v1H46zM33 24h1v1H33zM24 33h1v1H24zM51 37h1v1H51zM12 46h1v1H12zM37 51h1v1H37z"/><path fill="#fff2aa" d="M48 12h1v1H48zM47 20h1v1H47zM46 26h1v1H46zM46 31h1v1H46zM50 32h1v1H50zM26 46h1v1H26zM31 46h1v1H31zM20 47h1v1H20zM12 48h1v1H12zM32 50h1v1H32z"/><path fill="#fdb062" d="M54 12h1v1H54zM40 29h1v1H40zM29 40h1v1H29zM57 43h1v1H57zM12 54h1v1H12zM43 57h1v1H43z"/><path fill="#d0384e" d="M14 13h1v1H14zM13 14h1v1H13z"/><path fill="#e95c47" d="M15 13h1v1H15zM13 15h1v1H13zM21 19h1v1H21zM19 21h1v1H19zM38 36h1v1H38zM36 38h1v1H36z"/><path fill="#d9444d" d="M17 13h1v1H17zM13 17h1v1H13zM29 27h1v1H29zM27 29h1v1H27z"/><path fill="#eff9a6" d="M31 13h1v1H31zM31 25h1v1H31zM13 31h1v1H13zM25 31h1v1H25z"/><path fill="#fffdbb" d="M37 13h1v1H37zM36 19h1v1H36zM37 25h1v1H37zM30 26h1v1H30zM26 30h1v1H26zM50 34h1v1H50zM19 36h1v1H19zM13 37h1v1H13zM25 37h1v1H25zM34 50h1v1H34z"/><path fill="#feeb9d" d="M39 13h1v1H39zM47 17h1v1H47zM41 19h1v1H41zM47 19h1v1H47zM47 28h1v1H47zM13 39h1v1H13zM19 41h1v1H19zM50 41h1v1H50zM17 47h1v1H17zM19 47h1v1H19zM28 47h1v1H28zM41 50h1v1H41z"/><path fill="#fee594" d="M42 13h1v1H42zM51 30h1v1H51zM54 31h1v1H54zM54 34h1v1H54zM13 42h1v1H13zM30 51h1v1H30zM31 54h1v1H31zM34 54h1v1H34z"/><path fill="#fee18c" d="M44 13h1v1H44zM44 15h1v1H44zM55 31h1v1H55zM45 32h1v1H45zM47 33h1v1H47zM13 44h1v1H13zM15 44h1v1H15zM32 45h1v1H32zM33 47h1v1H33zM31 55h1v1H31z"/><path fill="#fffcbb" d="M45 13h1v1H45zM13 45h1v1H13z"/><path fill="#fffcb9" d="M47 13h1v1H47zM30 14h1v1H30zM35 18h1v1H35zM14 30h1v1H14zM18 35h1v1H18zM13 47h1v1H13z"/><path fill="#f1f9a9" d="M49 13h1v1H49zM32 14h1v1H32zM29 19h1v1H29zM35 26h1v1H35zM19 29h1v1H19zM14 32h1v1H14zM26 35h1v1H26zM13 49h1v1H13z"/><path fill="#fffab6" d="M50 13h1v1H50zM37 18h1v1H37zM48 18h1v1H48zM18 37h1v1H18zM18 48h1v1H18zM13 50h1v1H13z"/><path fill="#fecf7c" d="M53 13h1v1H53zM53 15h1v1H53zM13 53h1v1H13zM15 53h1v1H15z"/><path fill="#e75a48" d="M16 14h1v1H16zM14 16h1v1H14zM26 20h1v1H26zM20 26h1v1H20zM34 32h1v1H34zM32 34h1v1H32z"/><path fill="#d1394e" d="M17 14h1v1H17zM14 17h1v1H14zM33 32h1v1H33zM32 33h1v1H32z"/><path fill="#de4c4b" d="M18 14h1v1H18zM19 16h1v1H19zM14 18h1v1H14zM16 19h1v1H16zM45 44h1v1H45zM44 45h1v1H44z"/><path fill="#d7ef9b" d="M27 14h1v1H27zM14 27h1v1H14z"/><path fill="#d7414e" d="M17 15h1v1H17zM15 17h1v1H15z"/><path fill="#e85c47" d="M19 15h1v1H19zM15 19h1v1H15z"/><path fill="#ebf7a0" d="M29 15h1v1H29zM32 15h1v1H32zM31 22h1v1H31zM28 24h1v1H28zM24 28h1v1H24zM15 29h1v1H15zM22 31h1v1H22zM15 32h1v1H15z"/><path fill="#fed783" d="M40 15h1v1H40zM15 40h1v1H15z"/><path fill="#fff5ad" d="M47 15h1v1H47zM15 47h1v1H15z"/><path fill="#cd364d" d="M17 16h1v1H17zM16 17h1v1H16z"/><path fill="#e65749" d="M20 16h1v1H20zM16 20h1v1H16zM25 23h1v1H25zM23 25h1v1H23z"/><path fill="#c1e69f" d="M27 16h1v1H27zM16 27h1v1H16z"/><path fill="#d4ee9c" d="M29 16h1v1H29zM16 29h1v1H16z"/><path fill="#eff9a7" d="M37 16h1v1H37zM33 23h1v1H33zM23 33h1v1H23zM16 37h1v1H16z"/><path fill="#fffebc" d="M46 16h1v1H46zM16 46h1v1H16z"/><path fill="#fed986" d="M51 16h1v1H51zM16 51h1v1H16z"/><path fill="#bd2349" d="M18 17h1v1H18zM17 18h1v1H17z"/><path fill="#d8424e" d="M19 17h1v1H19zM17 19h1v1H17z"/><path fill="#d9444e" d="M20 17h1v1H20zM17 20h1v1H17z"/><path fill="#d23b4e" d="M21 17h1v1H21zM19 18h1v1H19zM18 19h1v1H18zM17 21h1v1H17zM31 30h1v1H31zM30 31h1v1H30z"/><path fill="#e5f598" d="M28 17h1v1H28zM17 28h1v1H17z"/><path fill="#f0f9a7" d="M29 17h1v1H29zM34 26h1v1H34zM17 29h1v1H17zM26 34h1v1H26z"/><path fill="#fefebd" d="M30 17h1v1H30zM17 30h1v1H17z"/><path fill="#feeda2" d="M35 17h1v1H35zM17 35h1v1H17z"/><path fill="#fedb86" d="M40 17h1v1H40zM17 40h1v1H17z"/><path fill="#f06744" d="M24 18h1v1H24zM26 22h1v1H26zM18 24h1v1H18zM22 26h1v1H22z"/><path fill="#eaf69e" d="M28 18h1v1H28zM18 28h1v1H18z"/><path fill="#daf09a" d="M29 18h1v1H29zM18 29h1v1H18z"/><path fill="#feec9e" d="M41 18h1v1H41zM18 41h1v1H18z"/><path fill="#fdfebd" d="M49 18h1v1H49zM18 49h1v1H18z"/><path fill="#fed582" d="M52 18h1v1H52zM56 20h1v1H56zM40 25h1v1H40zM39 26h1v1H39zM50 35h1v1H50zM43 37h1v1H43zM26 39h1v1H26zM25 40h1v1H25zM37 43h1v1H37zM35 50h1v1H35zM18 52h1v1H18zM20 56h1v1H20z"/><path fill="#fedd89" d="M54 18h1v1H54zM46 30h1v1H46zM52 41h1v1H52zM30 46h1v1H30zM41 52h1v1H41zM18 54h1v1H18z"/><path fill="#d8434e" d="M24 19h1v1H24zM19 24h1v1H19z"/><path fill="#da464d" d="M25 19h1v1H25zM19 25h1v1H19z"/><path fill="#feefa3" d="M49 19h1v1H49zM19 49h1v1H19z"/><path fill="#fedf8b" d="M52 19h1v1H52zM19 52h1v1H19z"/><path fill="#fdbf6f" d="M56 19h1v1H56zM51 22h1v1H51zM39 23h1v1H39zM42 35h1v1H42zM53 35h1v1H53zM56 37h1v1H56zM52 38h2v1H52zM23 39h1v1H23zM57 39h1v1H57zM35 42h1v1H35zM51 50h1v1H51zM22 51h1v1H22zM50 51h1v1H50zM38 52h1v1H38zM56 52h1v1H56zM35 53h1v1H35zM38 53h1v1H38zM19 56h1v1H19zM37 56h1v1H37zM52 56h1v1H52zM39 57h1v1H39z"/><path fill="#ebf79f" d="M27 20h1v1H27zM20 27h1v1H20z"/><path fill="#e2f399" d="M29 20h1v1H29zM29 23h1v1H29zM20 29h1v1H20zM23 29h1v1H23z"/><path fill="#e3f499" d="M34 20h1v1H34zM20 34h1v1H20z"/><path fill="#f6fbb1" d="M46 20h1v1H46zM20 46h1v1H20z"/><path fill="#fecd7b" d="M51 20h1v1H51zM56 23h1v1H56zM41 40h1v1H41zM40 41h1v1H40zM20 51h1v1H20zM23 56h1v1H23z"/><path fill="#fdb667" d="M53 20h1v1H53zM53 24h1v1H53zM20 53h1v1H20zM24 53h1v1H24z"/><path fill="#ca324c" d="M25 21h1v1H25zM25 24h1v1H25zM21 25h1v1H21zM24 25h1v1H24z"/><path fill="#d2ed9c" d="M28 21h1v1H28zM21 28h1v1H21z"/><path fill="#f5fbaf" d="M30 21h1v1H30zM34 22h1v1H34zM21 30h1v1H21zM22 34h1v1H22z"/><path fill="#feea9d" d="M47 21h1v1H47zM48 24h1v1H48zM21 47h1v1H21zM24 48h1v1H24z"/><path fill="#fecc7b" d="M51 21h1v1H51zM54 24h1v1H54zM57 28h1v1H57zM21 51h1v1H21zM24 54h1v1H24zM28 57h1v1H28z"/><path fill="#fdb869" d="M57 21h1v1H57zM55 25h1v1H55zM37 28h1v1H37zM28 37h1v1H28zM48 40h1v1H48zM46 43h1v1H46zM43 46h1v1H43zM40 48h1v1H40zM25 55h1v1H25zM21 57h1v1H21z"/><path fill="#dc484c" d="M23 22h1v1H23zM22 23h1v1H22zM42 41h1v1H42zM41 42h1v1H41z"/><path fill="#ecf7a2" d="M29 22h1v1H29zM22 29h1v1H22z"/><path fill="#edf8a2" d="M33 22h1v1H33zM22 33h1v1H22z"/><path fill="#d7424e" d="M24 23h1v1H24zM23 24h1v1H23z"/><path fill="#c7e89e" d="M27 23h1v1H27zM23 27h1v1H23z"/><path fill="#d6ee9b" d="M28 23h1v1H28zM29 26h1v1H29zM23 28h1v1H23zM26 29h1v1H26z"/><path fill="#e5f498" d="M30 23h1v1H30zM23 30h1v1H23z"/><path fill="#fdaf61" d="M53 23h1v1H53zM54 43h1v1H54zM54 47h1v1H54zM23 53h1v1H23zM43 54h1v1H43zM47 54h1v1H47z"/><path fill="#d33c4f" d="M26 24h1v1H26zM24 26h1v1H24z"/><path fill="#ec6046" d="M26 25h1v1H26zM25 26h1v1H25zM46 44h1v1H46zM44 46h1v1H44z"/><path fill="#fca85e" d="M54 25h1v1H54zM53 43h1v1H53zM53 48h1v1H53zM43 53h1v1H43zM48 53h1v1H48zM25 54h1v1H25z"/><path fill="#fec977" d="M56 25h1v1H56zM53 26h1v1H53zM46 40h1v1H46zM40 46h1v1H40zM52 50h1v1H52zM50 52h1v1H50zM26 53h1v1H26zM25 56h1v1H25z"/><path fill="#f4faad" d="M27 26h1v1H27zM26 27h1v1H26z"/><path fill="#a8dca4" d="M28 26h1v1H28zM26 28h1v1H26z"/><path fill="#cf374e" d="M28 27h1v1H28zM27 28h1v1H27z"/><path fill="#f36b44" d="M32 27h1v1H32zM27 32h1v1H27z"/><path fill="#fed885" d="M48 27h1v1H48zM27 48h1v1H27z"/><path fill="#fdc575" d="M54 27h1v1H54zM49 36h1v1H49zM36 49h1v1H36zM27 54h1v1H27z"/><path fill="#fdbe6e" d="M55 28h1v1H55zM28 55h1v1H28z"/><path fill="#fdb366" d="M55 29h1v1H55zM51 39h1v1H51zM39 51h1v1H39zM29 55h1v1H29z"/><path fill="#d9454d" d="M34 30h1v1H34zM30 34h1v1H30z"/><path fill="#fdb264" d="M42 30h1v1H42zM37 34h1v1H37zM45 35h1v1H45zM34 37h1v1H34zM44 37h1v1H44zM30 42h1v1H30zM47 43h1v1H47zM37 44h1v1H37zM35 45h1v1H35zM43 47h1v1H43z"/><path fill="#fede8a" d="M49 30h1v1H49zM56 32h1v1H56zM30 49h1v1H30zM32 56h1v1H32z"/><path fill="#c0274a" d="M32 31h1v1H32zM31 32h1v1H31z"/><path fill="#f7854e" d="M37 32h1v1H37zM32 37h1v1H32z"/><path fill="#fdbf70" d="M36 33h1v1H36zM43 33h1v1H43zM33 36h1v1H33zM33 43h1v1H33zM56 47h1v1H56zM47 56h1v1H47z"/><path fill="#fff5af" d="M53 34h1v1H53zM34 53h1v1H34z"/><path fill="#fdc676" d="M55 34h1v1H55zM34 55h1v1H34z"/><path fill="#f7844d" d="M39 36h1v1H39zM36 39h1v1H36zM56 54h1v1H56zM54 56h1v1H54z"/><path fill="#c9314c" d="M40 38h1v1H40zM38 40h1v1H38z"/><path fill="#c72e4c" d="M40 39h1v1H40zM39 40h1v1H39z"/><path fill="#fdb96b" d="M44 39h1v1H44zM39 44h1v1H39zM55 46h1v1H55zM46 55h1v1H46z"/><path fill="#fdb163" d="M45 39h1v1H45zM39 45h1v1H39z"/><path fill="#fdb164" d="M53 42h1v1H53zM57 42h1v1H57zM42 53h1v1H42zM42 57h1v1H42z"/><path fill="#fca95e" d="M55 42h1v1H55zM42 55h1v1H42z"/><path fill="#f77f4b" d="M57 47h1v1H57zM55 53h1v1H55zM53 55h1v1H53zM47 57h1v1H47z"/><path fill="#fa9c58" d="M51 49h1v1H51zM49 51h1v1H49z"/><path fill="#fdbd6d" d="M54 50h1v1H54zM50 54h1v1H50z"/><path fill="#d53f4f" d="M55 54h1v1H55zM54 55h1v1H54z"/><path fill="#b41947" d="M57 55h1v1H57zM55 57h1v1H55z"/><path fill="#c62d4b" d="M57 56h1v1H57zM56 57h1v1H56z"/></g><rect x="318.00" y="528.00" width="3" height="304.20" fill="#fff"/><g transform="translate(345.600 527.700) scale(5.47069 5.20172)" shape-rendering="crispEdges"><path fill="#9e0142" d="M0 0h1v1H0zM1 1h1v1H1zM2 2h1v1H2zM3 3h1v1H3zM4 4h1v1H4zM5 5h1v1H5zM6 6h1v1H6zM7 7h1v1H7zM8 8h1v1H8zM9 9h1v1H9zM10 10h1v1H10zM11 11h1v1H11zM12 12h1v1H12zM13 13h1v1H13zM14 14h1v1H14zM15 15h1v1H15zM16 16h1v1H16zM17 17h1v1H17zM18 18h1v1H18zM19 19h1v1H19zM20 20h1v1H20zM21 21h1v1H21zM22 22h1v1H22zM23 23h1v1H23zM24 24h1v1H24zM25 25h1v1H25zM26 26h1v1H26zM27 27h1v1H27zM28 28h1v1H28zM29 29h1v1H29zM30 30h1v1H30zM31 31h1v1H31zM32 32h1v1H32zM33 33h1v1H33zM34 34h1v1H34zM35 35h1v1H35zM36 36h1v1H36zM37 37h1v1H37zM38 38h1v1H38zM39 39h1v1H39zM40 40h1v1H40zM41 41h1v1H41zM42 42h1v1H42zM43 43h1v1H43zM44 44h1v1H44zM45 45h1v1H45zM46 46h1v1H46zM47 47h1v1H47zM48 48h1v1H48zM49 49h1v1H49zM50 50h1v1H50zM51 51h1v1H51zM52 52h1v1H52zM53 53h1v1H53zM54 54h1v1H54zM55 55h1v1H55zM56 56h1v1H56zM57 57h1v1H57z"/><path fill="#f99555" d="M1 0h1v1H1zM0 1h1v1H0z"/><path fill="#f7864e" d="M2 0h1v1H2zM0 2h1v1H0z"/><path fill="#e75948" d="M3 0h1v1H3zM0 3h1v1H0z"/><path fill="#f7834d" d="M4 0h1v1H4zM0 4h1v1H0z"/><path fill="#eef8a4" d="M5 0h1v1H5zM0 5h1v1H0zM19 5h1v1H19zM48 5h1v1H48zM43 7h1v1H43zM16 10h1v1H16zM10 16h1v1H10zM5 19h1v1H5zM35 25h1v1H35zM40 34h1v1H40zM25 35h1v1H25zM34 40h1v1H34zM7 43h1v1H7zM54 43h1v1H54zM5 48h1v1H5zM43 54h1v1H43z"/><path fill="#8dd1a4" d="M6 0h1v1H6zM0 6h1v1H0zM40 7h1v1H40zM35 8h1v1H35zM34 15h1v1H34zM53 28h1v1H53zM15 34h1v1H15zM8 35h1v1H8zM7 40h1v1H7zM28 53h1v1H28z"/><path fill="#95d4a4" d="M7 0h1v1H7zM0 7h1v1H0zM44 25h1v1H44zM25 44h1v1H25z"/><path fill="#fede8a" d="M8 0h1v1H8zM41 2h1v1H41zM0 8h1v1H0zM2 41h1v1H2z"/><path fill="#fece7c" d="M9 0h1v1H9zM11 8h1v1H11zM0 9h1v1H0zM8 11h1v1H8zM21 20h1v1H21zM20 21h1v1H20zM29 25h1v1H29zM25 29h1v1H25z"/><path fill="#fee18d" d="M10 0h1v1H10zM11 1h1v1H11zM38 4h1v1H38zM0 10h1v1H0zM1 11h1v1H1zM21 19h1v1H21zM19 21h1v1H19zM57 24h1v1H57zM4 38h1v1H4zM39 38h1v1H39zM38 39h1v1H38zM53 44h1v1H53zM44 53h1v1H44zM24 57h1v1H24z"/><path fill="#fafdb8" d="M11 0h1v1H11zM0 11h1v1H0zM36 25h1v1H36zM37 30h1v1H37zM25 36h1v1H25zM30 37h1v1H30z"/><path fill="#fffdbb" d="M12 0h1v1H12zM47 6h1v1H47zM18 9h1v1H18zM0 12h1v1H0zM9 18h1v1H9zM6 47h1v1H6z"/><path fill="#fee08c" d="M13 0h1v1H13zM0 13h1v1H0z"/><path fill="#feeb9d" d="M14 0h1v1H14zM48 9h1v1H48zM0 14h1v1H0zM57 22h1v1H57zM41 36h1v1H41zM36 41h1v1H36zM9 48h1v1H9zM22 57h1v1H22z"/><path fill="#feeda1" d="M15 0h1v1H15zM0 15h1v1H0z"/><path fill="#fedc88" d="M16 0h1v1H16zM13 1h1v1H13zM11 10h1v1H11zM10 11h1v1H10zM1 13h1v1H1zM0 16h1v1H0zM30 22h1v1H30zM38 28h1v1H38zM41 28h1v1H41zM22 30h1v1H22zM28 38h1v1H28zM28 41h1v1H28zM56 51h1v1H56zM51 56h1v1H51z"/><path fill="#feefa4" d="M17 0h1v1H17zM0 17h1v1H0zM39 27h1v1H39zM40 30h1v1H40zM33 32h1v1H33zM32 33h1v1H32zM27 39h1v1H27zM30 40h1v1H30z"/><path fill="#fdbb6c" d="M18 0h1v1H18zM0 18h1v1H0zM28 25h1v1H28zM30 25h1v1H30zM25 28h1v1H25zM25 30h1v1H25z"/><path fill="#cfec9d" d="M19 0h1v1H19zM33 18h1v1H33zM0 19h1v1H0zM49 30h1v1H49zM18 33h1v1H18zM51 48h1v1H51zM30 49h1v1H30zM48 51h1v1H48z"/><path fill="#e5f598" d="M20 0h1v1H20zM11 7h1v1H11zM7 11h1v1H7zM29 16h1v1H29zM0 20h1v1H0zM16 29h1v1H16zM57 44h1v1H57zM44 57h1v1H44z"/><path fill="#d6ee9b" d="M21 0h1v1H21zM39 20h1v1H39zM0 21h1v1H0zM57 34h1v1H57zM20 39h1v1H20zM56 39h1v1H56zM39 56h1v1H39zM34 57h1v1H34z"/><path fill="#69c3a5" d="M22 0h1v1H22zM23 4h1v1H23zM30 4h1v1H30zM29 11h1v1H29zM56 11h1v1H56zM27 13h1v1H27zM30 13h1v1H30zM0 22h1v1H0zM4 23h1v1H4zM13 27h1v1H13zM11 29h1v1H11zM4 30h1v1H4zM13 30h1v1H13zM11 56h1v1H11z"/><path fill="#62bea7" d="M23 0h1v1H23zM24 14h1v1H24zM0 23h1v1H0zM14 24h1v1H14zM53 34h1v1H53zM34 53h1v1H34z"/><path fill="#3485bc" d="M24 0h1v1H24zM57 21h1v1H57zM0 24h1v1H0zM43 40h1v1H43zM40 43h1v1H40zM21 57h1v1H21z"/><path fill="#63bea6" d="M25 0h1v1H25zM0 25h1v1H0z"/><path fill="#dbf19a" d="M26 0h1v1H26zM7 2h1v1H7zM13 6h1v1H13zM2 7h1v1H2zM40 12h1v1H40zM6 13h1v1H6zM0 26h1v1H0zM40 36h1v1H40zM12 40h1v1H12zM36 40h1v1H36z"/><path fill="#d2ed9c" d="M27 0h1v1H27zM41 8h1v1H41zM46 17h1v1H46zM0 27h1v1H0zM50 27h1v1H50zM55 32h1v1H55zM8 41h1v1H8zM17 46h1v1H17zM27 50h1v1H27zM32 55h1v1H32z"/><path fill="#dbf09a" d="M28 0h1v1H28zM6 3h1v1H6zM3 6h1v1H3zM57 26h1v1H57zM0 28h1v1H0zM26 57h1v1H26z"/><path fill="#e9f69c" d="M29 0h1v1H29zM0 29h1v1H0z"/><path fill="#c0e5a0" d="M30 0h1v1H30zM0 30h1v1H0z"/><path fill="#97d5a4" d="M31 0h1v1H31zM24 3h1v1H24zM34 13h1v1H34zM28 14h1v1H28zM35 14h1v1H35zM3 24h1v1H3zM14 28h1v1H14zM0 31h1v1H0zM13 34h1v1H13zM14 35h1v1H14zM54 35h1v1H54zM54 46h1v1H54zM35 54h1v1H35zM46 54h1v1H46z"/><path fill="#8fd2a4" d="M32 0h1v1H32zM25 2h1v1H25zM34 5h1v1H34zM31 21h1v1H31zM2 25h1v1H2zM21 31h1v1H21zM0 32h1v1H0zM5 34h1v1H5zM50 48h1v1H50zM48 50h1v1H48z"/><path fill="#a8dca4" d="M33 0h1v1H33zM35 6h1v1H35zM20 13h1v1H20zM36 19h1v1H36zM13 20h1v1H13zM0 33h1v1H0zM6 35h1v1H6zM19 36h1v1H19zM55 40h1v1H55zM40 55h1v1H40z"/><path fill="#87cfa5" d="M34 0h1v1H34zM21 3h1v1H21zM19 17h1v1H19zM17 19h1v1H17zM3 21h1v1H3zM33 21h1v1H33zM21 33h1v1H21zM0 34h1v1H0z"/><path fill="#a9dca4" d="M35 0h1v1H35zM32 3h1v1H32zM27 16h1v1H27zM16 27h1v1H16zM3 32h1v1H3zM0 35h1v1H0z"/><path fill="#bfe5a0" d="M36 0h1v1H36zM29 15h1v1H29zM15 29h1v1H15zM0 36h1v1H0zM55 39h1v1H55zM39 55h1v1H39z"/><path fill="#fedb87" d="M37 0h1v1H37zM17 2h1v1H17zM2 17h1v1H2zM0 37h1v1H0zM54 50h1v1H54zM50 54h1v1H50z"/><path fill="#fa9b58" d="M38 0h1v1H38zM0 38h1v1H0z"/><path fill="#fca75e" d="M39 0h1v1H39zM0 39h1v1H0z"/><path fill="#fdba6b" d="M40 0h2v1H40zM6 5h1v1H6zM5 6h1v1H5zM25 23h1v1H25zM23 25h1v1H23zM27 25h1v1H27zM25 27h1v1H25zM0 40h1v1H0zM0 41h1v1H0zM53 49h1v1H53zM49 53h1v1H49z"/><path fill="#50a9af" d="M42 0h1v1H42zM22 2h1v1H22zM57 15h1v1H57zM25 19h1v1H25zM2 22h1v1H2zM19 25h1v1H19zM44 38h1v1H44zM0 42h1v1H0zM38 44h1v1H38zM15 57h1v1H15z"/><path fill="#4371b2" d="M43 0h1v1H43zM42 27h1v1H42zM27 42h1v1H27zM0 43h1v1H0z"/><path fill="#3389bd" d="M44 0h1v1H44zM49 5h1v1H49zM31 6h1v1H31zM28 7h1v1H28zM32 9h1v1H32zM31 10h1v1H31zM7 28h1v1H7zM6 31h1v1H6zM10 31h1v1H10zM9 32h1v1H9zM0 44h1v1H0zM5 49h1v1H5z"/><path fill="#49a2b2" d="M45 0h1v1H45zM29 7h1v1H29zM25 14h1v1H25zM54 16h1v1H54zM14 25h1v1H14zM42 25h1v1H42zM7 29h1v1H7zM51 35h1v1H51zM53 38h1v1H53zM25 42h1v1H25zM0 45h1v1H0zM35 51h1v1H35zM38 53h1v1H38zM16 54h1v1H16z"/><path fill="#4da6b1" d="M46 0h1v1H46zM28 10h1v1H28zM51 18h1v1H51zM48 25h1v1H48zM10 28h1v1H10zM42 32h1v1H42zM47 33h1v1H47zM32 42h1v1H32zM0 46h1v1H0zM33 47h1v1H33zM25 48h1v1H25zM18 51h1v1H18z"/><path fill="#3584bb" d="M47 0h1v1H47zM56 2h1v1H56zM22 8h1v1H22zM30 9h1v1H30zM56 17h1v1H56zM8 22h1v1H8zM9 30h1v1H9zM50 34h1v1H50zM0 47h1v1H0zM34 50h1v1H34zM2 56h1v1H2zM17 56h1v1H17z"/><path fill="#3c93b8" d="M48 0h1v1H48zM49 11h1v1H49zM51 17h1v1H51zM0 48h1v1H0zM11 49h1v1H11zM17 51h1v1H17z"/><path fill="#466eb1" d="M49 0h1v1H49zM23 10h1v1H23zM10 23h1v1H10zM0 49h1v1H0z"/><path fill="#5e4fa2" d="M50 0h1v1H50zM51 3h1v1H51zM55 4h1v1H55zM25 6h1v1H25zM27 6h1v1H27zM25 7h1v1H25zM50 7h1v1H50zM53 10h1v1H53zM53 12h1v1H53zM55 20h1v1H55zM53 21h1v1H53zM55 21h1v1H55zM45 22h1v1H45zM46 23h1v1H46zM48 23h1v1H48zM6 25h2v1H6zM6 27h1v1H6zM45 28h1v1H45zM22 45h1v1H22zM28 45h1v1H28zM23 46h1v1H23zM23 48h1v1H23zM0 50h1v1H0zM7 50h1v1H7zM3 51h1v1H3zM10 53h1v1H10zM12 53h1v1H12zM21 53h1v1H21zM4 55h1v1H4zM20 55h2v1H20z"/><path fill="#378eba" d="M51 0h1v1H51zM53 18h1v1H53zM0 51h1v1H0zM18 53h1v1H18z"/><path fill="#449cb5" d="M52 0h1v1H52zM56 10h1v1H56zM56 16h1v1H56zM48 36h1v1H48zM44 37h1v1H44zM51 37h1v1H51zM47 38h1v1H47zM50 39h2v1H50zM37 44h1v1H37zM38 47h1v1H38zM36 48h1v1H36zM39 50h1v1H39zM37 51h1v1H37zM39 51h1v1H39zM0 52h1v1H0zM10 56h1v1H10zM16 56h1v1H16z"/><path fill="#378ebb" d="M53 0h1v1H53zM46 4h1v1H46zM27 11h1v1H27zM11 27h1v1H11zM42 34h1v1H42zM52 35h1v1H52zM48 38h1v1H48zM34 42h1v1H34zM4 46h1v1H4zM38 48h1v1H38zM35 52h1v1H35zM0 53h1v1H0z"/><path fill="#3f96b7" d="M54 0h1v1H54zM57 2h1v1H57zM51 6h1v1H51zM33 7h1v1H33zM7 33h1v1H7zM6 51h1v1H6zM0 54h1v1H0zM2 57h1v1H2z"/><path fill="#496aaf" d="M55 0h1v1H55zM55 1h1v1H55zM22 21h1v1H22zM21 22h1v1H21zM47 31h1v1H47zM31 47h1v1H31zM0 55h2v1H0z"/><path fill="#61bda7" d="M56 0h1v1H56zM49 40h1v1H49zM40 49h1v1H40zM0 56h1v1H0z"/><path fill="#49a1b2" d="M57 0h1v1H57zM44 23h1v1H44zM23 44h1v1H23zM0 57h1v1H0z"/><path fill="#f7824c" d="M2 1h1v1H2zM1 2h1v1H1z"/><path fill="#ef6645" d="M3 1h1v1H3zM1 3h1v1H1zM53 52h1v1H53zM52 53h1v1H52z"/><path fill="#fa9a58" d="M4 1h1v1H4zM1 4h1v1H1z"/><path fill="#acdea4" d="M5 1h1v1H5zM1 5h1v1H1zM53 27h1v1H53zM51 29h1v1H51zM50 32h1v1H50zM32 50h1v1H32zM29 51h1v1H29zM27 53h1v1H27z"/><path fill="#bde4a0" d="M6 1h1v1H6zM1 6h1v1H1zM42 15h1v1H42zM15 42h1v1H15z"/><path fill="#85cea5" d="M7 1h1v1H7zM1 7h1v1H1zM39 8h1v1H39zM8 39h1v1H8zM56 41h1v1H56zM41 56h1v1H41z"/><path fill="#fed17e" d="M8 1h1v1H8zM1 8h1v1H1zM41 22h1v1H41zM40 39h1v1H40zM39 40h1v1H39zM22 41h1v1H22z"/><path fill="#fee28f" d="M9 1h1v1H9zM1 9h1v1H1zM49 44h1v1H49zM51 44h1v1H51zM44 49h1v1H44zM44 51h1v1H44zM55 53h1v1H55zM53 55h1v1H53z"/><path fill="#fee390" d="M10 1h1v1H10zM16 1h1v1H16zM37 1h1v1H37zM9 4h1v1H9zM4 9h1v1H4zM1 10h1v1H1zM1 16h1v1H1zM41 27h1v1H41zM38 32h1v1H38zM1 37h1v1H1zM32 38h1v1H32zM27 41h1v1H27z"/><path fill="#fffcba" d="M12 1h1v1H12zM10 5h1v1H10zM5 10h1v1H5zM46 10h1v1H46zM1 12h1v1H1zM56 30h1v1H56zM38 36h1v1H38zM36 38h1v1H36zM10 46h1v1H10zM30 56h1v1H30z"/><path fill="#fff0a6" d="M14 1h1v1H14zM45 5h1v1H45zM47 5h1v1H47zM13 12h1v1H13zM12 13h1v1H12zM1 14h1v1H1zM5 45h1v1H5zM5 47h1v1H5z"/><path fill="#feea9c" d="M15 1h1v1H15zM13 11h1v1H13zM11 13h1v1H11zM1 15h1v1H1zM35 28h1v1H35zM28 35h1v1H28z"/><path fill="#fff5ae" d="M17 1h1v1H17zM16 2h1v1H16zM14 4h1v1H14zM42 8h1v1H42zM4 14h1v1H4zM2 16h1v1H2zM1 17h1v1H1zM39 30h1v1H39zM30 39h1v1H30zM8 42h1v1H8z"/><path fill="#feec9f" d="M18 1h1v1H18zM37 3h1v1H37zM1 18h1v1H1zM31 25h1v1H31zM25 31h1v1H25zM3 37h1v1H3zM54 53h1v1H54zM53 54h1v1H53zM55 54h1v1H55zM54 55h1v1H54z"/><path fill="#bee5a0" d="M19 1h1v1H19zM7 4h1v1H7zM4 7h1v1H4zM19 10h1v1H19zM41 10h1v1H41zM36 16h1v1H36zM28 18h1v1H28zM1 19h1v1H1zM10 19h1v1H10zM46 19h1v1H46zM39 21h1v1H39zM50 22h1v1H50zM53 25h1v1H53zM18 28h1v1H18zM16 36h1v1H16zM57 36h1v1H57zM21 39h1v1H21zM10 41h1v1H10zM19 46h1v1H19zM22 50h1v1H22zM25 53h1v1H25zM36 57h1v1H36z"/><path fill="#aedea3" d="M20 1h1v1H20zM21 7h1v1H21zM20 14h1v1H20zM28 16h1v1H28zM1 20h1v1H1zM14 20h1v1H14zM45 20h1v1H45zM7 21h1v1H7zM48 21h1v1H48zM16 28h1v1H16zM49 28h1v1H49zM20 45h1v1H20zM52 46h1v1H52zM21 48h1v1H21zM28 49h1v1H28zM46 52h1v1H46z"/><path fill="#b4e1a2" d="M21 1h1v1H21zM20 7h1v1H20zM33 17h2v1H33zM7 20h1v1H7zM1 21h1v1H1zM51 25h1v1H51zM17 33h1v1H17zM17 34h1v1H17zM55 41h1v1H55zM25 51h1v1H25zM41 55h1v1H41z"/><path fill="#4da7b0" d="M22 1h1v1H22zM56 4h1v1H56zM54 13h1v1H54zM1 22h1v1H1zM52 34h1v1H52zM34 52h1v1H34zM13 54h1v1H13zM4 56h1v1H4z"/><path fill="#3a91b9" d="M23 1h1v1H23zM50 8h1v1H50zM56 9h1v1H56zM52 11h1v1H52zM54 15h1v1H54zM50 18h1v1H50zM1 23h1v1H1zM8 50h1v1H8zM18 50h1v1H18zM11 52h1v1H11zM15 54h1v1H15zM9 56h1v1H9z"/><path fill="#4aa3b2" d="M24 1h1v1H24zM26 5h1v1H26zM50 5h1v1H50zM50 6h1v1H50zM32 7h1v1H32zM36 7h1v1H36zM22 12h1v1H22zM31 12h1v1H31zM12 22h1v1H12zM1 24h1v1H1zM47 24h1v1H47zM5 26h1v1H5zM12 31h1v1H12zM7 32h1v1H7zM49 34h1v1H49zM7 36h1v1H7zM50 36h1v1H50zM24 47h1v1H24zM34 49h1v1H34zM5 50h2v1H5zM36 50h1v1H36z"/><path fill="#388fba" d="M25 1h1v1H25zM1 25h1v1H1zM42 31h1v1H42zM42 33h1v1H42zM47 36h1v1H47zM31 42h1v1H31zM33 42h1v1H33zM36 47h1v1H36z"/><path fill="#ecf7a1" d="M26 1h1v1H26zM7 3h1v1H7zM3 7h1v1H3zM39 12h1v1H39zM42 14h1v1H42zM43 15h1v1H43zM38 18h1v1H38zM1 26h1v1H1zM54 27h1v1H54zM18 38h1v1H18zM12 39h1v1H12zM14 42h1v1H14zM15 43h1v1H15zM56 44h1v1H56zM27 54h1v1H27zM44 56h1v1H44z"/><path fill="#e7f69a" d="M27 1h1v1H27zM1 27h1v1H1zM33 27h1v1H33zM56 31h1v1H56zM27 33h1v1H27zM31 56h1v1H31z"/><path fill="#cbea9e" d="M28 1h1v1H28zM35 16h1v1H35zM37 21h1v1H37zM55 27h1v1H55zM1 28h1v1H1zM16 35h1v1H16zM21 37h1v1H21zM27 55h1v1H27z"/><path fill="#dcf19a" d="M29 1h1v1H29zM28 3h1v1H28zM3 28h1v1H3zM1 29h1v1H1zM56 38h1v1H56zM57 48h1v1H57zM38 56h1v1H38zM48 57h1v1H48z"/><path fill="#74c7a5" d="M30 1h1v1H30zM1 30h1v1H1z"/><path fill="#6ec5a5" d="M31 1h1v1H31zM32 2h1v1H32zM57 14h1v1H57zM24 18h1v1H24zM18 24h1v1H18zM1 31h1v1H1zM2 32h1v1H2zM14 57h1v1H14z"/><path fill="#70c6a5" d="M32 1h1v1H32zM32 13h1v1H32zM30 14h1v1H30zM23 17h1v1H23zM17 23h1v1H17zM14 30h1v1H14zM1 32h1v1H1zM13 32h1v1H13zM52 47h1v1H52zM47 52h1v1H47z"/><path fill="#4ba4b2" d="M33 1h1v1H33zM36 6h1v1H36zM52 12h1v1H52zM47 23h1v1H47zM1 33h1v1H1zM52 33h1v1H52zM6 36h1v1H6zM46 38h1v1H46zM38 46h1v1H38zM23 47h1v1H23zM12 52h1v1H12zM33 52h1v1H33z"/><path fill="#c1e69f" d="M34 1h1v1H34zM21 8h1v1H21zM20 12h1v1H20zM34 18h1v1H34zM44 18h1v1H44zM12 20h1v1H12zM8 21h1v1H8zM1 34h1v1H1zM18 34h1v1H18zM18 44h1v1H18z"/><path fill="#67c2a5" d="M35 1h1v1H35zM25 13h1v1H25zM13 25h1v1H13zM1 35h1v1H1z"/><path fill="#9cd7a4" d="M36 1h1v1H36zM37 8h1v1H37zM19 14h1v1H19zM14 19h1v1H14zM1 36h1v1H1zM8 37h1v1H8zM54 37h1v1H54zM37 54h1v1H37z"/><path fill="#fdbd6e" d="M38 1h1v1H38zM1 38h1v1H1z"/><path fill="#fdc574" d="M39 1h1v1H39zM38 27h1v1H38zM27 38h1v1H27zM1 39h1v1H1zM56 53h1v1H56zM53 56h1v1H53z"/><path fill="#fb9e5a" d="M40 1h1v1H40zM27 26h1v1H27zM26 27h1v1H26zM28 27h1v1H28zM27 28h1v1H27zM1 40h1v1H1z"/><path fill="#f99154" d="M41 1h1v1H41zM1 41h1v1H1z"/><path fill="#3c7bb7" d="M42 1h1v1H42zM48 1h1v1H48zM32 8h1v1H32zM25 9h1v1H25zM30 10h1v1H30zM57 11h1v1H57zM51 12h1v1H51zM57 18h1v1H57zM57 19h1v1H57zM51 21h1v1H51zM9 25h1v1H9zM10 30h1v1H10zM44 30h1v1H44zM8 32h1v1H8zM1 42h1v1H1zM30 44h1v1H30zM1 48h1v1H1zM12 51h1v1H12zM21 51h1v1H21zM11 57h1v1H11zM18 57h2v1H18z"/><path fill="#3e96b7" d="M43 1h1v1H43zM47 2h1v1H47zM24 19h1v1H24zM19 24h1v1H19zM1 43h1v1H1zM2 47h1v1H2z"/><path fill="#4175b4" d="M44 1h1v1H44zM26 8h1v1H26zM50 13h1v1H50zM32 16h1v1H32zM8 26h1v1H8zM16 32h1v1H16zM1 44h1v1H1zM13 50h1v1H13z"/><path fill="#515faa" d="M45 1h1v1H45zM1 45h1v1H1z"/><path fill="#3c94b8" d="M46 1h1v1H46zM1 46h1v1H1z"/><path fill="#60bba8" d="M47 1h1v1H47zM28 8h1v1H28zM25 15h1v1H25zM15 25h1v1H15zM8 28h1v1H8zM1 47h1v1H1z"/><path fill="#555aa7" d="M49 1h1v1H49zM1 49h1v1H1z"/><path fill="#476cb0" d="M50 1h1v1H50zM29 21h1v1H29zM21 29h1v1H21zM1 50h1v1H1z"/><path fill="#4570b1" d="M51 1h1v1H51zM52 20h1v1H52zM1 51h1v1H1zM20 52h1v1H20z"/><path fill="#5857a6" d="M52 1h1v1H52zM1 52h1v1H1z"/><path fill="#397eb8" d="M53 1h1v1H53zM23 6h1v1H23zM6 23h1v1H6zM1 53h1v1H1z"/><path fill="#4273b3" d="M54 1h1v1H54zM1 54h1v1H1z"/><path fill="#48a0b3" d="M56 1h1v1H56zM22 18h1v1H22zM30 21h1v1H30zM18 22h1v1H18zM21 30h1v1H21zM1 56h1v1H1z"/><path fill="#5fbba8" d="M57 1h1v1H57zM54 10h1v1H54zM10 54h1v1H10zM1 57h1v1H1z"/><path fill="#fb9d59" d="M3 2h1v1H3zM2 3h1v1H2z"/><path fill="#fdaf62" d="M4 2h1v1H4zM2 4h1v1H2zM28 24h1v1H28zM24 28h1v1H24z"/><path fill="#d0ec9c" d="M5 2h1v1H5zM21 2h1v1H21zM2 5h1v1H2zM10 7h1v1H10zM7 10h1v1H7zM38 12h1v1H38zM38 13h1v1H38zM26 15h1v1H26zM20 17h1v1H20zM17 20h1v1H17zM2 21h1v1H2zM15 26h1v1H15zM12 38h2v1H12zM49 47h1v1H49zM47 49h1v1H47z"/><path fill="#d5ee9b" d="M6 2h1v1H6zM2 6h1v1H2zM47 12h1v1H47zM43 13h1v1H43zM43 17h1v1H43zM13 43h1v1H13zM17 43h1v1H17zM12 47h1v1H12z"/><path fill="#fca45d" d="M8 2h1v1H8zM2 8h1v1H2z"/><path fill="#fee391" d="M9 2h1v1H9zM38 2h1v1H38zM2 9h1v1H2zM2 38h1v1H2zM47 42h1v1H47zM42 47h1v1H42z"/><path fill="#fdc675" d="M10 2h1v1H10zM10 3h1v1H10zM12 8h1v1H12zM2 10h2v1H2zM8 12h1v1H8zM55 49h1v1H55zM49 55h1v1H49z"/><path fill="#fffcb9" d="M11 2h1v1H11zM2 11h1v1H2zM41 24h1v1H41zM24 41h1v1H24z"/><path fill="#feeda0" d="M12 2h1v1H12zM2 12h1v1H2zM38 22h1v1H38zM22 38h1v1H22z"/><path fill="#fff3aa" d="M13 2h1v1H13zM2 13h1v1H2zM34 31h1v1H34zM31 34h1v1H31zM54 51h1v1H54zM51 54h1v1H51z"/><path fill="#feda86" d="M14 2h1v1H14zM15 4h1v1H15zM2 14h1v1H2zM4 15h1v1H4zM54 24h1v1H54zM24 54h1v1H24z"/><path fill="#fcfeba" d="M15 2h1v1H15zM12 5h1v1H12zM16 6h1v1H16zM43 8h1v1H43zM46 8h1v1H46zM45 10h1v1H45zM5 12h1v1H5zM2 15h1v1H2zM6 16h1v1H6zM40 24h1v1H40zM56 29h1v1H56zM24 40h1v1H24zM57 42h1v1H57zM8 43h1v1H8zM10 45h1v1H10zM8 46h1v1H8zM29 56h1v1H29zM42 57h1v1H42z"/><path fill="#fff2a9" d="M18 2h1v1H18zM12 4h1v1H12zM4 12h1v1H4zM2 18h1v1H2zM40 33h1v1H40zM33 40h1v1H33zM56 49h1v1H56zM49 56h1v1H49z"/><path fill="#9bd7a4" d="M19 2h1v1H19zM21 10h1v1H21zM39 10h1v1H39zM36 11h1v1H36zM34 12h1v1H34zM33 13h1v1H33zM2 19h1v1H2zM10 21h1v1H10zM13 33h1v1H13zM12 34h1v1H12zM11 36h1v1H11zM10 39h1v1H10z"/><path fill="#c7e89e" d="M20 2h1v1H20zM20 3h1v1H20zM2 20h2v1H2z"/><path fill="#8ed1a4" d="M23 2h1v1H23zM2 23h1v1H2z"/><path fill="#368dbb" d="M24 2h1v1H24zM27 10h1v1H27zM49 10h1v1H49zM2 24h1v1H2zM10 27h1v1H10zM10 49h1v1H10z"/><path fill="#cfeb9d" d="M26 2h1v1H26zM2 26h1v1H2z"/><path fill="#ebf7a0" d="M27 2h1v1H27zM38 16h1v1H38zM44 16h1v1H44zM37 24h1v1H37zM50 25h1v1H50zM2 27h1v1H2zM24 37h1v1H24zM16 38h1v1H16zM16 44h1v1H16zM25 50h1v1H25z"/><path fill="#f1f9a9" d="M28 2h1v1H28zM45 11h1v1H45zM48 13h1v1H48zM2 28h1v1H2zM34 32h1v1H34zM32 34h1v1H32zM55 42h1v1H55zM11 45h1v1H11zM13 48h1v1H13zM42 55h1v1H42z"/><path fill="#eff9a7" d="M29 2h1v1H29zM34 16h1v1H34zM2 29h1v1H2zM16 34h1v1H16z"/><path fill="#7acaa5" d="M30 2h1v1H30zM34 7h1v1H34zM34 11h1v1H34zM2 30h1v1H2zM7 34h1v1H7zM11 34h1v1H11z"/><path fill="#6ac4a5" d="M31 2h1v1H31zM25 4h1v1H25zM4 25h1v1H4zM2 31h1v1H2zM57 45h1v1H57zM45 57h1v1H45z"/><path fill="#92d3a4" d="M33 2h1v1H33zM35 4h1v1H35zM33 9h1v1H33zM40 9h1v1H40zM51 31h1v1H51zM2 33h1v1H2zM9 33h1v1H9zM4 35h1v1H4zM9 40h1v1H9zM31 51h1v1H31z"/><path fill="#cceb9d" d="M34 2h1v1H34zM2 34h1v1H2z"/><path fill="#d1ed9c" d="M35 2h1v1H35zM2 35h1v1H2z"/><path fill="#dff299" d="M36 2h1v1H36zM53 22h1v1H53zM2 36h1v1H2zM54 41h1v1H54zM22 53h1v1H22zM41 54h1v1H41z"/><path fill="#fefebd" d="M37 2h1v1H37zM9 6h1v1H9zM6 9h1v1H6zM2 37h1v1H2z"/><path fill="#fff9b4" d="M39 2h1v1H39zM43 10h1v1H43zM2 39h1v1H2zM10 43h1v1H10z"/><path fill="#fdc575" d="M40 2h1v1H40zM7 5h1v1H7zM5 7h1v1H5zM2 40h1v1H2z"/><path fill="#3d79b6" d="M42 2h1v1H42zM28 9h1v1H28zM54 18h1v1H54zM9 28h1v1H9zM44 33h1v1H44zM2 42h1v1H2zM33 44h1v1H33zM18 54h1v1H18z"/><path fill="#88cfa5" d="M43 2h1v1H43zM33 4h1v1H33zM34 10h1v1H34zM21 14h1v1H21zM32 14h1v1H32zM22 15h1v1H22zM14 21h1v1H14zM15 22h1v1H15zM14 32h1v1H14zM4 33h1v1H4zM10 34h1v1H10zM2 43h1v1H2z"/><path fill="#5ab5aa" d="M44 2h1v1H44zM57 7h1v1H57zM51 15h1v1H51zM42 29h1v1H42zM29 42h1v1H29zM2 44h1v1H2zM15 51h1v1H15zM7 57h1v1H7z"/><path fill="#3781ba" d="M45 2h1v1H45zM2 45h1v1H2z"/><path fill="#4098b6" d="M46 2h1v1H46zM57 10h1v1H57zM2 46h1v1H2zM10 57h1v1H10z"/><path fill="#348bbc" d="M48 2h1v1H48zM57 6h1v1H57zM24 9h1v1H24zM27 19h1v1H27zM9 24h1v1H9zM19 27h1v1H19zM2 48h1v1H2zM6 57h1v1H6z"/><path fill="#4b68ae" d="M49 2h1v1H49zM32 6h1v1H32zM23 20h1v1H23zM20 23h1v1H20zM44 28h1v1H44zM6 32h1v1H6zM28 44h1v1H28zM2 49h1v1H2z"/><path fill="#3585bb" d="M50 2h1v1H50zM25 10h1v1H25zM10 25h1v1H10zM2 50h1v1H2z"/><path fill="#4a69ae" d="M51 2h1v1H51zM52 9h1v1H52zM2 51h1v1H2zM9 52h1v1H9z"/><path fill="#3e95b7" d="M52 2h1v1H52zM47 27h1v1H47zM27 47h1v1H27zM2 52h1v1H2z"/><path fill="#3e78b6" d="M53 2h1v1H53zM55 12h1v1H55zM54 17h1v1H54zM2 53h1v1H2zM17 54h1v1H17zM12 55h1v1H12z"/><path fill="#52acae" d="M54 2h1v1H54zM22 13h1v1H22zM13 22h1v1H13zM43 39h1v1H43zM39 43h1v1H39zM2 54h1v1H2z"/><path fill="#3a7db8" d="M55 2h1v1H55zM51 11h1v1H51zM11 51h1v1H11zM2 55h1v1H2z"/><path fill="#eb5f47" d="M4 3h1v1H4zM3 4h1v1H3z"/><path fill="#ccea9d" d="M5 3h1v1H5zM19 3h1v1H19zM3 5h1v1H3zM19 6h1v1H19zM3 19h1v1H3zM6 19h1v1H6z"/><path fill="#fdc776" d="M8 3h1v1H8zM3 8h1v1H3z"/><path fill="#fec877" d="M9 3h1v1H9zM10 4h1v1H10zM3 9h1v1H3zM4 10h1v1H4zM31 22h1v1H31zM27 23h1v1H27zM27 24h1v1H27zM23 27h2v1H23zM22 31h1v1H22zM45 42h1v1H45zM48 44h1v1H48zM42 45h1v1H42zM44 48h1v1H44zM57 55h1v1H57zM55 57h1v1H55z"/><path fill="#fffdbc" d="M11 3h1v1H11zM8 7h1v1H8zM7 8h1v1H7zM3 11h1v1H3zM55 22h1v1H55zM36 24h1v1H36zM24 36h1v1H24zM22 55h1v1H22z"/><path fill="#ebf79f" d="M12 3h1v1H12zM27 4h1v1H27zM3 12h1v1H3zM45 12h1v1H45zM16 14h1v1H16zM14 16h1v1H14zM4 27h1v1H4zM12 45h1v1H12z"/><path fill="#fff6b1" d="M13 3h1v1H13zM3 13h1v1H3z"/><path fill="#f8fcb4" d="M14 3h1v1H14zM45 6h1v1H45zM15 9h1v1H15zM3 14h1v1H3zM9 15h1v1H9zM37 35h1v1H37zM35 37h1v1H35zM6 45h1v1H6z"/><path fill="#fee695" d="M15 3h1v1H15zM14 8h1v1H14zM8 14h1v1H8zM3 15h1v1H3zM56 23h1v1H56zM41 39h1v1H41zM39 41h1v1H39zM23 56h1v1H23z"/><path fill="#fdc171" d="M16 3h1v1H16zM13 9h1v1H13zM9 13h1v1H9zM3 16h1v1H3zM39 26h1v1H39zM41 26h1v1H41zM39 37h1v1H39zM26 39h1v1H26zM37 39h1v1H37zM26 41h1v1H26zM56 50h1v1H56zM50 56h1v1H50z"/><path fill="#fffcbb" d="M17 3h1v1H17zM3 17h1v1H3z"/><path fill="#fee696" d="M18 3h1v1H18zM3 18h1v1H3zM57 52h1v1H57zM52 57h1v1H52z"/><path fill="#54aead" d="M22 3h1v1H22zM31 14h1v1H31zM50 16h1v1H50zM53 20h1v1H53zM57 20h1v1H57zM3 22h1v1H3zM52 28h1v1H52zM14 31h1v1H14zM42 39h1v1H42zM39 42h1v1H39zM16 50h1v1H16zM28 52h1v1H28zM20 53h1v1H20zM20 57h1v1H20z"/><path fill="#54adae" d="M23 3h1v1H23zM29 13h1v1H29zM31 17h1v1H31zM3 23h1v1H3zM13 29h1v1H13zM17 31h1v1H17zM49 36h1v1H49zM36 49h1v1H36z"/><path fill="#3682ba" d="M25 3h1v1H25zM53 4h1v1H53zM31 15h1v1H31zM3 25h1v1H3zM15 31h1v1H15zM43 37h1v1H43zM53 39h1v1H53zM37 43h1v1H37zM4 53h1v1H4zM39 53h1v1H39z"/><path fill="#e3f499" d="M26 3h1v1H26zM19 18h1v1H19zM18 19h1v1H18zM35 23h1v1H35zM3 26h1v1H3zM23 35h1v1H23z"/><path fill="#d8ef9b" d="M27 3h1v1H27zM44 11h1v1H44zM44 14h1v1H44zM35 17h2v1H35zM3 27h1v1H3zM17 35h1v1H17zM17 36h1v1H17zM11 44h1v1H11zM14 44h1v1H14z"/><path fill="#d9f09b" d="M29 3h1v1H29zM48 6h1v1H48zM36 18h1v1H36zM33 26h1v1H33zM3 29h1v1H3zM26 33h1v1H26zM18 36h1v1H18zM6 48h1v1H6zM49 48h1v1H49zM48 49h1v1H48z"/><path fill="#84cea5" d="M30 3h1v1H30zM35 10h1v1H35zM40 10h1v1H40zM32 19h1v1H32zM3 30h1v1H3zM19 32h1v1H19zM10 35h1v1H10zM53 36h1v1H53zM55 36h1v1H55zM10 40h1v1H10zM36 53h1v1H36zM36 55h1v1H36z"/><path fill="#5eb9a9" d="M31 3h1v1H31zM50 28h1v1H50zM46 30h1v1H46zM3 31h1v1H3zM30 46h1v1H30zM28 50h1v1H28z"/><path fill="#c8e99e" d="M33 3h1v1H33zM19 4h1v1H19zM12 7h1v1H12zM37 11h1v1H37zM7 12h1v1H7zM37 13h1v1H37zM53 16h1v1H53zM4 19h1v1H4zM37 23h1v1H37zM50 24h1v1H50zM51 32h1v1H51zM56 32h1v1H56zM3 33h1v1H3zM11 37h1v1H11zM13 37h1v1H13zM23 37h1v1H23zM57 40h1v1H57zM24 50h1v1H24zM32 51h1v1H32zM16 53h1v1H16zM32 56h1v1H32zM40 57h1v1H40z"/><path fill="#a3daa4" d="M34 3h1v1H34zM19 13h1v1H19zM13 19h1v1H13zM46 20h1v1H46zM3 34h1v1H3zM55 37h1v1H55zM20 46h1v1H20zM37 55h1v1H37z"/><path fill="#e8f69b" d="M35 3h1v1H35zM13 4h1v1H13zM41 12h1v1H41zM4 13h1v1H4zM38 21h1v1H38zM3 35h1v1H3zM21 38h1v1H21zM12 41h1v1H12z"/><path fill="#90d2a4" d="M36 3h1v1H36zM3 36h1v1H3z"/><path fill="#fdb264" d="M38 3h1v1H38zM3 38h1v1H3z"/><path fill="#fee797" d="M39 3h1v1H39zM54 23h1v1H54zM40 31h1v1H40zM3 39h1v1H3zM31 40h1v1H31zM49 42h2v1H49zM42 49h1v1H42zM42 50h1v1H42zM23 54h1v1H23z"/><path fill="#fff5af" d="M40 3h1v1H40zM11 4h1v1H11zM9 7h1v1H9zM45 8h1v1H45zM7 9h1v1H7zM44 10h1v1H44zM4 11h1v1H4zM3 40h1v1H3zM10 44h1v1H10zM8 45h1v1H8zM52 49h1v1H52zM49 52h1v1H49z"/><path fill="#fed884" d="M41 3h1v1H41zM38 30h1v1H38zM30 38h1v1H30zM3 41h1v1H3z"/><path fill="#4199b6" d="M42 3h1v1H42zM52 3h1v1H52zM32 15h1v1H32zM44 19h1v1H44zM56 19h1v1H56zM43 30h1v1H43zM15 32h1v1H15zM3 42h1v1H3zM30 43h1v1H30zM19 44h1v1H19zM3 52h1v1H3zM19 56h1v1H19z"/><path fill="#3990ba" d="M43 3h1v1H43zM44 4h1v1H44zM30 5h1v1H30zM52 6h2v1H52zM49 7h1v1H49zM5 30h1v1H5zM3 43h1v1H3zM4 44h1v1H4zM7 49h1v1H7zM6 52h1v1H6zM6 53h1v1H6z"/><path fill="#79caa5" d="M44 3h1v1H44zM3 44h1v1H3z"/><path fill="#58b3ab" d="M45 3h1v1H45zM33 5h1v1H33zM55 5h1v1H55zM29 12h1v1H29zM33 12h1v1H33zM49 15h1v1H49zM25 17h1v1H25zM32 21h1v1H32zM17 25h1v1H17zM12 29h1v1H12zM21 32h1v1H21zM5 33h1v1H5zM12 33h1v1H12zM3 45h1v1H3zM15 49h1v1H15zM5 55h1v1H5z"/><path fill="#5cb7aa" d="M46 3h1v1H46zM25 12h1v1H25zM28 13h1v1H28zM12 25h1v1H12zM13 28h1v1H13zM49 41h1v1H49zM3 46h1v1H3zM41 49h1v1H41z"/><path fill="#4ea8b0" d="M47 3h1v1H47zM27 8h1v1H27zM8 27h1v1H8zM3 47h1v1H3z"/><path fill="#83cda5" d="M48 3h1v1H48zM56 14h1v1H56zM52 29h1v1H52zM52 31h1v1H52zM43 41h1v1H43zM41 43h1v1H41zM3 48h1v1H3zM29 52h1v1H29zM31 52h1v1H31zM14 56h1v1H14z"/><path fill="#456fb1" d="M49 3h1v1H49zM55 6h1v1H55zM25 11h1v1H25zM22 19h1v1H22zM19 22h1v1H19zM11 25h1v1H11zM46 28h1v1H46zM28 46h1v1H28zM3 49h1v1H3zM6 55h1v1H6z"/><path fill="#3782ba" d="M50 3h1v1H50zM28 6h1v1H28zM6 28h1v1H6zM43 34h1v1H43zM34 43h1v1H34zM3 50h1v1H3z"/><path fill="#48a1b3" d="M53 3h1v1H53zM57 4h1v1H57zM29 5h1v1H29zM23 11h1v1H23zM49 17h2v1H49zM56 20h1v1H56zM11 23h1v1H11zM5 29h1v1H5zM51 36h1v1H51zM17 49h1v1H17zM17 50h1v1H17zM36 51h1v1H36zM3 53h1v1H3zM20 56h1v1H20zM4 57h1v1H4z"/><path fill="#51aaaf" d="M54 3h1v1H54zM32 10h1v1H32zM10 32h1v1H10zM49 35h1v1H49zM45 36h1v1H45zM36 45h1v1H36zM35 49h1v1H35zM3 54h1v1H3z"/><path fill="#3486bc" d="M55 3h1v1H55zM51 10h1v1H51zM42 30h1v1H42zM30 42h1v1H30zM10 51h1v1H10zM3 55h1v1H3z"/><path fill="#3a7eb8" d="M56 3h1v1H56zM55 9h1v1H55zM50 19h1v1H50zM48 22h1v1H48zM42 36h1v1H42zM50 37h1v1H50zM36 42h1v1H36zM22 48h1v1H22zM19 50h1v1H19zM37 50h1v1H37zM9 55h1v1H9zM3 56h1v1H3z"/><path fill="#59b3ab" d="M57 3h1v1H57zM30 6h1v1H30zM32 18h1v1H32zM6 30h1v1H6zM18 32h1v1H18zM52 40h1v1H52zM40 52h1v1H40zM3 57h1v1H3z"/><path fill="#cdeb9d" d="M5 4h1v1H5zM4 5h1v1H4zM17 7h1v1H17zM41 11h1v1H41zM37 15h1v1H37zM7 17h1v1H7zM28 17h1v1H28zM33 19h1v1H33zM17 28h1v1H17zM19 33h1v1H19zM15 37h1v1H15zM11 41h1v1H11z"/><path fill="#bce4a0" d="M6 4h1v1H6zM4 6h1v1H4zM48 16h1v1H48zM49 32h1v1H49zM49 46h1v1H49zM16 48h1v1H16zM32 49h1v1H32zM46 49h1v1H46z"/><path fill="#fdb163" d="M8 4h1v1H8zM4 8h1v1H4z"/><path fill="#fec978" d="M16 4h1v1H16zM4 16h1v1H4zM38 37h1v1H38zM37 38h1v1H37zM53 43h1v1H53zM43 53h1v1H43zM56 54h1v1H56zM54 56h1v1H54z"/><path fill="#fee492" d="M17 4h1v1H17zM39 4h1v1H39zM42 13h1v1H42zM4 17h1v1H4zM34 27h1v1H34zM39 28h1v1H39zM27 34h1v1H27zM4 39h1v1H4zM28 39h1v1H28zM13 42h1v1H13zM47 44h1v1H47zM44 47h1v1H44z"/><path fill="#fdad61" d="M18 4h1v1H18zM4 18h1v1H4zM24 22h1v1H24zM22 24h1v1H22z"/><path fill="#c3e79f" d="M20 4h1v1H20zM4 20h1v1H4zM55 31h1v1H55zM37 36h1v1H37zM36 37h1v1H36zM54 47h1v1H54zM47 54h1v1H47zM31 55h1v1H31z"/><path fill="#addea4" d="M21 4h1v1H21zM36 15h1v1H36zM21 16h1v1H21zM21 17h1v1H21zM4 21h1v1H4zM16 21h2v1H16zM46 21h1v1H46zM57 33h1v1H57zM15 36h1v1H15zM57 41h1v1H57zM21 46h1v1H21zM33 57h1v1H33zM41 57h1v1H41z"/><path fill="#90d3a4" d="M22 4h1v1H22zM4 22h1v1H4z"/><path fill="#3d95b8" d="M24 4h1v1H24zM56 5h1v1H56zM25 21h1v1H25zM4 24h1v1H4zM21 25h1v1H21zM52 38h1v1H52zM38 52h1v1H38zM5 56h1v1H5z"/><path fill="#ddf29a" d="M26 4h1v1H26zM4 26h1v1H4z"/><path fill="#c1e6a0" d="M28 4h1v1H28zM35 15h1v1H35zM4 28h1v1H4zM15 35h1v1H15z"/><path fill="#c9e99e" d="M29 4h1v1H29zM40 11h1v1H40zM52 27h1v1H52zM4 29h1v1H4zM53 30h1v1H53zM54 33h1v1H54zM11 40h1v1H11zM53 45h1v1H53zM50 46h1v1H50zM46 50h1v1H46zM27 52h1v1H27zM30 53h1v1H30zM45 53h1v1H45zM33 54h1v1H33z"/><path fill="#98d6a4" d="M31 4h1v1H31zM20 8h1v1H20zM8 20h1v1H8zM4 31h1v1H4zM51 46h1v1H51zM46 51h1v1H46z"/><path fill="#8ed2a4" d="M32 4h1v1H32zM4 32h1v1H4zM52 48h1v1H52zM48 52h1v1H48z"/><path fill="#bbe3a1" d="M34 4h1v1H34zM4 34h1v1H4z"/><path fill="#e4f498" d="M36 4h1v1H36zM41 14h1v1H41zM45 18h2v1H45zM33 22h1v1H33zM35 24h1v1H35zM22 33h1v1H22zM24 35h1v1H24zM4 36h1v1H4zM56 36h1v1H56zM14 41h1v1H14zM18 45h1v1H18zM18 46h1v1H18zM36 56h1v1H36z"/><path fill="#fff7b1" d="M37 4h1v1H37zM42 5h1v1H42zM42 10h1v1H42zM35 27h1v1H35zM57 28h1v1H57zM41 30h1v1H41zM27 35h1v1H27zM4 37h1v1H4zM30 41h1v1H30zM5 42h1v1H5zM10 42h1v1H10zM28 57h1v1H28z"/><path fill="#fffbb8" d="M40 4h2v1H40zM8 5h1v1H8zM5 8h1v1H5zM4 40h1v1H4zM4 41h1v1H4z"/><path fill="#4ba4b1" d="M42 4h1v1H42zM47 4h1v1H47zM50 33h1v1H50zM42 35h1v1H42zM44 39h1v1H44zM4 42h1v1H4zM35 42h1v1H35zM39 44h1v1H39zM4 47h1v1H4zM33 50h1v1H33z"/><path fill="#3e95b8" d="M43 4h1v1H43zM31 16h1v1H31zM16 31h1v1H16zM4 43h1v1H4z"/><path fill="#5bb6aa" d="M45 4h1v1H45zM54 11h1v1H54zM52 18h1v1H52zM42 21h1v1H42zM46 26h1v1H46zM21 42h1v1H21zM4 45h1v1H4zM26 46h1v1H26zM18 52h1v1H18zM11 54h1v1H11z"/><path fill="#3386bc" d="M48 4h1v1H48zM52 21h1v1H52zM4 48h1v1H4zM21 52h1v1H21z"/><path fill="#397fb9" d="M49 4h1v1H49zM52 19h1v1H52zM4 49h1v1H4zM19 52h1v1H19z"/><path fill="#525fa9" d="M50 4h1v1H50zM4 50h1v1H4z"/><path fill="#4471b2" d="M51 4h1v1H51zM50 10h1v1H50zM52 13h1v1H52zM45 25h1v1H45zM25 45h1v1H25zM10 50h1v1H10zM4 51h1v1H4zM13 52h1v1H13z"/><path fill="#4e64ac" d="M52 4h1v1H52zM4 52h1v1H4z"/><path fill="#3b7db8" d="M54 4h1v1H54zM4 54h1v1H4z"/><path fill="#fffbb9" d="M9 5h1v1H9zM5 9h1v1H5z"/><path fill="#fdfebc" d="M11 5h1v1H11zM44 9h1v1H44zM5 11h1v1H5zM15 13h1v1H15zM13 15h1v1H13zM37 18h1v1H37zM38 31h1v1H38zM38 34h1v1H38zM18 37h1v1H18zM31 38h1v1H31zM34 38h1v1H34zM9 44h1v1H9z"/><path fill="#fffebe" d="M13 5h1v1H13zM12 11h1v1H12zM16 11h1v1H16zM11 12h1v1H11zM5 13h1v1H5zM17 13h1v1H17zM11 16h1v1H11zM13 17h1v1H13zM36 26h1v1H36zM26 36h1v1H26z"/><path fill="#fff0a5" d="M14 5h1v1H14zM5 14h1v1H5zM35 29h1v1H35zM29 35h1v1H29z"/><path fill="#edf8a3" d="M15 5h1v1H15zM45 9h1v1H45zM43 11h1v1H43zM44 12h1v1H44zM40 13h1v1H40zM5 15h1v1H5zM39 24h1v1H39zM56 28h1v1H56zM33 29h1v1H33zM29 33h1v1H29zM39 33h1v1H39zM40 35h1v1H40zM24 39h1v1H24zM33 39h1v1H33zM13 40h1v1H13zM35 40h1v1H35zM11 43h1v1H11zM12 44h1v1H12zM9 45h1v1H9zM28 56h1v1H28z"/><path fill="#e6f599" d="M16 5h1v1H16zM39 15h1v1H39zM5 16h1v1H5zM37 25h1v1H37zM25 37h1v1H25zM15 39h1v1H15z"/><path fill="#f1faaa" d="M17 5h1v1H17zM5 17h1v1H5zM57 43h1v1H57zM43 57h1v1H43z"/><path fill="#fff9b5" d="M18 5h1v1H18zM8 6h1v1H8zM6 8h1v1H6zM5 18h1v1H5zM54 22h1v1H54zM34 28h1v1H34zM39 29h1v1H39zM28 34h1v1H28zM29 39h1v1H29zM22 54h1v1H22z"/><path fill="#e9f69d" d="M20 5h1v1H20zM18 12h1v1H18zM27 15h1v1H27zM29 17h1v1H29zM12 18h1v1H12zM48 18h1v1H48zM5 20h1v1H5zM55 26h1v1H55zM15 27h1v1H15zM17 29h1v1H17zM54 31h1v1H54zM54 44h1v1H54zM18 48h1v1H18zM31 54h1v1H31zM44 54h1v1H44zM26 55h1v1H26z"/><path fill="#ddf19a" d="M21 5h1v1H21zM5 21h1v1H5zM54 38h1v1H54zM38 54h1v1H38z"/><path fill="#4098b7" d="M22 5h1v1H22zM29 8h1v1H29zM5 22h1v1H5zM8 29h1v1H8z"/><path fill="#466eb0" d="M23 5h1v1H23zM31 9h1v1H31zM5 23h1v1H5zM9 31h1v1H9z"/><path fill="#4372b2" d="M24 5h1v1H24zM46 22h1v1H46zM5 24h1v1H5zM43 26h1v1H43zM52 39h1v1H52zM26 43h1v1H26zM22 46h1v1H22zM39 52h1v1H39z"/><path fill="#5bb5aa" d="M25 5h1v1H25zM35 19h1v1H35zM25 20h1v1H25zM43 24h1v1H43zM5 25h1v1H5zM20 25h1v1H20zM19 35h1v1H19zM24 43h1v1H24z"/><path fill="#496baf" d="M27 5h1v1H27zM22 10h1v1H22zM10 22h1v1H10zM5 27h1v1H5zM48 30h1v1H48zM30 48h1v1H30z"/><path fill="#429ab6" d="M28 5h1v1H28zM56 6h1v1H56zM51 7h1v1H51zM5 28h1v1H5zM49 38h1v1H49zM38 49h1v1H38zM7 51h1v1H7zM6 56h1v1H6z"/><path fill="#545ca8" d="M31 5h1v1H31zM5 31h1v1H5zM45 31h1v1H45zM44 32h1v1H44zM32 44h1v1H32zM31 45h1v1H31z"/><path fill="#338abc" d="M32 5h1v1H32zM50 15h1v1H50zM5 32h1v1H5zM15 50h1v1H15z"/><path fill="#79c9a5" d="M35 5h1v1H35zM37 10h1v1H37zM51 26h1v1H51zM5 35h1v1H5zM53 35h1v1H53zM10 37h1v1H10zM26 51h1v1H26zM35 53h1v1H35z"/><path fill="#abdda4" d="M36 5h2v1H36zM19 15h1v1H19zM43 16h1v1H43zM47 16h1v1H47zM47 17h1v1H47zM15 19h1v1H15zM51 28h1v1H51zM5 36h1v1H5zM5 37h1v1H5zM55 38h1v1H55zM16 43h1v1H16zM16 47h2v1H16zM28 51h1v1H28zM38 55h1v1H38z"/><path fill="#bbe4a1" d="M38 5h1v1H38zM46 7h1v1H46zM48 12h1v1H48zM56 37h1v1H56zM5 38h1v1H5zM7 46h1v1H7zM12 48h1v1H12zM37 56h1v1H37z"/><path fill="#65c1a5" d="M39 5h1v1H39zM53 5h1v1H53zM52 15h1v1H52zM32 17h1v1H32zM26 19h1v1H26zM30 20h1v1H30zM19 26h1v1H19zM20 30h1v1H20zM17 32h1v1H17zM5 39h1v1H5zM15 52h1v1H15zM5 53h1v1H5z"/><path fill="#aadca4" d="M40 5h1v1H40zM19 7h1v1H19zM7 19h1v1H7zM5 40h1v1H5z"/><path fill="#c4e79f" d="M41 5h1v1H41zM55 28h1v1H55zM5 41h1v1H5zM51 47h1v1H51zM47 51h1v1H47zM28 55h1v1H28z"/><path fill="#ffffbf" d="M43 5h1v1H43zM18 10h1v1H18zM42 12h1v1H42zM44 13h1v1H44zM10 18h1v1H10zM55 24h1v1H55zM12 42h1v1H12zM5 43h1v1H5zM13 44h1v1H13zM24 55h1v1H24z"/><path fill="#fff3ab" d="M44 5h1v1H44zM5 44h1v1H5z"/><path fill="#f3faac" d="M46 5h1v1H46zM42 6h1v1H42zM40 15h1v1H40zM37 22h1v1H37zM52 22h1v1H52zM40 23h1v1H40zM36 30h1v1H36zM51 30h1v1H51zM30 36h1v1H30zM22 37h1v1H22zM15 40h1v1H15zM23 40h1v1H23zM6 42h1v1H6zM56 43h1v1H56zM5 46h1v1H5zM30 51h1v1H30zM22 52h1v1H22zM43 56h1v1H43z"/><path fill="#3288bd" d="M51 5h1v1H51zM32 11h1v1H32zM53 11h1v1H53zM54 20h1v1H54zM44 31h1v1H44zM11 32h1v1H11zM49 37h1v1H49zM31 44h1v1H31zM37 49h1v1H37zM5 51h1v1H5zM11 53h1v1H11zM20 54h1v1H20z"/><path fill="#3583bb" d="M52 5h1v1H52zM5 52h1v1H5z"/><path fill="#60bca8" d="M54 5h1v1H54zM5 54h1v1H5z"/><path fill="#3683bb" d="M57 5h1v1H57zM53 13h1v1H53zM23 19h1v1H23zM19 23h1v1H19zM47 26h1v1H47zM45 39h1v1H45zM50 40h1v1H50zM39 45h1v1H39zM26 47h1v1H26zM40 50h1v1H40zM13 53h1v1H13zM5 57h1v1H5z"/><path fill="#fedd89" d="M7 6h1v1H7zM6 7h1v1H6zM56 25h1v1H56zM54 52h1v1H54zM52 54h1v1H52zM25 56h1v1H25z"/><path fill="#feffbd" d="M10 6h1v1H10zM6 10h1v1H6z"/><path fill="#def29a" d="M11 6h1v1H11zM6 11h1v1H6zM49 26h1v1H49zM26 49h1v1H26z"/><path fill="#d6ef9b" d="M12 6h1v1H12zM15 6h1v1H15zM15 11h1v1H15zM6 12h1v1H6zM6 15h1v1H6zM11 15h1v1H11zM52 25h1v1H52zM53 48h1v1H53zM25 52h1v1H25zM48 53h1v1H48z"/><path fill="#fbfdb9" d="M14 6h1v1H14zM18 6h1v1H18zM48 7h1v1H48zM42 9h1v1H42zM6 14h1v1H6zM38 15h1v1H38zM6 18h1v1H6zM41 21h1v1H41zM39 23h1v1H39zM34 25h1v1H34zM54 25h1v1H54zM25 34h1v1H25zM15 38h1v1H15zM23 39h1v1H23zM21 41h1v1H21zM9 42h1v1H9zM7 48h1v1H7zM54 49h1v1H54zM25 54h1v1H25zM49 54h1v1H49z"/><path fill="#e1f399" d="M17 6h1v1H17zM6 17h1v1H6zM38 20h1v1H38zM33 24h1v1H33zM24 33h1v1H24zM20 38h1v1H20z"/><path fill="#a4daa4" d="M20 6h1v1H20zM38 10h1v1H38zM20 16h1v1H20zM6 20h1v1H6zM16 20h1v1H16zM49 31h1v1H49zM10 38h1v1H10zM31 49h1v1H31z"/><path fill="#9ad6a4" d="M21 6h1v1H21zM6 21h1v1H6z"/><path fill="#4c67ad" d="M22 6h1v1H22zM22 7h1v1H22zM6 22h2v1H6zM48 37h1v1H48zM37 48h1v1H37z"/><path fill="#525faa" d="M24 6h1v1H24zM6 24h1v1H6zM49 33h1v1H49zM33 49h1v1H33z"/><path fill="#5955a5" d="M26 6h1v1H26zM6 26h1v1H6zM45 33h1v1H45zM33 45h1v1H33z"/><path fill="#4076b5" d="M29 6h1v1H29zM49 8h1v1H49zM6 29h1v1H6zM8 49h1v1H8z"/><path fill="#3f97b7" d="M33 6h1v1H33zM26 9h1v1H26zM26 11h1v1H26zM9 26h1v1H9zM11 26h1v1H11zM6 33h1v1H6z"/><path fill="#5cb7a9" d="M34 6h1v1H34zM6 34h1v1H6z"/><path fill="#61bca7" d="M37 6h1v1H37zM28 12h1v1H28zM53 15h1v1H53zM12 28h1v1H12zM57 35h1v1H57zM6 37h1v1H6zM15 53h1v1H15zM35 57h1v1H35z"/><path fill="#9fd8a4" d="M38 6h1v1H38zM26 12h1v1H26zM44 17h1v1H44zM34 19h1v1H34zM36 21h1v1H36zM12 26h1v1H12zM19 34h1v1H19zM21 36h1v1H21zM54 36h1v1H54zM6 38h1v1H6zM17 44h1v1H17zM36 54h1v1H36z"/><path fill="#afdfa3" d="M39 6h1v1H39zM57 38h1v1H57zM6 39h1v1H6zM56 45h1v1H56zM45 56h1v1H45zM38 57h1v1H38z"/><path fill="#99d6a4" d="M40 6h1v1H40zM45 15h1v1H45zM6 40h1v1H6zM15 45h1v1H15z"/><path fill="#b6e2a2" d="M41 6h1v1H41zM44 21h1v1H44zM50 23h1v1H50zM6 41h1v1H6zM21 44h1v1H21zM23 50h1v1H23z"/><path fill="#f2faab" d="M43 6h1v1H43zM47 13h1v1H47zM46 14h1v1H46zM41 15h1v1H41zM39 18h1v1H39zM51 24h1v1H51zM33 25h1v1H33zM35 32h1v1H35zM25 33h1v1H25zM32 35h1v1H32zM18 39h1v1H18zM15 41h1v1H15zM6 43h1v1H6zM14 46h1v1H14zM13 47h1v1H13zM24 51h1v1H24z"/><path fill="#ffffbe" d="M44 6h1v1H44zM38 26h1v1H38zM36 31h1v1H36zM31 36h1v1H31zM26 38h1v1H26zM6 44h1v1H6z"/><path fill="#e0f399" d="M46 6h1v1H46zM6 46h1v1H6z"/><path fill="#3b7cb8" d="M49 6h1v1H49zM50 9h1v1H50zM6 49h1v1H6zM9 50h1v1H9z"/><path fill="#5db8a9" d="M54 6h1v1H54zM57 8h1v1H57zM57 12h1v1H57zM43 22h1v1H43zM42 38h1v1H42zM38 42h1v1H38zM22 43h1v1H22zM6 54h1v1H6zM8 57h1v1H8zM12 57h1v1H12z"/><path fill="#eef8a5" d="M13 7h1v1H13zM17 10h1v1H17zM7 13h1v1H7zM46 13h1v1H46zM41 16h1v1H41zM10 17h1v1H10zM36 23h1v1H36zM23 36h1v1H23zM16 41h1v1H16zM13 46h1v1H13z"/><path fill="#f0f9a7" d="M14 7h1v1H14zM18 8h1v1H18zM46 9h1v1H46zM7 14h1v1H7zM8 18h1v1H8zM41 20h1v1H41zM41 23h1v1H41zM49 23h1v1H49zM33 31h1v1H33zM31 33h1v1H31zM20 41h1v1H20zM23 41h1v1H23zM9 46h1v1H9zM23 49h1v1H23z"/><path fill="#daf09a" d="M15 7h1v1H15zM7 15h1v1H7zM20 18h1v1H20zM18 20h1v1H18zM39 25h1v1H39zM25 39h1v1H25z"/><path fill="#f8fcb5" d="M16 7h1v1H16zM7 16h1v1H7zM41 33h1v1H41zM33 41h1v1H33z"/><path fill="#d3ed9c" d="M18 7h1v1H18zM39 11h1v1H39zM7 18h1v1H7zM49 22h1v1H49zM52 32h1v1H52zM11 39h1v1H11zM57 47h1v1H57zM22 49h1v1H22zM32 52h1v1H32zM47 57h1v1H47z"/><path fill="#5160aa" d="M23 7h1v1H23zM49 12h1v1H49zM53 19h1v1H53zM49 21h1v1H49zM7 23h1v1H7zM12 49h1v1H12zM21 49h1v1H21zM19 53h1v1H19z"/><path fill="#4372b3" d="M24 7h1v1H24zM7 24h1v1H7zM43 25h1v1H43zM43 28h1v1H43zM45 37h1v1H45zM25 43h1v1H25zM28 43h1v1H28zM37 45h1v1H37z"/><path fill="#3d94b8" d="M26 7h1v1H26zM54 7h1v1H54zM30 12h1v1H30zM7 26h1v1H7zM12 30h1v1H12zM46 39h1v1H46zM39 46h1v1H39zM7 54h1v1H7z"/><path fill="#398fba" d="M27 7h1v1H27zM7 27h1v1H7z"/><path fill="#51abae" d="M30 7h1v1H30zM7 30h1v1H7z"/><path fill="#565aa7" d="M31 7h1v1H31zM45 23h1v1H45zM7 31h1v1H7zM23 45h1v1H23z"/><path fill="#55afad" d="M35 7h1v1H35zM23 12h1v1H23zM27 20h1v1H27zM12 23h1v1H12zM20 27h1v1H20zM47 29h1v1H47zM7 35h1v1H7zM46 35h1v1H46zM45 41h1v1H45zM41 45h1v1H41zM35 46h1v1H35zM29 47h1v1H29z"/><path fill="#81cca5" d="M37 7h1v1H37zM7 37h1v1H7z"/><path fill="#53adae" d="M38 7h1v1H38zM23 21h1v1H23zM43 21h1v1H43zM21 23h1v1H21zM7 38h1v1H7zM21 43h1v1H21z"/><path fill="#a6dba4" d="M39 7h1v1H39zM40 8h1v1H40zM7 39h1v1H7zM8 40h1v1H8zM56 40h1v1H56zM54 45h1v1H54zM45 54h1v1H45zM40 56h1v1H40z"/><path fill="#afdea3" d="M41 7h1v1H41zM7 41h1v1H7z"/><path fill="#f4fbae" d="M42 7h1v1H42zM39 13h1v1H39zM39 22h2v1H39zM33 23h1v1H33zM23 33h1v1H23zM13 39h1v1H13zM22 39h1v1H22zM22 40h1v1H22zM7 42h1v1H7z"/><path fill="#eff8a6" d="M44 7h1v1H44zM7 44h1v1H7z"/><path fill="#e6f598" d="M45 7h1v1H45zM46 16h1v1H46zM27 17h1v1H27zM37 20h1v1H37zM17 27h1v1H17zM20 37h1v1H20zM7 45h1v1H7zM16 46h1v1H16z"/><path fill="#fffab6" d="M47 7h1v1H47zM40 25h1v1H40zM37 31h1v1H37zM39 31h1v1H39zM41 34h1v1H41zM31 37h1v1H31zM31 39h1v1H31zM25 40h1v1H25zM34 41h1v1H34zM7 47h1v1H7z"/><path fill="#4a69af" d="M52 7h1v1H52zM7 52h1v1H7z"/><path fill="#4ea7b0" d="M53 7h1v1H53zM57 9h1v1H57zM26 10h1v1H26zM50 11h1v1H50zM30 16h1v1H30zM31 19h1v1H31zM10 26h1v1H10zM16 30h1v1H16zM19 31h1v1H19zM43 35h1v1H43zM35 43h1v1H35zM11 50h1v1H11zM7 53h1v1H7zM9 57h1v1H9z"/><path fill="#459db4" d="M55 7h1v1H55zM23 9h1v1H23zM27 21h1v1H27zM9 23h1v1H9zM21 27h1v1H21zM7 55h1v1H7z"/><path fill="#4097b7" d="M56 7h1v1H56zM52 8h1v1H52zM48 26h1v1H48zM48 27h1v1H48zM44 41h1v1H44zM41 44h1v1H41zM26 48h2v1H26zM8 52h1v1H8zM7 56h1v1H7z"/><path fill="#ea5d47" d="M9 8h1v1H9zM8 9h1v1H8z"/><path fill="#f67a49" d="M10 8h1v1H10zM8 10h1v1H8zM44 42h1v1H44zM42 44h1v1H42z"/><path fill="#fdb96a" d="M13 8h1v1H13zM8 13h1v1H8zM57 50h1v1H57zM50 57h1v1H50z"/><path fill="#f4fbad" d="M15 8h1v1H15zM8 15h1v1H8zM38 23h1v1H38zM23 38h1v1H23z"/><path fill="#fdfebd" d="M16 8h1v1H16zM8 16h1v1H8z"/><path fill="#f5fbaf" d="M17 8h1v1H17zM8 17h1v1H8zM21 18h1v1H21zM18 21h1v1H18zM55 23h1v1H55zM23 55h1v1H23z"/><path fill="#b2e0a3" d="M19 8h1v1H19zM21 15h1v1H21zM8 19h1v1H8zM15 21h1v1H15z"/><path fill="#439bb5" d="M23 8h1v1H23zM24 13h1v1H24zM51 14h1v1H51zM25 16h1v1H25zM28 21h1v1H28zM8 23h1v1H8zM13 24h1v1H13zM16 25h1v1H16zM21 28h1v1H21zM42 37h1v1H42zM42 40h1v1H42zM44 40h1v1H44zM48 40h1v1H48zM37 42h1v1H37zM40 42h1v1H40zM40 44h1v1H40zM40 48h1v1H40zM14 51h1v1H14z"/><path fill="#62bda7" d="M24 8h1v1H24zM33 16h1v1H33zM8 24h1v1H8zM45 24h1v1H45zM16 33h1v1H16zM24 45h1v1H24z"/><path fill="#3880b9" d="M25 8h1v1H25zM53 8h1v1H53zM55 15h1v1H55zM55 16h1v1H55zM29 19h1v1H29zM49 19h1v1H49zM8 25h1v1H8zM19 29h1v1H19zM19 49h1v1H19zM8 53h1v1H8zM15 55h2v1H15z"/><path fill="#486baf" d="M30 8h1v1H30zM8 30h1v1H8z"/><path fill="#63bea7" d="M31 8h1v1H31zM8 31h1v1H8zM50 35h1v1H50zM35 50h1v1H35z"/><path fill="#4ca5b1" d="M33 8h1v1H33zM42 28h1v1H42zM48 28h1v1H48zM8 33h1v1H8zM46 41h1v1H46zM28 42h1v1H28zM41 46h1v1H41zM28 48h1v1H28z"/><path fill="#47a0b3" d="M34 8h1v1H34zM29 10h1v1H29zM10 29h1v1H10zM8 34h1v1H8zM43 38h1v1H43zM38 43h1v1H38zM52 45h1v1H52zM45 52h1v1H45z"/><path fill="#5ab5ab" d="M36 8h1v1H36zM34 14h1v1H34zM24 20h1v1H24zM20 24h1v1H20zM44 24h1v1H44zM14 34h1v1H14zM8 36h1v1H8zM24 44h1v1H24z"/><path fill="#edf8a4" d="M38 8h1v1H38zM35 18h1v1H35zM18 35h1v1H18zM8 38h1v1H8z"/><path fill="#feefa5" d="M44 8h1v1H44zM8 44h1v1H8z"/><path fill="#fdfebb" d="M47 8h1v1H47zM56 22h1v1H56zM8 47h1v1H8zM22 56h1v1H22z"/><path fill="#fff1a8" d="M48 8h1v1H48zM38 24h1v1H38zM53 24h1v1H53zM24 38h1v1H24zM8 48h1v1H8zM24 53h1v1H24z"/><path fill="#555ba8" d="M51 8h1v1H51zM52 10h1v1H52zM8 51h1v1H8zM10 52h1v1H10z"/><path fill="#59b4ab" d="M54 8h1v1H54zM22 16h1v1H22zM24 21h1v1H24zM16 22h1v1H16zM21 24h1v1H21zM47 28h1v1H47zM28 47h1v1H28zM8 54h1v1H8z"/><path fill="#56b0ac" d="M55 8h1v1H55zM54 21h1v1H54zM50 29h1v1H50zM46 32h1v1H46zM32 46h1v1H32zM29 50h1v1H29zM21 54h1v1H21zM8 55h1v1H8z"/><path fill="#53acae" d="M56 8h1v1H56zM8 56h1v1H8z"/><path fill="#f57547" d="M10 9h1v1H10zM9 10h1v1H9z"/><path fill="#fed582" d="M11 9h1v1H11zM9 11h1v1H9zM52 43h1v1H52zM43 52h1v1H43z"/><path fill="#fdb567" d="M12 9h1v1H12zM9 12h1v1H9zM38 29h1v1H38zM29 38h1v1H29z"/><path fill="#fdac60" d="M14 9h1v1H14zM9 14h1v1H9z"/><path fill="#f4faad" d="M16 9h1v1H16zM9 16h1v1H9zM39 17h1v1H39zM41 19h1v1H41zM54 32h1v1H54zM17 39h1v1H17zM19 41h1v1H19zM32 54h1v1H32z"/><path fill="#feeea3" d="M17 9h1v1H17zM9 17h1v1H9zM40 32h1v1H40zM32 40h1v1H32z"/><path fill="#b8e2a1" d="M19 9h1v1H19zM29 18h1v1H29zM9 19h1v1H9zM39 19h1v1H39zM48 19h1v1H48zM18 29h1v1H18zM19 39h1v1H19zM54 39h1v1H54zM19 48h1v1H19zM39 54h1v1H39z"/><path fill="#b1dfa3" d="M20 9h1v1H20zM9 20h1v1H9zM51 27h1v1H51zM27 51h1v1H27z"/><path fill="#b3e0a2" d="M21 9h1v1H21zM9 21h1v1H9zM56 33h1v1H56zM56 35h1v1H56zM51 45h1v1H51zM53 47h1v1H53zM45 51h1v1H45zM47 53h1v1H47zM33 56h1v1H33zM35 56h1v1H35z"/><path fill="#3e78b5" d="M22 9h1v1H22zM52 14h1v1H52zM9 22h1v1H9zM48 24h1v1H48zM24 48h1v1H24zM14 52h1v1H14z"/><path fill="#358cbb" d="M27 9h1v1H27zM9 27h1v1H9z"/><path fill="#3881ba" d="M29 9h1v1H29zM46 25h1v1H46zM9 29h1v1H9zM25 46h1v1H25z"/><path fill="#5fbaa8" d="M34 9h1v1H34zM9 34h1v1H9zM48 39h1v1H48zM39 48h1v1H39z"/><path fill="#73c7a5" d="M35 9h1v1H35zM9 35h1v1H9zM52 36h1v1H52zM53 37h1v1H53zM36 52h1v1H36zM37 53h1v1H37z"/><path fill="#76c8a5" d="M36 9h1v1H36zM20 11h1v1H20zM33 11h1v1H33zM42 19h1v1H42zM11 20h1v1H11zM11 33h1v1H11zM9 36h1v1H9zM19 42h1v1H19z"/><path fill="#7ecca5" d="M37 9h1v1H37zM33 14h1v1H33zM14 33h1v1H14zM9 37h1v1H9z"/><path fill="#b9e3a1" d="M38 9h1v1H38zM40 17h1v1H40zM45 19h1v1H45zM47 19h1v1H47zM40 21h1v1H40zM53 29h1v1H53zM9 38h1v1H9zM17 40h1v1H17zM21 40h1v1H21zM19 45h1v1H19zM19 47h1v1H19zM29 53h1v1H29z"/><path fill="#c2e69f" d="M39 9h1v1H39zM37 12h1v1H37zM12 37h1v1H12zM9 39h1v1H9z"/><path fill="#9dd7a4" d="M41 9h1v1H41zM9 41h1v1H9z"/><path fill="#fff9b6" d="M43 9h1v1H43zM9 43h1v1H9zM57 49h1v1H57zM49 57h1v1H49z"/><path fill="#feffbe" d="M47 9h1v1H47zM37 32h1v1H37zM32 37h1v1H32zM9 47h1v1H9z"/><path fill="#4b67ad" d="M49 9h1v1H49zM9 49h1v1H9z"/><path fill="#469eb4" d="M51 9h1v1H51zM23 13h1v1H23zM23 14h1v1H23zM52 17h1v1H52zM13 23h2v1H13zM43 33h1v1H43zM47 39h1v1H47zM33 43h1v1H33zM39 47h1v1H39zM9 51h1v1H9zM17 52h1v1H17z"/><path fill="#4fa9b0" d="M53 9h1v1H53zM24 16h1v1H24zM24 17h1v1H24zM16 24h2v1H16zM9 53h1v1H9z"/><path fill="#58b2ab" d="M54 9h1v1H54zM52 41h1v1H52zM41 52h1v1H41zM9 54h1v1H9z"/><path fill="#feeb9e" d="M12 10h1v1H12zM10 12h1v1H10zM57 53h1v1H57zM53 57h1v1H53z"/><path fill="#fed784" d="M13 10h2v1H13zM10 13h1v1H10zM10 14h1v1H10z"/><path fill="#ecf8a2" d="M15 10h1v1H15zM10 15h1v1H10z"/><path fill="#ceeb9d" d="M20 10h1v1H20zM46 15h1v1H46zM47 18h1v1H47zM38 19h1v1H38zM10 20h1v1H10zM19 38h1v1H19zM15 46h1v1H15zM18 47h1v1H18zM50 47h1v1H50zM47 50h1v1H47z"/><path fill="#80cca5" d="M24 10h1v1H24zM10 24h1v1H10zM50 30h1v1H50zM30 50h1v1H30z"/><path fill="#51abaf" d="M33 10h1v1H33zM24 12h1v1H24zM31 13h1v1H31zM12 24h1v1H12zM13 31h1v1H13zM10 33h1v1H10zM46 36h1v1H46zM36 46h1v1H36z"/><path fill="#7fcca5" d="M36 10h1v1H36zM43 19h1v1H43zM10 36h1v1H10zM51 40h1v1H51zM19 43h1v1H19zM55 47h1v1H55zM40 51h1v1H40zM47 55h1v1H47z"/><path fill="#f9fcb5" d="M47 10h1v1H47zM48 14h1v1H48zM41 17h1v1H41zM17 41h1v1H17zM10 47h1v1H10zM14 48h1v1H14z"/><path fill="#fee999" d="M48 10h1v1H48zM41 29h1v1H41zM29 41h1v1H29zM10 48h1v1H10z"/><path fill="#3b92b9" d="M55 10h1v1H55zM42 24h1v1H42zM53 40h1v1H53zM24 42h1v1H24zM40 53h1v1H40zM10 55h1v1H10z"/><path fill="#fed380" d="M14 11h1v1H14zM11 14h1v1H11z"/><path fill="#ecf7a2" d="M17 11h1v1H17zM11 17h1v1H11zM43 18h1v1H43zM37 19h1v1H37zM19 37h1v1H19zM18 43h1v1H18z"/><path fill="#f6fbb0" d="M18 11h1v1H18zM11 18h1v1H11z"/><path fill="#acdda4" d="M19 11h1v1H19zM45 16h1v1H45zM11 19h1v1H11zM54 34h1v1H54zM16 45h1v1H16zM34 54h1v1H34z"/><path fill="#7bcaa5" d="M21 11h1v1H21zM36 14h1v1H36zM42 20h1v1H42zM11 21h1v1H11zM35 21h1v1H35zM21 35h1v1H21zM14 36h1v1H14zM20 42h1v1H20z"/><path fill="#525ea9" d="M22 11h1v1H22zM11 22h1v1H11zM45 30h1v1H45zM48 33h1v1H48zM30 45h1v1H30zM33 48h1v1H33z"/><path fill="#68c3a5" d="M24 11h1v1H24zM57 17h1v1H57zM31 18h1v1H31zM11 24h1v1H11zM18 31h1v1H18zM51 34h1v1H51zM34 51h1v1H34zM17 57h1v1H17z"/><path fill="#6ac3a5" d="M28 11h1v1H28zM21 12h1v1H21zM12 21h1v1H12zM11 28h1v1H11z"/><path fill="#486cb0" d="M30 11h1v1H30zM11 30h1v1H11zM43 36h1v1H43zM36 43h1v1H36z"/><path fill="#3d7ab6" d="M31 11h1v1H31zM45 27h1v1H45zM46 29h1v1H46zM11 31h1v1H11zM46 37h1v1H46zM27 45h1v1H27zM29 46h1v1H29zM37 46h1v1H37z"/><path fill="#8bd0a4" d="M35 11h1v1H35zM11 35h1v1H11z"/><path fill="#d1ec9c" d="M38 11h1v1H38zM38 14h1v1H38zM57 32h1v1H57zM11 38h1v1H11zM14 38h1v1H14zM32 57h1v1H32z"/><path fill="#fffebd" d="M42 11h1v1H42zM34 23h1v1H34zM23 34h1v1H23zM11 42h1v1H11z"/><path fill="#f3faad" d="M46 11h1v1H46zM16 13h1v1H16zM18 13h1v1H18zM13 16h1v1H13zM40 16h1v1H40zM13 18h1v1H13zM16 40h1v1H16zM55 44h1v1H55zM11 46h1v1H11zM44 55h1v1H44z"/><path fill="#f7fcb2" d="M47 11h1v1H47zM15 12h1v1H15zM12 15h1v1H12zM37 17h1v1H37zM51 22h1v1H51zM39 32h1v1H39zM17 37h1v1H17zM32 39h1v1H32zM11 47h1v1H11zM22 51h1v1H22z"/><path fill="#e7f59a" d="M48 11h1v1H48zM37 16h1v1H37zM35 22h1v1H35zM38 25h1v1H38zM22 35h1v1H22zM16 37h1v1H16zM25 38h1v1H25zM11 48h1v1H11z"/><path fill="#4ba3b2" d="M55 11h1v1H55zM11 55h1v1H11z"/><path fill="#fecd7b" d="M14 12h1v1H14zM12 14h1v1H12zM30 29h1v1H30zM29 30h1v1H29z"/><path fill="#f7fcb3" d="M16 12h1v1H16zM12 16h1v1H12zM40 20h1v1H40zM34 29h1v1H34zM35 31h1v1H35zM29 34h1v1H29zM31 35h1v1H31zM20 40h1v1H20z"/><path fill="#eaf79e" d="M17 12h1v1H17zM12 17h1v1H12zM54 26h1v1H54zM56 26h1v1H56zM26 54h1v1H26zM26 56h1v1H26z"/><path fill="#96d5a4" d="M19 12h1v1H19zM12 19h1v1H12z"/><path fill="#57b1ac" d="M27 12h1v1H27zM26 13h1v1H26zM57 16h1v1H57zM13 26h1v1H13zM12 27h1v1H12zM47 41h1v1H47zM41 47h1v1H41zM16 57h1v1H16z"/><path fill="#78c9a5" d="M32 12h1v1H32zM12 32h1v1H12zM51 33h1v1H51zM33 51h1v1H33z"/><path fill="#a2daa4" d="M35 12h1v1H35zM12 35h1v1H12z"/><path fill="#63bfa6" d="M36 12h1v1H36zM55 14h1v1H55zM32 20h1v1H32zM20 32h1v1H20zM12 36h1v1H12zM14 55h1v1H14z"/><path fill="#f6fcb1" d="M43 12h1v1H43zM34 22h1v1H34zM22 34h1v1H22zM12 43h1v1H12z"/><path fill="#fff6b0" d="M46 12h1v1H46zM34 30h1v1H34zM30 34h1v1H30zM47 45h1v1H47zM12 46h1v1H12zM45 47h1v1H45z"/><path fill="#5b53a4" d="M50 12h1v1H50zM45 32h1v1H45zM32 45h1v1H32zM12 50h1v1H12z"/><path fill="#469fb4" d="M54 12h1v1H54zM54 14h1v1H54zM53 33h1v1H53zM33 53h1v1H33zM12 54h1v1H12zM14 54h1v1H14z"/><path fill="#75c8a5" d="M56 12h1v1H56zM45 21h1v1H45zM21 45h1v1H21zM12 56h1v1H12z"/><path fill="#fee593" d="M14 13h1v1H14zM13 14h1v1H13zM37 26h1v1H37zM26 37h1v1H26z"/><path fill="#77c8a5" d="M21 13h1v1H21zM13 21h1v1H13z"/><path fill="#7ccba5" d="M35 13h1v1H35zM22 17h1v1H22zM48 17h1v1H48zM17 22h1v1H17zM13 35h1v1H13zM57 37h1v1H57zM17 48h1v1H17zM37 57h1v1H37z"/><path fill="#89d0a4" d="M36 13h1v1H36zM24 15h1v1H24zM51 16h1v1H51zM34 20h1v1H34zM43 20h1v1H43zM15 24h1v1H15zM53 26h1v1H53zM20 34h1v1H20zM13 36h1v1H13zM51 41h1v1H51zM53 41h1v1H53zM20 43h1v1H20zM16 51h1v1H16zM41 51h1v1H41zM26 53h1v1H26zM41 53h1v1H41z"/><path fill="#fafdb7" d="M41 13h1v1H41zM47 14h1v1H47zM41 25h1v1H41zM36 29h1v1H36zM54 30h1v1H54zM41 35h1v1H41zM29 36h1v1H29zM13 41h1v1H13zM25 41h1v1H25zM35 41h1v1H35zM14 47h1v1H14zM30 54h1v1H30z"/><path fill="#fff4ac" d="M45 13h1v1H45zM39 36h1v1H39zM36 39h1v1H36zM13 45h1v1H13z"/><path fill="#388eba" d="M49 13h1v1H49zM47 32h2v1H47zM50 38h1v1H50zM32 47h1v1H32zM32 48h1v1H32zM13 49h1v1H13zM38 50h1v1H38z"/><path fill="#3683ba" d="M51 13h1v1H51zM13 51h1v1H13z"/><path fill="#4d65ac" d="M55 13h1v1H55zM50 20h1v1H50zM43 29h1v1H43zM29 43h1v1H29zM20 50h1v1H20zM13 55h1v1H13z"/><path fill="#a2d9a4" d="M56 13h1v1H56zM13 56h1v1H13z"/><path fill="#4ca6b1" d="M57 13h1v1H57zM13 57h1v1H13z"/><path fill="#eaf79f" d="M15 14h1v1H15zM14 15h1v1H14zM42 16h1v1H42zM56 27h1v1H56zM16 42h1v1H16zM56 42h1v1H56zM27 56h1v1H27zM42 56h1v1H42z"/><path fill="#fbfdb8" d="M17 14h1v1H17zM14 17h1v1H14zM57 27h1v1H57zM27 57h1v1H27z"/><path fill="#fff8b3" d="M18 14h1v1H18zM14 18h1v1H14zM49 24h1v1H49zM24 49h1v1H24z"/><path fill="#64c0a6" d="M22 14h1v1H22zM14 22h1v1H14z"/><path fill="#6bc4a5" d="M26 14h1v1H26zM23 16h1v1H23zM33 20h1v1H33zM16 23h1v1H16zM14 26h1v1H14zM20 33h1v1H20zM55 45h1v1H55zM45 55h1v1H45z"/><path fill="#c0e6a0" d="M27 14h1v1H27zM14 27h1v1H14z"/><path fill="#5db7a9" d="M29 14h1v1H29zM14 29h1v1H14z"/><path fill="#bce4a1" d="M37 14h1v1H37zM14 37h1v1H14zM55 48h1v1H55zM48 55h1v1H48z"/><path fill="#d7ef9b" d="M39 14h1v1H39zM20 15h1v1H20zM15 20h1v1H15zM14 39h1v1H14z"/><path fill="#d0ec9d" d="M40 14h1v1H40zM53 23h1v1H53zM14 40h1v1H14zM23 53h1v1H23z"/><path fill="#fcfebb" d="M43 14h1v1H43zM14 43h1v1H14z"/><path fill="#f0f9a8" d="M45 14h1v1H45zM14 45h1v1H14z"/><path fill="#3e79b6" d="M49 14h1v1H49zM22 20h1v1H22zM20 22h1v1H20zM14 49h1v1H14z"/><path fill="#439ab5" d="M50 14h1v1H50zM14 50h1v1H14z"/><path fill="#3c93b9" d="M53 14h1v1H53zM14 53h1v1H14z"/><path fill="#fa9756" d="M16 15h1v1H16zM15 16h1v1H15zM23 22h1v1H23zM22 23h1v1H22z"/><path fill="#fdb86a" d="M17 15h1v1H17zM15 17h1v1H15z"/><path fill="#fcaa5f" d="M18 15h1v1H18zM15 18h1v1H15z"/><path fill="#71c6a5" d="M23 15h1v1H23zM30 19h1v1H30zM15 23h1v1H15zM19 30h1v1H19zM51 38h1v1H51zM38 51h1v1H38z"/><path fill="#b5e1a2" d="M28 15h1v1H28zM15 28h1v1H15zM49 29h1v1H49zM54 40h1v1H54zM50 45h1v1H50zM29 49h1v1H29zM45 50h1v1H45zM40 54h1v1H40z"/><path fill="#6cc4a5" d="M30 15h1v1H30zM42 22h1v1H42zM49 27h1v1H49zM15 30h1v1H15zM22 42h1v1H22zM27 49h1v1H27z"/><path fill="#8ad0a4" d="M33 15h1v1H33zM15 33h1v1H15z"/><path fill="#bae3a1" d="M44 15h1v1H44zM48 15h1v1H48zM19 16h1v1H19zM16 19h1v1H16zM57 29h1v1H57zM15 44h1v1H15zM15 48h1v1H15zM29 57h1v1H29z"/><path fill="#94d4a4" d="M47 15h1v1H47zM56 34h1v1H56zM15 47h1v1H15zM34 56h1v1H34z"/><path fill="#5ab4ab" d="M56 15h1v1H56zM26 20h1v1H26zM20 26h1v1H20zM15 56h1v1H15z"/><path fill="#f67848" d="M17 16h1v1H17zM16 17h1v1H16z"/><path fill="#f8884f" d="M18 16h1v1H18zM16 18h1v1H16zM32 26h1v1H32zM26 32h1v1H26z"/><path fill="#81cda5" d="M26 16h1v1H26zM16 26h1v1H16z"/><path fill="#eaf69e" d="M39 16h1v1H39zM51 23h1v1H51zM37 33h1v1H37zM33 37h1v1H33zM16 39h1v1H16zM23 51h1v1H23z"/><path fill="#66c2a5" d="M49 16h1v1H49zM30 17h1v1H30zM36 20h1v1H36zM17 30h1v1H17zM20 36h1v1H20zM16 49h1v1H16z"/><path fill="#6cc5a5" d="M52 16h1v1H52zM16 52h1v1H16z"/><path fill="#f8864f" d="M18 17h1v1H18zM17 18h1v1H17z"/><path fill="#a7dba4" d="M26 17h1v1H26zM17 26h1v1H17zM55 35h1v1H55zM35 55h1v1H35z"/><path fill="#fee491" d="M38 17h1v1H38zM17 38h1v1H17zM51 42h1v1H51zM42 51h1v1H42z"/><path fill="#9dd8a4" d="M42 17h1v1H42zM45 17h1v1H45zM42 18h1v1H42zM17 42h2v1H17zM17 45h1v1H17z"/><path fill="#5cb6aa" d="M53 17h1v1H53zM17 53h1v1H17z"/><path fill="#3980b9" d="M55 17h1v1H55zM17 55h1v1H17z"/><path fill="#6dc5a5" d="M23 18h1v1H23zM35 20h1v1H35zM18 23h1v1H18zM47 30h1v1H47zM48 34h1v1H48zM20 35h1v1H20zM30 47h1v1H30zM34 48h1v1H34z"/><path fill="#476db0" d="M25 18h1v1H25zM18 25h1v1H18zM48 29h1v1H48zM29 48h1v1H29z"/><path fill="#9ed8a4" d="M26 18h1v1H26zM18 26h1v1H18zM52 26h1v1H52zM55 46h2v1H55zM26 52h1v1H26zM46 55h1v1H46zM46 56h1v1H46z"/><path fill="#d4ee9c" d="M27 18h1v1H27zM40 19h1v1H40zM18 27h1v1H18zM57 39h1v1H57zM19 40h1v1H19zM39 57h1v1H39z"/><path fill="#50aaaf" d="M30 18h1v1H30zM47 22h1v1H47zM18 30h1v1H18zM46 40h1v1H46zM40 46h1v1H40zM22 47h1v1H22z"/><path fill="#e8f69a" d="M40 18h1v1H40zM18 40h1v1H18z"/><path fill="#fff2aa" d="M41 18h1v1H41zM18 41h1v1H18z"/><path fill="#49a1b3" d="M49 18h1v1H49zM18 49h1v1H18z"/><path fill="#4fa8b0" d="M55 18h1v1H55zM47 40h1v1H47zM40 47h1v1H40zM18 55h1v1H18z"/><path fill="#3389bc" d="M56 18h1v1H56zM44 34h1v1H44zM34 44h1v1H34zM18 56h1v1H18z"/><path fill="#fff4ad" d="M20 19h1v1H20zM19 20h1v1H19zM45 43h1v1H45zM45 44h1v1H45zM43 45h2v1H43z"/><path fill="#358bbc" d="M28 19h1v1H28zM42 23h1v1H42zM19 28h1v1H19zM23 42h1v1H23z"/><path fill="#56b0ad" d="M51 19h1v1H51zM19 51h1v1H19z"/><path fill="#5c52a3" d="M54 19h1v1H54zM19 54h1v1H19z"/><path fill="#3387bc" d="M55 19h1v1H55zM49 20h1v1H49zM50 21h1v1H50zM43 27h1v1H43zM45 40h1v1H45zM27 43h1v1H27zM40 45h1v1H40zM20 49h1v1H20zM21 50h1v1H21zM19 55h1v1H19z"/><path fill="#65c0a6" d="M28 20h1v1H28zM20 28h1v1H20z"/><path fill="#6fc5a5" d="M29 20h1v1H29zM20 29h1v1H20zM48 41h1v1H48zM41 48h1v1H41z"/><path fill="#3a90b9" d="M31 20h1v1H31zM20 31h1v1H20z"/><path fill="#b7e2a2" d="M44 20h1v1H44zM20 44h1v1H20z"/><path fill="#b0dfa3" d="M47 20h1v1H47zM50 26h1v1H50zM20 47h1v1H20zM26 50h1v1H26z"/><path fill="#7dcba5" d="M48 20h1v1H48zM20 48h1v1H20z"/><path fill="#378dbb" d="M51 20h1v1H51zM26 21h1v1H26zM21 26h1v1H21zM20 51h1v1H20z"/><path fill="#74c8a5" d="M34 21h1v1H34zM21 34h1v1H21z"/><path fill="#bde5a0" d="M47 21h1v1H47zM21 47h1v1H21z"/><path fill="#4470b2" d="M56 21h1v1H56zM21 56h1v1H21z"/><path fill="#f98e52" d="M25 22h1v1H25zM22 25h1v1H22z"/><path fill="#fdb466" d="M26 22h1v1H26zM22 26h1v1H22zM29 27h1v1H29zM27 29h1v1H27z"/><path fill="#fee08b" d="M27 22h1v1H27zM22 27h1v1H22zM51 49h1v1H51zM49 51h1v1H49z"/><path fill="#fecb79" d="M28 22h1v1H28zM22 28h1v1H22zM46 43h1v1H46zM43 46h1v1H43z"/><path fill="#f99354" d="M29 22h1v1H29zM22 29h1v1H22z"/><path fill="#fedf8a" d="M32 22h1v1H32zM56 24h1v1H56zM40 27h1v1H40zM22 32h1v1H22zM27 40h1v1H27zM49 43h1v1H49zM43 49h1v1H43zM24 56h1v1H24z"/><path fill="#f9fdb6" d="M36 22h1v1H36zM36 27h1v1H36zM22 36h1v1H22zM27 36h1v1H27zM50 43h1v1H50zM43 50h1v1H43z"/><path fill="#4e63ac" d="M44 22h1v1H44zM45 38h1v1H45zM22 44h1v1H22zM38 45h1v1H38z"/><path fill="#f57446" d="M24 23h1v1H24zM23 24h1v1H23zM51 50h1v1H51zM50 51h1v1H50z"/><path fill="#fdbe6f" d="M26 23h1v1H26zM23 26h1v1H23zM50 49h1v1H50zM49 50h1v1H49z"/><path fill="#fca85e" d="M28 23h1v1H28zM32 24h1v1H32zM23 28h1v1H23zM24 32h1v1H24z"/><path fill="#fba05b" d="M29 23h1v1H29zM23 29h1v1H23zM32 30h1v1H32zM30 32h1v1H30z"/><path fill="#fecf7d" d="M30 23h1v1H30zM23 30h1v1H23z"/><path fill="#fdc474" d="M31 23h1v1H31zM28 26h1v1H28zM26 28h1v1H26zM23 31h1v1H23z"/><path fill="#fb9c59" d="M32 23h1v1H32zM23 32h1v1H23z"/><path fill="#479fb4" d="M43 23h1v1H43zM23 43h1v1H23z"/><path fill="#d4ed9c" d="M52 23h1v1H52zM23 52h1v1H23z"/><path fill="#fdb365" d="M57 23h1v1H57zM41 38h1v1H41zM38 41h1v1H38zM23 57h1v1H23z"/><path fill="#e65848" d="M25 24h1v1H25zM24 25h1v1H24z"/><path fill="#fdbe6e" d="M26 24h1v1H26zM24 26h1v1H24z"/><path fill="#fdc272" d="M29 24h1v1H29zM24 29h1v1H24z"/><path fill="#f7804c" d="M30 24h1v1H30zM24 30h1v1H24zM32 31h1v1H32zM31 32h1v1H31z"/><path fill="#fdc373" d="M31 24h1v1H31zM24 31h1v1H24z"/><path fill="#ebf7a1" d="M34 24h1v1H34zM24 34h1v1H24z"/><path fill="#4ca4b1" d="M46 24h1v1H46zM24 46h1v1H24z"/><path fill="#fbfeb9" d="M52 24h1v1H52zM24 52h1v1H24z"/><path fill="#fee99b" d="M26 25h1v1H26zM25 26h1v1H25z"/><path fill="#fed27f" d="M32 25h1v1H32zM25 32h1v1H25zM46 44h1v1H46zM50 44h1v1H50zM44 46h1v1H44zM44 50h1v1H44zM55 52h1v1H55zM52 55h1v1H52z"/><path fill="#466fb1" d="M47 25h1v1H47zM25 47h1v1H25z"/><path fill="#c7e99e" d="M49 25h1v1H49zM25 49h1v1H25z"/><path fill="#f6fbb1" d="M55 25h1v1H55zM55 43h1v1H55zM25 55h1v1H25zM43 55h1v1H43z"/><path fill="#fee594" d="M57 25h1v1H57zM25 57h1v1H25z"/><path fill="#fba25b" d="M29 26h1v1H29zM29 28h1v1H29zM26 29h1v1H26zM28 29h1v1H28z"/><path fill="#fecc7b" d="M30 26h1v1H30zM26 30h1v1H26z"/><path fill="#f7864f" d="M31 26h1v1H31zM26 31h1v1H26z"/><path fill="#feeea2" d="M34 26h1v1H34zM40 29h1v1H40zM26 34h1v1H26zM29 40h1v1H29z"/><path fill="#eff9a6" d="M35 26h1v1H35zM36 28h1v1H36zM26 35h1v1H26zM28 36h1v1H28z"/><path fill="#fee28e" d="M40 26h1v1H40zM26 40h1v1H26z"/><path fill="#5061ab" d="M42 26h1v1H42zM26 42h1v1H26z"/><path fill="#4aa2b2" d="M44 26h1v1H44zM26 44h1v1H26z"/><path fill="#3387bd" d="M45 26h1v1H45zM43 32h1v1H43zM32 43h1v1H32zM26 45h1v1H26z"/><path fill="#ee6445" d="M30 27h1v1H30zM27 30h1v1H27z"/><path fill="#fba15b" d="M31 27h1v1H31zM27 31h1v1H27zM52 50h1v1H52zM50 52h1v1H50z"/><path fill="#fa9957" d="M32 27h1v1H32zM27 32h1v1H27z"/><path fill="#feeca0" d="M37 27h1v1H37zM27 37h1v1H27z"/><path fill="#3f77b5" d="M44 27h1v1H44zM27 44h1v1H27z"/><path fill="#5758a6" d="M46 27h1v1H46zM46 31h1v1H46zM27 46h1v1H27zM31 46h1v1H31z"/><path fill="#fa9555" d="M30 28h1v1H30zM28 30h1v1H28z"/><path fill="#fa9556" d="M31 28h1v1H31zM28 31h1v1H28z"/><path fill="#fa9656" d="M32 28h1v1H32zM28 32h1v1H28z"/><path fill="#fffab7" d="M33 28h1v1H33zM37 29h1v1H37zM28 33h1v1H28zM29 37h1v1H29z"/><path fill="#fee38f" d="M37 28h1v1H37zM28 37h1v1H28z"/><path fill="#feea9b" d="M40 28h1v1H40zM28 40h1v1H28zM52 42h1v1H52zM42 52h1v1H42z"/><path fill="#e2f499" d="M54 28h1v1H54zM28 54h1v1H28z"/><path fill="#fdb769" d="M31 29h1v1H31zM29 31h1v1H29zM47 46h1v1H47zM46 47h1v1H46z"/><path fill="#f99455" d="M32 29h1v1H32zM29 32h1v1H29z"/><path fill="#5a55a5" d="M44 29h1v1H44zM29 44h1v1H29z"/><path fill="#4274b3" d="M45 29h1v1H45zM29 45h1v1H29z"/><path fill="#c6e89e" d="M54 29h1v1H54zM56 47h1v1H56zM29 54h1v1H29zM47 56h1v1H47z"/><path fill="#e8f69c" d="M55 29h1v1H55zM29 55h1v1H29z"/><path fill="#f67f4b" d="M31 30h1v1H31zM30 31h1v1H30z"/><path fill="#fff8b4" d="M33 30h1v1H33zM30 33h1v1H30zM39 34h1v1H39zM34 39h1v1H34z"/><path fill="#fff7b2" d="M35 30h1v1H35zM30 35h1v1H30zM38 35h1v1H38zM35 38h1v1H35z"/><path fill="#edf8a2" d="M52 30h1v1H52zM55 30h1v1H55zM30 52h1v1H30zM30 55h1v1H30z"/><path fill="#e7f599" d="M57 30h1v1H57zM54 42h1v1H54zM42 54h1v1H42zM30 57h1v1H30z"/><path fill="#fee99a" d="M41 31h1v1H41zM31 41h1v1H31zM48 45h1v1H48zM45 48h1v1H45z"/><path fill="#5956a5" d="M43 31h1v1H43zM31 43h1v1H31z"/><path fill="#5659a7" d="M48 31h1v1H48zM31 48h1v1H31z"/><path fill="#8cd1a4" d="M50 31h1v1H50zM31 50h1v1H31z"/><path fill="#82cda5" d="M53 31h1v1H53zM31 53h1v1H31z"/><path fill="#f2faaa" d="M57 31h1v1H57zM31 57h1v1H31z"/><path fill="#f9fdb5" d="M36 32h1v1H36zM39 35h1v1H39zM32 36h1v1H32zM35 39h1v1H35z"/><path fill="#fee899" d="M41 32h1v1H41zM32 41h1v1H32zM55 51h1v1H55zM51 55h1v1H51z"/><path fill="#b6e1a2" d="M53 32h1v1H53zM32 53h1v1H32z"/><path fill="#f57647" d="M34 33h1v1H34zM33 34h1v1H33z"/><path fill="#fca55d" d="M35 33h1v1H35zM33 35h1v1H33z"/><path fill="#f67c4a" d="M36 33h1v1H36zM33 36h1v1H33z"/><path fill="#f5fbb0" d="M38 33h1v1H38zM37 34h1v1H37zM34 37h1v1H34zM33 38h1v1H33z"/><path fill="#4da6b0" d="M46 33h1v1H46zM33 46h1v1H33z"/><path fill="#72c7a5" d="M55 33h1v1H55zM33 55h1v1H33z"/><path fill="#e95d47" d="M35 34h1v1H35zM34 35h1v1H34z"/><path fill="#f46f44" d="M36 34h1v1H36zM34 36h1v1H34z"/><path fill="#4f63ac" d="M45 34h1v1H45zM34 45h1v1H34z"/><path fill="#348abc" d="M46 34h1v1H46zM48 35h1v1H48zM34 46h1v1H34zM35 48h1v1H35z"/><path fill="#7ecba5" d="M47 34h1v1H47zM34 47h1v1H34z"/><path fill="#93d4a4" d="M55 34h1v1H55zM34 55h1v1H34z"/><path fill="#e75a48" d="M36 35h1v1H36zM35 36h1v1H35z"/><path fill="#429ab5" d="M44 35h1v1H44zM35 44h1v1H35z"/><path fill="#3f78b5" d="M45 35h1v1H45zM35 45h1v1H35z"/><path fill="#4174b4" d="M47 35h1v1H47zM35 47h1v1H35z"/><path fill="#449db4" d="M44 36h1v1H44zM36 44h1v1H36z"/><path fill="#fed986" d="M40 37h1v1H40zM37 40h1v1H37z"/><path fill="#fdad60" d="M41 37h1v1H41zM37 41h1v1H37z"/><path fill="#3b7cb7" d="M47 37h1v1H47zM37 47h1v1H37z"/><path fill="#58b2ac" d="M52 37h1v1H52zM37 52h1v1H37z"/><path fill="#fdbc6d" d="M40 38h1v1H40zM38 40h1v1H38z"/><path fill="#a1d9a4" d="M49 39h1v1H49zM39 49h1v1H39z"/><path fill="#f99053" d="M41 40h1v1H41zM40 41h1v1H40z"/><path fill="#4fa9af" d="M42 41h1v1H42zM41 42h1v1H41z"/><path fill="#4198b6" d="M50 41h1v1H50zM41 50h1v1H41z"/><path fill="#f88d52" d="M43 42h1v1H43zM42 43h1v1H42z"/><path fill="#fede89" d="M46 42h1v1H46zM42 46h1v1H42z"/><path fill="#fdc070" d="M48 42h1v1H48zM42 48h1v1H42z"/><path fill="#fee796" d="M53 42h1v1H53zM42 53h1v1H42z"/><path fill="#e45549" d="M44 43h1v1H44zM43 44h1v1H43z"/><path fill="#fdb668" d="M47 43h1v1H47zM43 47h1v1H43z"/><path fill="#fec977" d="M48 43h1v1H48zM43 48h1v1H43zM57 56h1v1H57zM56 57h1v1H56z"/><path fill="#fff1a7" d="M51 43h1v1H51zM43 51h1v1H43z"/><path fill="#feca79" d="M52 44h1v1H52zM44 52h1v1H44z"/><path fill="#fed280" d="M46 45h1v1H46zM45 46h1v1H45z"/><path fill="#a5dba4" d="M49 45h1v1H49zM45 49h1v1H45z"/><path fill="#fdb063" d="M48 46h1v1H48zM46 48h1v1H46z"/><path fill="#aadda4" d="M53 46h1v1H53zM46 53h1v1H46z"/><path fill="#caea9e" d="M57 46h1v1H57zM46 57h1v1H46z"/><path fill="#fdb164" d="M48 47h1v1H48zM47 48h1v1H47z"/><path fill="#c5e89f" d="M54 48h1v1H54zM48 54h1v1H48z"/><path fill="#b7e2a1" d="M56 48h1v1H56zM48 56h1v1H48z"/><path fill="#f36b43" d="M53 50h1v1H53zM50 53h1v1H50z"/><path fill="#fecf7c" d="M55 50h1v1H55zM50 55h1v1H50z"/><path fill="#f67d4a" d="M52 51h1v1H52zM51 52h1v1H51z"/><path fill="#f16944" d="M53 51h1v1H53zM51 53h1v1H51z"/><path fill="#feca78" d="M57 51h1v1H57zM51 57h1v1H51z"/><path fill="#fedd88" d="M56 52h1v1H56zM57 54h1v1H57zM52 56h1v1H52zM54 57h1v1H54z"/><path fill="#fdbf6f" d="M56 55h1v1H56zM55 56h1v1H55z"/></g><rect x="661.90" y="526.70" width="3" height="303.70" fill="#fff"/></g><g filter="url(#bl2)"><path d="M75.4 85.4V224.6M69.6 224.6H283.5" stroke="#000" stroke-width="1.6" fill="none"/><path d="M69.6 189.97H75.4M69.6 155.35H75.4M69.6 120.72H75.4M69.6 86.10H75.4M90.00 224.6V230.5M112.25 224.6V230.5M134.50 224.6V230.5M156.75 224.6V230.5M179.00 224.6V230.5M201.25 224.6V230.5M223.50 224.6V230.5M245.75 224.6V230.5M268.00 224.6V230.5" stroke="#000" stroke-width="1.6" fill="none"/><text x="67.8" y="228.30" text-anchor="end" font-weight="bold" font-size="10.4">0</text><text x="67.8" y="193.67" text-anchor="end" font-weight="bold" font-size="10.4">10</text><text x="67.8" y="159.05" text-anchor="end" font-weight="bold" font-size="10.4">20</text><text x="67.8" y="124.42" text-anchor="end" font-weight="bold" font-size="10.4">30</text><text x="67.8" y="89.80" text-anchor="end" font-weight="bold" font-size="10.4">40</text><text x="90.00" y="242.0" text-anchor="middle" font-weight="bold" font-size="10.4">20</text><text x="112.25" y="242.0" text-anchor="middle" font-weight="bold" font-size="10.4">30</text><text x="134.50" y="242.0" text-anchor="middle" font-weight="bold" font-size="10.4">40</text><text x="156.75" y="242.0" text-anchor="middle" font-weight="bold" font-size="10.4">50</text><text x="179.00" y="242.0" text-anchor="middle" font-weight="bold" font-size="10.4">60</text><text x="201.25" y="242.0" text-anchor="middle" font-weight="bold" font-size="10.4">70</text><text x="223.50" y="242.0" text-anchor="middle" font-weight="bold" font-size="10.4">80</text><text x="245.75" y="242.0" text-anchor="middle" font-weight="bold" font-size="10.4">90</text><text x="268.00" y="242.0" text-anchor="middle" font-weight="bold" font-size="10.4">100</text><text x="81.8" y="259.0" font-weight="bold" font-size="11.0" textLength="196.5" lengthAdjust="spacingAndGlyphs">Dedrogram cut at percentage height</text><text transform="translate(49.6 153.85) rotate(-90)" text-anchor="middle" font-weight="bold" font-size="10.95">Number of modules</text><polyline points="90.00,141.50 112.25,176.12 134.50,189.97 156.75,203.82 179.00,214.21 201.25,214.21 223.50,217.67 245.75,217.67 268.00,221.14" fill="none" stroke="#f88080" stroke-width="1.4"/><circle cx="90.00" cy="141.50" r="2.7" fill="#f88080"/><circle cx="112.25" cy="176.12" r="2.7" fill="#f88080"/><circle cx="134.50" cy="189.97" r="2.7" fill="#f88080"/><circle cx="156.75" cy="203.82" r="2.7" fill="#f88080"/><circle cx="179.00" cy="214.21" r="2.7" fill="#f88080"/><circle cx="201.25" cy="214.21" r="2.7" fill="#f88080"/><circle cx="223.50" cy="217.67" r="2.7" fill="#f88080"/><circle cx="245.75" cy="217.67" r="2.7" fill="#f88080"/><circle cx="268.00" cy="221.14" r="2.7" fill="#f88080"/><polyline points="90.00,113.80 112.25,155.35 134.50,179.59 156.75,193.44 179.00,203.82 201.25,210.75 223.50,214.21 245.75,214.21 268.00,221.14" fill="none" stroke="#ee3b43" stroke-width="1.4"/><circle cx="90.00" cy="113.80" r="2.7" fill="#ee3b43"/><circle cx="112.25" cy="155.35" r="2.7" fill="#ee3b43"/><circle cx="134.50" cy="179.59" r="2.7" fill="#ee3b43"/><circle cx="156.75" cy="193.44" r="2.7" fill="#ee3b43"/><circle cx="179.00" cy="203.82" r="2.7" fill="#ee3b43"/><circle cx="201.25" cy="210.75" r="2.7" fill="#ee3b43"/><circle cx="223.50" cy="214.21" r="2.7" fill="#ee3b43"/><circle cx="245.75" cy="214.21" r="2.7" fill="#ee3b43"/><circle cx="268.00" cy="221.14" r="2.7" fill="#ee3b43"/><polyline points="90.00,106.88 112.25,158.81 134.50,179.59 156.75,196.90 179.00,207.29 201.25,210.75 223.50,214.21 245.75,217.67 268.00,221.14" fill="none" stroke="#a0a0a8" stroke-width="1.4"/><circle cx="90.00" cy="106.88" r="2.7" fill="#a0a0a8"/><circle cx="112.25" cy="158.81" r="2.7" fill="#a0a0a8"/><circle cx="134.50" cy="179.59" r="2.7" fill="#a0a0a8"/><circle cx="156.75" cy="196.90" r="2.7" fill="#a0a0a8"/><circle cx="179.00" cy="207.29" r="2.7" fill="#a0a0a8"/><circle cx="201.25" cy="210.75" r="2.7" fill="#a0a0a8"/><circle cx="223.50" cy="214.21" r="2.7" fill="#a0a0a8"/><circle cx="245.75" cy="217.67" r="2.7" fill="#a0a0a8"/><circle cx="268.00" cy="221.14" r="2.7" fill="#a0a0a8"/><path d="M195.8 95.60H210.4" stroke="#a0a0a8" stroke-width="1.4"/><circle cx="202.9" cy="95.60" r="2.7" fill="#a0a0a8"/><text x="219.1" y="99.30" font-size="11.85" fill="#000" textLength="35.4" lengthAdjust="spacingAndGlyphs">Control</text><path d="M195.8 114.30H210.4" stroke="#f88080" stroke-width="1.4"/><circle cx="202.9" cy="114.30" r="2.7" fill="#f88080"/><text x="219.1" y="118.00" font-size="11.85" fill="#000" textLength="55.7" lengthAdjust="spacingAndGlyphs">Stress only</text><path d="M195.8 133.00H210.4" stroke="#ee3b43" stroke-width="1.4"/><circle cx="202.9" cy="133.00" r="2.7" fill="#ee3b43"/><text x="219.1" y="136.70" font-size="11.85" fill="#000" textLength="62.5" lengthAdjust="spacingAndGlyphs">Stress-binge</text><defs><linearGradient id="cb" x1="0" x2="1" y1="0" y2="0"><stop offset="0.000" stop-color="#9e0142"/><stop offset="0.100" stop-color="#d53e4f"/><stop offset="0.200" stop-color="#f46d43"/><stop offset="0.300" stop-color="#fdae61"/><stop offset="0.400" stop-color="#fee08b"/><stop offset="0.500" stop-color="#ffffbf"/><stop offset="0.600" stop-color="#e6f598"/><stop offset="0.700" stop-color="#abdda4"/><stop offset="0.800" stop-color="#66c2a5"/><stop offset="0.900" stop-color="#3288bd"/><stop offset="1.000" stop-color="#5e4fa2"/></linearGradient></defs><rect x="116.8" y="318.8" width="111.2" height="25.8" fill="url(#cb)"/><path d="M116.80 344.6V350.2M135.33 344.6V350.2M153.87 344.6V350.2M172.40 344.6V350.2M190.93 344.6V350.2M209.47 344.6V350.2M228.00 344.6V350.2" stroke="#000" stroke-width="1.3"/><text x="114.5" y="309.4" font-size="14.0" fill="#000">Euclidean distance</text><text x="117" y="366.6" text-anchor="middle" font-size="13" fill="#000">0</text><text x="227.8" y="366.6" text-anchor="middle" font-size="13" fill="#000">15</text><text x="1.9" y="13.1" font-weight="bold" font-size="15.2" fill="#000">A.</text><text x="345.8" y="13.0" font-weight="bold" font-size="15.2" fill="#000">B.</text><text x="0.1" y="440.6" font-weight="bold" font-size="15.2" fill="#000">C.</text><text x="345.8" y="440.6" font-weight="bold" font-size="15.2" fill="#000">D.</text><text x="500.6" y="12.8" text-anchor="middle" font-weight="bold" font-size="15.4" fill="#000">Control</text><text x="159.1" y="440.4" text-anchor="middle" font-weight="bold" font-size="15.4" fill="#000">Stress only</text><text x="509.9" y="440.4" text-anchor="middle" font-weight="bold" font-size="15.4" fill="#000">Stress-binge</text><path d="M353.02 91.10V85.95H358.49V91.10M347.54 91.10V83.33H355.76V85.95M369.45 91.10V85.60H374.93V91.10M363.97 91.10V78.42H372.19V85.60M351.65 83.33V72.46H368.08V78.42M380.40 91.10V86.83H385.88V91.10M391.36 91.10V81.22H396.84V91.10M383.14 86.83V76.67H394.10V81.22M407.79 91.10V82.45H413.27V91.10M402.31 91.10V75.44H410.53V82.45M388.62 76.67V67.21H406.42V75.44M359.86 72.46V60.55H397.52V67.21M418.75 91.10V74.92H424.23V91.10M429.70 91.10V75.44H435.18V91.10M446.14 91.10V82.97H451.61V91.10M440.66 91.10V71.41H448.87V82.97M432.44 75.44V63.18H444.77V71.41M421.49 74.92V58.45H438.60V63.18M378.69 60.55V41.28H430.04V58.45M462.57 91.10V76.32H468.05V91.10M457.09 91.10V58.80H465.31V76.32M473.52 91.10V76.32H479.00V91.10M484.48 91.10V85.43H489.96V91.10M500.91 91.10V83.68H506.39V91.10M495.43 91.10V78.42H503.65V83.68M487.22 85.43V71.41H499.54V78.42M476.26 76.32V62.30H493.38V71.41M522.82 91.10V79.47H528.30V91.10M517.34 91.10V75.44H525.56V79.47M511.87 91.10V71.41H521.45V75.44M539.25 91.10V72.46H544.73V91.10M533.78 91.10V68.96H541.99V72.46M516.66 71.41V59.67H537.88V68.96M484.82 62.30V51.44H527.27V59.67M461.20 58.80V48.29H506.05V51.44M555.69 91.10V77.19H561.16V91.10M550.21 91.10V71.94H558.43V77.19M572.12 91.10V82.45H577.60V91.10M583.08 91.10V79.47H588.55V91.10M574.86 82.45V71.41H585.81V79.47M566.64 91.10V64.93H580.34V71.41M604.99 91.10V82.10H610.46V91.10M599.51 91.10V75.44H607.72V82.10M594.03 91.10V65.46H603.62V75.44M621.42 91.10V80.17H626.90V91.10M615.94 91.10V72.46H624.16V80.17M637.85 91.10V84.73H643.33V91.10M632.37 91.10V79.47H640.59V84.73M654.28 91.10V87.18H659.76V91.10M648.81 91.10V77.19H657.02V87.18M636.48 79.47V71.41H652.91V77.19M620.05 72.46V62.30H644.70V71.41M598.82 65.46V57.40H632.37V62.30M573.49 64.93V51.26H615.60V57.40M554.32 71.94V35.67H594.54V51.26M483.62 48.29V32.52H574.43V35.67M404.37 41.28V19.38H529.03V32.52" fill="none" stroke="#787878" stroke-width="0.8"/><g fill="none" stroke="#ee16e9" stroke-width="2.40"><rect x="346.00" y="94.55" width="69.41" height="63.89"/><rect x="416.31" y="159.34" width="37.44" height="35.68"/><rect x="454.65" y="195.92" width="92.22" height="87.94"/><rect x="547.77" y="284.76" width="15.53" height="14.78"/><rect x="564.20" y="300.43" width="97.65" height="92.97"/></g><g text-rendering="geometricPrecision" transform="scale(0.100)" font-size="41.00" fill="#222" stroke="#222" stroke-width="0.00"><text x="6680.0" y="958.1">CeA</text><text x="6680.0" y="1010.4">ADM</text><text x="6680.0" y="1062.6">SNR</text><text x="6680.0" y="1114.9">CM</text><text x="6680.0" y="1167.2">VOFC</text><text x="6680.0" y="1219.4">MS</text><text x="6680.0" y="1271.7">LOFC</text><text x="6680.0" y="1323.9">VMHC</text><text x="6680.0" y="1376.2">mCg</text><text x="6680.0" y="1428.5">mLH</text><text x="6680.0" y="1480.7">DTT</text><text x="6680.0" y="1533.0">LHb</text><text x="6680.0" y="1585.2">MHb</text><text x="6680.0" y="1637.5">Ect</text><text x="6680.0" y="1689.8">VMHDM</text><text x="6680.0" y="1742.0">AIP</text><text x="6680.0" y="1794.3">DM</text><text x="6680.0" y="1846.5">PRh</text><text x="6680.0" y="1898.8">pLH</text><text x="6680.0" y="1951.0">Arc</text><text x="6680.0" y="2003.3">DR</text><text x="6680.0" y="2055.6">AI</text><text x="6680.0" y="2107.8">NAcSh</text><text x="6680.0" y="2160.1">LA</text><text x="6680.0" y="2212.3">mPVT</text><text x="6680.0" y="2264.6">Acb</text><text x="6680.0" y="2316.9">VTA</text><text x="6680.0" y="2369.1">Gus</text><text x="6680.0" y="2421.4">VP</text><text x="6680.0" y="2473.6">BLA</text><text x="6680.0" y="2525.9">Lent</text><text x="6680.0" y="2578.1">VDB</text><text x="6680.0" y="2630.4">MOFC</text><text x="6680.0" y="2682.7">ZI</text><text x="6680.0" y="2734.9">SNC</text><text x="6680.0" y="2787.2">PVN</text><text x="6680.0" y="2839.4">PH</text><text x="6680.0" y="2891.7">lBNST</text><text x="6680.0" y="2944.0">aCg</text><text x="6680.0" y="2996.2">mBNST</text><text x="6680.0" y="3048.5">AIDV</text><text x="6680.0" y="3100.7">CoA</text><text x="6680.0" y="3153.0">VPM</text><text x="6680.0" y="3205.3">LS</text><text x="6680.0" y="3257.5">VMHVL</text><text x="6680.0" y="3309.8">DS</text><text x="6680.0" y="3362.0">aPVT</text><text x="6680.0" y="3414.3">ADP</text><text x="6680.0" y="3466.5">PAG</text><text x="6680.0" y="3518.8">PrL</text><text x="6680.0" y="3571.1">NAcC</text><text x="6680.0" y="3623.3">BMA</text><text x="6680.0" y="3675.6">IL</text><text x="6680.0" y="3727.8">MeA</text><text x="6680.0" y="3780.1">vSub</text><text x="6680.0" y="3832.4">DP</text><text x="6680.0" y="3884.6">Pir</text><text x="6680.0" y="3936.9">MPA</text><text transform="translate(3482.4 4000.0) rotate(-90)" text-anchor="end">CeA</text><text transform="translate(3537.2 4000.0) rotate(-90)" text-anchor="end">ADM</text><text transform="translate(3591.9 4000.0) rotate(-90)" text-anchor="end">SNR</text><text transform="translate(3646.7 4000.0) rotate(-90)" text-anchor="end">CM</text><text transform="translate(3701.5 4000.0) rotate(-90)" text-anchor="end">VOFC</text><text transform="translate(3756.3 4000.0) rotate(-90)" text-anchor="end">MS</text><text transform="translate(3811.0 4000.0) rotate(-90)" text-anchor="end">LOFC</text><text transform="translate(3865.8 4000.0) rotate(-90)" text-anchor="end">VMHC</text><text transform="translate(3920.6 4000.0) rotate(-90)" text-anchor="end">mCg</text><text transform="translate(3975.4 4000.0) rotate(-90)" text-anchor="end">mLH</text><text transform="translate(4030.1 4000.0) rotate(-90)" text-anchor="end">DTT</text><text transform="translate(4084.9 4000.0) rotate(-90)" text-anchor="end">LHb</text><text transform="translate(4139.7 4000.0) rotate(-90)" text-anchor="end">MHb</text><text transform="translate(4194.5 4000.0) rotate(-90)" text-anchor="end">Ect</text><text transform="translate(4249.2 4000.0) rotate(-90)" text-anchor="end">VMHDM</text><text transform="translate(4304.0 4000.0) rotate(-90)" text-anchor="end">AIP</text><text transform="translate(4358.8 4000.0) rotate(-90)" text-anchor="end">DM</text><text transform="translate(4413.6 4000.0) rotate(-90)" text-anchor="end">PRh</text><text transform="translate(4468.4 4000.0) rotate(-90)" text-anchor="end">pLH</text><text transform="translate(4523.1 4000.0) rotate(-90)" text-anchor="end">Arc</text><text transform="translate(4577.9 4000.0) rotate(-90)" text-anchor="end">DR</text><text transform="translate(4632.7 4000.0) rotate(-90)" text-anchor="end">AI</text><text transform="translate(4687.5 4000.0) rotate(-90)" text-anchor="end">NAcSh</text><text transform="translate(4742.2 4000.0) rotate(-90)" text-anchor="end">LA</text><text transform="translate(4797.0 4000.0) rotate(-90)" text-anchor="end">mPVT</text><text transform="translate(4851.8 4000.0) rotate(-90)" text-anchor="end">Acb</text><text transform="translate(4906.6 4000.0) rotate(-90)" text-anchor="end">VTA</text><text transform="translate(4961.3 4000.0) rotate(-90)" text-anchor="end">Gus</text><text transform="translate(5016.1 4000.0) rotate(-90)" text-anchor="end">VP</text><text transform="translate(5070.9 4000.0) rotate(-90)" text-anchor="end">BLA</text><text transform="translate(5125.7 4000.0) rotate(-90)" text-anchor="end">Lent</text><text transform="translate(5180.4 4000.0) rotate(-90)" text-anchor="end">VDB</text><text transform="translate(5235.2 4000.0) rotate(-90)" text-anchor="end">MOFC</text><text transform="translate(5290.0 4000.0) rotate(-90)" text-anchor="end">ZI</text><text transform="translate(5344.8 4000.0) rotate(-90)" text-anchor="end">SNC</text><text transform="translate(5399.5 4000.0) rotate(-90)" text-anchor="end">PVN</text><text transform="translate(5454.3 4000.0) rotate(-90)" text-anchor="end">PH</text><text transform="translate(5509.1 4000.0) rotate(-90)" text-anchor="end">lBNST</text><text transform="translate(5563.9 4000.0) rotate(-90)" text-anchor="end">aCg</text><text transform="translate(5618.6 4000.0) rotate(-90)" text-anchor="end">mBNST</text><text transform="translate(5673.4 4000.0) rotate(-90)" text-anchor="end">AIDV</text><text transform="translate(5728.2 4000.0) rotate(-90)" text-anchor="end">CoA</text><text transform="translate(5783.0 4000.0) rotate(-90)" text-anchor="end">VPM</text><text transform="translate(5837.8 4000.0) rotate(-90)" text-anchor="end">LS</text><text transform="translate(5892.5 4000.0) rotate(-90)" text-anchor="end">VMHVL</text><text transform="translate(5947.3 4000.0) rotate(-90)" text-anchor="end">DS</text><text transform="translate(6002.1 4000.0) rotate(-90)" text-anchor="end">aPVT</text><text transform="translate(6056.9 4000.0) rotate(-90)" text-anchor="end">ADP</text><text transform="translate(6111.6 4000.0) rotate(-90)" text-anchor="end">PAG</text><text transform="translate(6166.4 4000.0) rotate(-90)" text-anchor="end">PrL</text><text transform="translate(6221.2 4000.0) rotate(-90)" text-anchor="end">NAcC</text><text transform="translate(6276.0 4000.0) rotate(-90)" text-anchor="end">BMA</text><text transform="translate(6330.7 4000.0) rotate(-90)" text-anchor="end">IL</text><text transform="translate(6385.5 4000.0) rotate(-90)" text-anchor="end">MeA</text><text transform="translate(6440.3 4000.0) rotate(-90)" text-anchor="end">vSub</text><text transform="translate(6495.1 4000.0) rotate(-90)" text-anchor="end">DP</text><text transform="translate(6549.8 4000.0) rotate(-90)" text-anchor="end">Pir</text><text transform="translate(6604.6 4000.0) rotate(-90)" text-anchor="end">MPA</text></g><path d="M4.14 529.00V518.68H9.61V529.00M20.55 529.00V526.21H26.03V529.00M15.08 529.00V511.67H23.29V526.21M6.87 518.68V508.16H19.19V511.67M36.97 529.00V523.23H42.44V529.00M31.50 529.00V515.70H39.71V523.23M58.86 529.00V524.98H64.33V529.00M53.39 529.00V516.22H61.60V524.98M47.92 529.00V511.32H57.49V516.22M35.60 515.70V506.06H52.70V511.32M75.28 529.00V521.48H80.75V529.00M69.81 529.00V517.45H78.01V521.48M91.69 529.00V527.44H97.17V529.00M86.22 529.00V521.83H94.43V527.44M102.64 529.00V521.48H108.11V529.00M90.33 521.83V517.10H105.38V521.48M73.91 517.45V512.19H97.85V517.10M113.58 529.00V525.68H119.06V529.00M124.53 529.00V523.23H130.00V529.00M116.32 525.68V519.73H127.27V523.23M140.95 529.00V523.58H146.42V529.00M135.47 529.00V516.92H143.68V523.58M121.79 519.73V508.69H139.58V516.92M85.88 512.19V505.71H130.69V508.69M44.15 506.06V498.18H108.28V505.71M13.03 508.16V490.64H76.22V498.18M157.36 529.00V523.93H162.84V529.00M151.89 529.00V518.33H160.10V523.93M173.78 529.00V524.98H179.25V529.00M168.31 529.00V520.43H176.52V524.98M184.73 529.00V515.70H190.20V529.00M172.41 520.43V510.44H187.46V515.70M156.00 518.33V502.56H179.94V510.44M201.14 529.00V524.98H206.62V529.00M195.67 529.00V515.70H203.88V524.98M217.56 529.00V523.58H223.03V529.00M212.09 529.00V512.72H220.30V523.58M199.78 515.70V498.70H216.19V512.72M167.97 502.56V490.29H207.98V498.70M233.98 529.00V520.43H239.45V529.00M228.51 529.00V514.47H236.71V520.43M250.39 529.00V520.43H255.87V529.00M244.92 529.00V514.82H253.13V520.43M261.34 529.00V521.83H266.81V529.00M272.28 529.00V519.73H277.76V529.00M264.08 521.83V511.32H275.02V519.73M249.03 514.82V507.46H269.55V511.32M232.61 514.47V497.30H259.29V507.46M288.70 529.00V522.70H294.17V529.00M283.23 529.00V511.32H291.44V522.70M310.59 529.00V525.68H316.06V529.00M305.12 529.00V517.45H313.33V525.68M299.65 529.00V503.43H309.22V517.45M287.33 511.32V496.95H304.43V503.43M245.95 497.30V488.19H295.88V496.95M187.98 490.29V474.53H270.92V488.19M44.62 490.64V457.36H229.45V474.53" fill="none" stroke="#787878" stroke-width="0.8"/><g fill="none" stroke="#ee16e9" stroke-width="2.40"><rect x="2.60" y="530.20" width="145.96" height="138.88"/><rect x="149.46" y="669.98" width="75.71" height="72.04"/><rect x="226.07" y="742.92" width="92.08" height="87.48"/></g><g text-rendering="geometricPrecision" transform="scale(0.100)" font-size="41.00" fill="#222" stroke="#222" stroke-width="0.00"><text x="3243.0" y="5337.1">PrL</text><text x="3243.0" y="5389.2">mCg</text><text x="3243.0" y="5441.3">MS</text><text x="3243.0" y="5493.4">mBNST</text><text x="3243.0" y="5545.5">MeA</text><text x="3243.0" y="5597.6">DM</text><text x="3243.0" y="5649.7">ZI</text><text x="3243.0" y="5701.8">aPVT</text><text x="3243.0" y="5753.9">VMHDM</text><text x="3243.0" y="5806.0">Lent</text><text x="3243.0" y="5858.1">NAcC</text><text x="3243.0" y="5910.2">vSub</text><text x="3243.0" y="5962.3">VDB</text><text x="3243.0" y="6014.4">DS</text><text x="3243.0" y="6066.5">NAcSh</text><text x="3243.0" y="6118.6">PRh</text><text x="3243.0" y="6170.7">LA</text><text x="3243.0" y="6222.8">BMA</text><text x="3243.0" y="6274.9">Arc</text><text x="3243.0" y="6327.0">DR</text><text x="3243.0" y="6379.1">Ect</text><text x="3243.0" y="6431.2">CoA</text><text x="3243.0" y="6483.3">DTT</text><text x="3243.0" y="6535.4">CeA</text><text x="3243.0" y="6587.5">PAG</text><text x="3243.0" y="6639.6">LHb</text><text x="3243.0" y="6691.7">MHb</text><text x="3243.0" y="6743.8">Pir</text><text x="3243.0" y="6795.9">MPA</text><text x="3243.0" y="6848.1">SNC</text><text x="3243.0" y="6900.2">Gus</text><text x="3243.0" y="6952.3">ADM</text><text x="3243.0" y="7004.4">MOFC</text><text x="3243.0" y="7056.5">VOFC</text><text x="3243.0" y="7108.6">IL</text><text x="3243.0" y="7160.7">AIDV</text><text x="3243.0" y="7212.8">VMHVL</text><text x="3243.0" y="7264.9">CM</text><text x="3243.0" y="7317.0">AI</text><text x="3243.0" y="7369.1">VP</text><text x="3243.0" y="7421.2">LS</text><text x="3243.0" y="7473.3">mLH</text><text x="3243.0" y="7525.4">Acb</text><text x="3243.0" y="7577.5">SNR</text><text x="3243.0" y="7629.6">VPM</text><text x="3243.0" y="7681.7">ADP</text><text x="3243.0" y="7733.8">lBNST</text><text x="3243.0" y="7785.9">BLA</text><text x="3243.0" y="7838.0">PH</text><text x="3243.0" y="7890.1">AIP</text><text x="3243.0" y="7942.2">pPVT</text><text x="3243.0" y="7994.3">pLH</text><text x="3243.0" y="8046.4">PVN</text><text x="3243.0" y="8098.5">VMHC</text><text x="3243.0" y="8150.6">LOFC</text><text x="3243.0" y="8202.7">aCg</text><text x="3243.0" y="8254.8">DP</text><text x="3243.0" y="8306.9">VTA</text><text transform="translate(48.4 8370.0) rotate(-90)" text-anchor="end">PrL</text><text transform="translate(103.1 8370.0) rotate(-90)" text-anchor="end">mCg</text><text transform="translate(157.8 8370.0) rotate(-90)" text-anchor="end">MS</text><text transform="translate(212.5 8370.0) rotate(-90)" text-anchor="end">mBNST</text><text transform="translate(267.3 8370.0) rotate(-90)" text-anchor="end">MeA</text><text transform="translate(322.0 8370.0) rotate(-90)" text-anchor="end">DM</text><text transform="translate(376.7 8370.0) rotate(-90)" text-anchor="end">ZI</text><text transform="translate(431.4 8370.0) rotate(-90)" text-anchor="end">aPVT</text><text transform="translate(486.2 8370.0) rotate(-90)" text-anchor="end">VMHDM</text><text transform="translate(540.9 8370.0) rotate(-90)" text-anchor="end">Lent</text><text transform="translate(595.6 8370.0) rotate(-90)" text-anchor="end">NAcC</text><text transform="translate(650.3 8370.0) rotate(-90)" text-anchor="end">vSub</text><text transform="translate(705.1 8370.0) rotate(-90)" text-anchor="end">VDB</text><text transform="translate(759.8 8370.0) rotate(-90)" text-anchor="end">DS</text><text transform="translate(814.5 8370.0) rotate(-90)" text-anchor="end">NAcSh</text><text transform="translate(869.2 8370.0) rotate(-90)" text-anchor="end">PRh</text><text transform="translate(923.9 8370.0) rotate(-90)" text-anchor="end">LA</text><text transform="translate(978.7 8370.0) rotate(-90)" text-anchor="end">BMA</text><text transform="translate(1033.4 8370.0) rotate(-90)" text-anchor="end">Arc</text><text transform="translate(1088.1 8370.0) rotate(-90)" text-anchor="end">DR</text><text transform="translate(1142.8 8370.0) rotate(-90)" text-anchor="end">Ect</text><text transform="translate(1197.6 8370.0) rotate(-90)" text-anchor="end">CoA</text><text transform="translate(1252.3 8370.0) rotate(-90)" text-anchor="end">DTT</text><text transform="translate(1307.0 8370.0) rotate(-90)" text-anchor="end">CeA</text><text transform="translate(1361.7 8370.0) rotate(-90)" text-anchor="end">PAG</text><text transform="translate(1416.5 8370.0) rotate(-90)" text-anchor="end">LHb</text><text transform="translate(1471.2 8370.0) rotate(-90)" text-anchor="end">MHb</text><text transform="translate(1525.9 8370.0) rotate(-90)" text-anchor="end">Pir</text><text transform="translate(1580.6 8370.0) rotate(-90)" text-anchor="end">MPA</text><text transform="translate(1635.4 8370.0) rotate(-90)" text-anchor="end">SNC</text><text transform="translate(1690.1 8370.0) rotate(-90)" text-anchor="end">Gus</text><text transform="translate(1744.8 8370.0) rotate(-90)" text-anchor="end">ADM</text><text transform="translate(1799.5 8370.0) rotate(-90)" text-anchor="end">MOFC</text><text transform="translate(1854.3 8370.0) rotate(-90)" text-anchor="end">VOFC</text><text transform="translate(1909.0 8370.0) rotate(-90)" text-anchor="end">IL</text><text transform="translate(1963.7 8370.0) rotate(-90)" text-anchor="end">AIDV</text><text transform="translate(2018.4 8370.0) rotate(-90)" text-anchor="end">VMHVL</text><text transform="translate(2073.2 8370.0) rotate(-90)" text-anchor="end">CM</text><text transform="translate(2127.9 8370.0) rotate(-90)" text-anchor="end">AI</text><text transform="translate(2182.6 8370.0) rotate(-90)" text-anchor="end">VP</text><text transform="translate(2237.3 8370.0) rotate(-90)" text-anchor="end">LS</text><text transform="translate(2292.1 8370.0) rotate(-90)" text-anchor="end">mLH</text><text transform="translate(2346.8 8370.0) rotate(-90)" text-anchor="end">Acb</text><text transform="translate(2401.5 8370.0) rotate(-90)" text-anchor="end">SNR</text><text transform="translate(2456.2 8370.0) rotate(-90)" text-anchor="end">VPM</text><text transform="translate(2510.9 8370.0) rotate(-90)" text-anchor="end">ADP</text><text transform="translate(2565.7 8370.0) rotate(-90)" text-anchor="end">lBNST</text><text transform="translate(2620.4 8370.0) rotate(-90)" text-anchor="end">BLA</text><text transform="translate(2675.1 8370.0) rotate(-90)" text-anchor="end">PH</text><text transform="translate(2729.8 8370.0) rotate(-90)" text-anchor="end">AIP</text><text transform="translate(2784.6 8370.0) rotate(-90)" text-anchor="end">pPVT</text><text transform="translate(2839.3 8370.0) rotate(-90)" text-anchor="end">pLH</text><text transform="translate(2894.0 8370.0) rotate(-90)" text-anchor="end">PVN</text><text transform="translate(2948.7 8370.0) rotate(-90)" text-anchor="end">VMHC</text><text transform="translate(3003.5 8370.0) rotate(-90)" text-anchor="end">LOFC</text><text transform="translate(3058.2 8370.0) rotate(-90)" text-anchor="end">aCg</text><text transform="translate(3112.9 8370.0) rotate(-90)" text-anchor="end">DP</text><text transform="translate(3167.6 8370.0) rotate(-90)" text-anchor="end">VTA</text></g><path d="M348.34 527.70V517.45H353.81V527.70M364.75 527.70V517.45H370.22V527.70M359.28 527.70V515.70H367.48V517.45M351.07 517.45V504.66H363.38V515.70M381.16 527.70V516.57H386.63V527.70M375.69 527.70V508.69H383.89V516.57M397.57 527.70V518.68H403.04V527.70M392.10 527.70V517.97H400.31V518.68M408.51 527.70V515.70H413.98V527.70M419.45 527.70V511.67H424.93V527.70M411.25 515.70V506.94H422.19V511.67M396.20 517.97V499.93H416.72V506.94M379.79 508.69V495.55H406.46V499.93M441.34 527.70V518.33H446.81V527.70M435.87 527.70V514.82H444.07V518.33M430.40 527.70V509.22H439.97V514.82M457.75 527.70V511.67H463.22V527.70M452.28 527.70V499.05H460.48V511.67M435.18 509.22V493.45H456.38V499.05M393.13 495.55V486.44H445.78V493.45M357.23 504.66V480.13H419.45V486.44M479.63 527.70V519.73H485.10V527.70M474.16 527.70V515.70H482.37V519.73M468.69 527.70V511.67H478.26V515.70M490.57 527.70V522.18H496.04V527.70M501.51 527.70V516.92H506.99V527.70M493.31 522.18V514.47H504.25V516.92M517.93 527.70V518.68H523.40V527.70M512.46 527.70V512.72H520.66V518.68M498.78 514.47V504.66H516.56V512.72M473.48 511.67V496.43H507.67V504.66M539.81 527.70V519.73H545.28V527.70M534.34 527.70V511.32H542.54V519.73M528.87 527.70V507.46H538.44V511.32M556.22 527.70V516.57H561.69V527.70M567.16 527.70V515.70H572.63V527.70M558.96 516.57V506.41H569.90V515.70M550.75 527.70V502.21H564.43V506.41M533.65 507.46V487.32H557.59V502.21M490.57 496.43V479.43H545.62V487.32M583.58 527.70V521.48H589.05V527.70M578.10 527.70V515.17H586.31V521.48M605.46 527.70V522.18H610.93V527.70M599.99 527.70V513.42H608.19V522.18M594.52 527.70V500.46H604.09V513.42M582.21 515.17V498.70H599.30V500.46M632.81 527.70V521.83H638.28V527.70M627.34 527.70V517.45H635.55V521.83M621.87 527.70V510.44H631.44V517.45M616.40 527.70V505.71H626.66V510.44M654.69 527.70V514.47H660.16V527.70M649.22 527.70V509.57H657.43V514.47M643.75 527.70V502.21H653.33V509.57M621.53 505.71V490.64H648.54V502.21M590.76 498.70V470.15H635.03V490.64M518.10 479.43V459.11H612.89V470.15M388.34 480.13V456.13H565.50V459.11" fill="none" stroke="#787878" stroke-width="0.8"/><g fill="none" stroke="#ee16e9" stroke-width="2.40"><rect x="346.80" y="528.90" width="25.55" height="24.21"/><rect x="373.25" y="554.01" width="92.10" height="87.53"/><rect x="466.26" y="642.44" width="59.28" height="56.32"/><rect x="526.43" y="699.66" width="48.34" height="45.92"/><rect x="575.67" y="746.47" width="37.39" height="35.51"/><rect x="613.96" y="782.88" width="48.54" height="45.72"/></g><g text-rendering="geometricPrecision" transform="scale(0.100)" font-size="41.00" fill="#222" stroke="#222" stroke-width="0.00"><text x="6688.0" y="5324.0">DS</text><text x="6688.0" y="5376.0">NAcC</text><text x="6688.0" y="5428.0">Acb</text><text x="6688.0" y="5480.1">AIDV</text><text x="6688.0" y="5532.1">Ect</text><text x="6688.0" y="5584.1">PRh</text><text x="6688.0" y="5636.1">LS</text><text x="6688.0" y="5688.1">LHb</text><text x="6688.0" y="5740.1">VP</text><text x="6688.0" y="5792.2">CeA</text><text x="6688.0" y="5844.2">vSub</text><text x="6688.0" y="5896.2">Pir</text><text x="6688.0" y="5948.2">Gus</text><text x="6688.0" y="6000.2">PrL</text><text x="6688.0" y="6052.2">SNR</text><text x="6688.0" y="6104.3">lBNST</text><text x="6688.0" y="6156.3">VPM</text><text x="6688.0" y="6208.3">mLH</text><text x="6688.0" y="6260.3">Arc</text><text x="6688.0" y="6312.3">MeA</text><text x="6688.0" y="6364.4">aCg</text><text x="6688.0" y="6416.4">SNC</text><text x="6688.0" y="6468.4">VDB</text><text x="6688.0" y="6520.4">DM</text><text x="6688.0" y="6572.4">ADM</text><text x="6688.0" y="6624.4">AI</text><text x="6688.0" y="6676.5">DP</text><text x="6688.0" y="6728.5">NAcSh</text><text x="6688.0" y="6780.5">DTT</text><text x="6688.0" y="6832.5">LOFC</text><text x="6688.0" y="6884.5">CoA</text><text x="6688.0" y="6936.5">BLA</text><text x="6688.0" y="6988.6">MHb</text><text x="6688.0" y="7040.6">PH</text><text x="6688.0" y="7092.6">MOFC</text><text x="6688.0" y="7144.6">IL</text><text x="6688.0" y="7196.6">mBNST</text><text x="6688.0" y="7248.6">MPA</text><text x="6688.0" y="7300.7">VOFC</text><text x="6688.0" y="7352.7">ZI</text><text x="6688.0" y="7404.7">aPVT</text><text x="6688.0" y="7456.7">VTA</text><text x="6688.0" y="7508.7">ADP</text><text x="6688.0" y="7560.8">MS</text><text x="6688.0" y="7612.8">VMHVL</text><text x="6688.0" y="7664.8">pPVT</text><text x="6688.0" y="7716.8">mCg</text><text x="6688.0" y="7768.8">VMHDM</text><text x="6688.0" y="7820.8">VMHC</text><text x="6688.0" y="7872.9">PVN</text><text x="6688.0" y="7924.9">Lent</text><text x="6688.0" y="7976.9">CM</text><text x="6688.0" y="8028.9">pLH</text><text x="6688.0" y="8080.9">DR</text><text x="6688.0" y="8132.9">PAG</text><text x="6688.0" y="8185.0">LA</text><text x="6688.0" y="8237.0">AIP</text><text x="6688.0" y="8289.0">BMA</text><text transform="translate(3490.4 8352.0) rotate(-90)" text-anchor="end">DS</text><text transform="translate(3545.1 8352.0) rotate(-90)" text-anchor="end">NAcC</text><text transform="translate(3599.8 8352.0) rotate(-90)" text-anchor="end">Acb</text><text transform="translate(3654.5 8352.0) rotate(-90)" text-anchor="end">AIDV</text><text transform="translate(3709.2 8352.0) rotate(-90)" text-anchor="end">Ect</text><text transform="translate(3763.9 8352.0) rotate(-90)" text-anchor="end">PRh</text><text transform="translate(3818.6 8352.0) rotate(-90)" text-anchor="end">LS</text><text transform="translate(3873.3 8352.0) rotate(-90)" text-anchor="end">LHb</text><text transform="translate(3928.0 8352.0) rotate(-90)" text-anchor="end">VP</text><text transform="translate(3982.7 8352.0) rotate(-90)" text-anchor="end">CeA</text><text transform="translate(4037.4 8352.0) rotate(-90)" text-anchor="end">vSub</text><text transform="translate(4092.1 8352.0) rotate(-90)" text-anchor="end">Pir</text><text transform="translate(4146.8 8352.0) rotate(-90)" text-anchor="end">Gus</text><text transform="translate(4201.5 8352.0) rotate(-90)" text-anchor="end">PrL</text><text transform="translate(4256.2 8352.0) rotate(-90)" text-anchor="end">SNR</text><text transform="translate(4311.0 8352.0) rotate(-90)" text-anchor="end">lBNST</text><text transform="translate(4365.7 8352.0) rotate(-90)" text-anchor="end">VPM</text><text transform="translate(4420.4 8352.0) rotate(-90)" text-anchor="end">mLH</text><text transform="translate(4475.1 8352.0) rotate(-90)" text-anchor="end">Arc</text><text transform="translate(4529.8 8352.0) rotate(-90)" text-anchor="end">MeA</text><text transform="translate(4584.5 8352.0) rotate(-90)" text-anchor="end">aCg</text><text transform="translate(4639.2 8352.0) rotate(-90)" text-anchor="end">SNC</text><text transform="translate(4693.9 8352.0) rotate(-90)" text-anchor="end">VDB</text><text transform="translate(4748.6 8352.0) rotate(-90)" text-anchor="end">DM</text><text transform="translate(4803.3 8352.0) rotate(-90)" text-anchor="end">ADM</text><text transform="translate(4858.0 8352.0) rotate(-90)" text-anchor="end">AI</text><text transform="translate(4912.7 8352.0) rotate(-90)" text-anchor="end">DP</text><text transform="translate(4967.4 8352.0) rotate(-90)" text-anchor="end">NAcSh</text><text transform="translate(5022.1 8352.0) rotate(-90)" text-anchor="end">DTT</text><text transform="translate(5076.9 8352.0) rotate(-90)" text-anchor="end">LOFC</text><text transform="translate(5131.6 8352.0) rotate(-90)" text-anchor="end">CoA</text><text transform="translate(5186.3 8352.0) rotate(-90)" text-anchor="end">BLA</text><text transform="translate(5241.0 8352.0) rotate(-90)" text-anchor="end">MHb</text><text transform="translate(5295.7 8352.0) rotate(-90)" text-anchor="end">PH</text><text transform="translate(5350.4 8352.0) rotate(-90)" text-anchor="end">MOFC</text><text transform="translate(5405.1 8352.0) rotate(-90)" text-anchor="end">IL</text><text transform="translate(5459.8 8352.0) rotate(-90)" text-anchor="end">mBNST</text><text transform="translate(5514.5 8352.0) rotate(-90)" text-anchor="end">MPA</text><text transform="translate(5569.2 8352.0) rotate(-90)" text-anchor="end">VOFC</text><text transform="translate(5623.9 8352.0) rotate(-90)" text-anchor="end">ZI</text><text transform="translate(5678.6 8352.0) rotate(-90)" text-anchor="end">aPVT</text><text transform="translate(5733.3 8352.0) rotate(-90)" text-anchor="end">VTA</text><text transform="translate(5788.0 8352.0) rotate(-90)" text-anchor="end">ADP</text><text transform="translate(5842.8 8352.0) rotate(-90)" text-anchor="end">MS</text><text transform="translate(5897.5 8352.0) rotate(-90)" text-anchor="end">VMHVL</text><text transform="translate(5952.2 8352.0) rotate(-90)" text-anchor="end">pPVT</text><text transform="translate(6006.9 8352.0) rotate(-90)" text-anchor="end">mCg</text><text transform="translate(6061.6 8352.0) rotate(-90)" text-anchor="end">VMHDM</text><text transform="translate(6116.3 8352.0) rotate(-90)" text-anchor="end">VMHC</text><text transform="translate(6171.0 8352.0) rotate(-90)" text-anchor="end">PVN</text><text transform="translate(6225.7 8352.0) rotate(-90)" text-anchor="end">Lent</text><text transform="translate(6280.4 8352.0) rotate(-90)" text-anchor="end">CM</text><text transform="translate(6335.1 8352.0) rotate(-90)" text-anchor="end">pLH</text><text transform="translate(6389.8 8352.0) rotate(-90)" text-anchor="end">DR</text><text transform="translate(6444.5 8352.0) rotate(-90)" text-anchor="end">PAG</text><text transform="translate(6499.2 8352.0) rotate(-90)" text-anchor="end">LA</text><text transform="translate(6553.9 8352.0) rotate(-90)" text-anchor="end">AIP</text><text transform="translate(6608.6 8352.0) rotate(-90)" text-anchor="end">BMA</text></g></g></svg>
</body></html>
